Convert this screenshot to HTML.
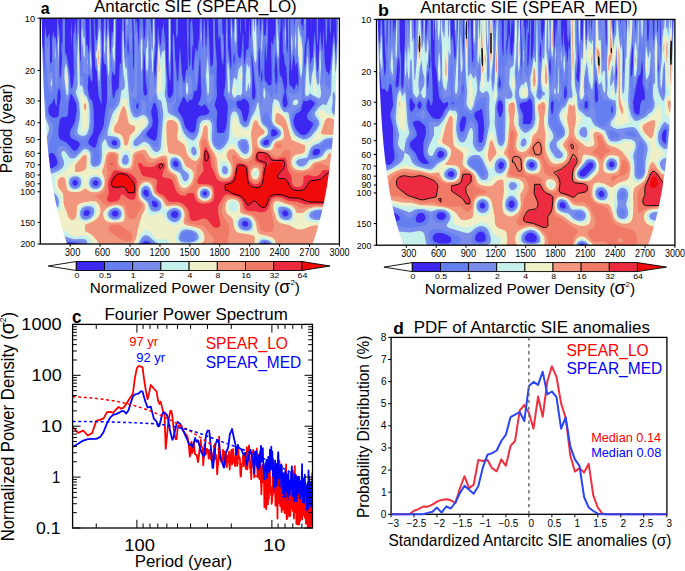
<!DOCTYPE html><html><head><meta charset="utf-8"><style>html,body{margin:0;padding:0;background:#fff;}svg{display:block;}</style></head><body><svg width="685" height="571" viewBox="0 0 685 571" font-family='"Liberation Sans", sans-serif'>
<rect width="685" height="571" fill="#fff"/>
<clipPath id="wa"><rect x="40.3" y="18.2" width="299.10" height="225.80"/></clipPath>
<g clip-path="url(#wa)">
<rect x="40.3" y="18.2" width="299.10" height="225.80" fill="#3c28f0"/>
<path d="M339.3 243.7 268.1 243.7 267.8 243.1 265.3 242.5 262.8 243.0 262.5 243.7 150.8 243.7 150.8 243.2 149.3 242.2 146.3 241.1 143.8 241.9 142.3 243.2 142.3 243.7 78.5 243.7 78.5 243.2 77.3 242.9 72.3 242.5 40.3 242.1 40.3 167.1 45.3 167.2 48.8 168.2 52.3 167.9 54.3 167.1 56.1 165.7 57.1 164.2 57.5 162.2 57.0 159.7 55.8 156.7 53.8 153.7 52.8 153.0 49.8 153.1 45.3 159.6 40.3 159.5 40.3 18.2 41.4 18.2 41.6 48.2 41.8 50.7 42.8 45.0 43.5 51.2 44.3 72.8 44.5 38.2 45.3 25.5 46.4 35.2 47.3 38.2 47.8 37.7 48.8 34.0 49.3 33.6 49.8 35.2 50.1 60.7 50.3 63.3 50.8 63.6 51.8 62.1 52.0 60.2 52.2 39.2 53.3 30.2 54.3 37.5 54.8 37.7 55.3 36.8 55.8 38.1 56.8 47.7 57.1 18.2 58.1 18.2 58.3 23.6 59.2 28.2 59.6 33.2 59.4 69.2 59.8 78.3 60.3 78.3 60.8 75.3 61.7 63.7 61.9 53.7 61.3 51.1 61.0 43.7 61.3 41.3 62.3 48.9 62.6 18.2 64.9 18.2 65.1 51.2 65.3 53.2 66.3 54.3 66.9 56.2 70.1 75.7 70.5 84.2 71.3 88.2 71.8 88.2 72.3 87.1 73.0 84.2 73.9 71.7 73.1 39.7 73.3 34.2 73.8 32.9 74.3 32.8 75.2 18.2 76.8 43.0 77.4 18.2 79.3 18.2 79.5 49.7 80.3 63.3 80.8 59.2 81.0 18.2 84.2 18.2 84.3 20.6 84.5 18.2 85.3 18.2 86.3 44.3 86.8 45.7 87.3 44.7 87.8 45.3 88.8 54.7 89.5 44.7 89.5 18.2 90.7 18.2 92.5 78.7 91.8 82.2 90.8 80.2 89.3 74.3 88.8 74.9 88.2 79.2 87.7 87.7 89.0 96.2 90.3 98.9 92.1 100.7 93.0 103.7 93.7 111.2 94.0 126.2 93.1 132.7 88.9 139.7 88.2 142.2 88.7 143.7 90.3 145.5 92.8 147.3 94.3 147.8 95.3 147.3 96.2 145.7 98.5 136.7 102.2 129.2 103.7 125.2 104.9 113.2 106.9 101.7 107.0 79.2 106.4 68.2 105.8 64.0 104.8 64.6 103.9 63.2 103.1 54.7 103.8 18.2 105.8 18.2 106.3 40.2 106.8 36.8 107.3 18.2 108.7 18.2 110.3 55.1 110.8 53.3 111.8 31.0 112.3 31.4 112.8 33.9 113.3 31.1 113.6 18.2 116.4 18.2 115.4 72.2 114.8 75.3 114.3 75.6 112.8 72.1 112.3 71.9 111.7 76.7 111.8 84.2 112.8 96.8 113.3 98.5 113.8 98.6 115.6 91.2 116.3 90.1 117.8 89.3 118.7 86.7 119.7 64.2 119.8 63.0 120.3 63.0 120.8 64.2 121.3 62.5 121.5 34.2 122.1 18.2 123.8 18.2 124.3 41.4 124.8 47.8 125.3 48.0 125.0 18.2 131.8 18.2 132.5 28.2 133.1 65.7 133.3 68.8 133.8 69.1 134.3 49.7 133.4 18.2 135.3 18.2 135.8 25.1 136.8 19.6 138.8 47.6 139.8 18.2 142.9 18.2 143.8 42.3 145.3 34.0 145.9 18.2 150.8 18.2 151.8 35.1 152.3 33.4 152.5 18.2 155.2 18.2 155.5 51.2 154.3 61.4 154.1 68.2 154.8 77.6 155.3 76.9 155.8 72.9 156.8 57.2 157.8 28.2 158.3 27.3 159.2 38.2 160.8 46.8 161.8 31.7 162.3 27.6 162.8 28.7 163.3 26.2 163.8 18.2 164.1 30.7 165.3 41.1 166.3 66.1 167.5 80.7 167.5 93.2 168.3 97.1 169.3 98.3 170.3 97.8 172.3 95.2 173.3 90.7 173.3 72.2 172.5 43.7 172.7 36.7 173.3 33.5 173.8 33.2 174.3 37.8 175.3 58.7 177.3 81.1 177.8 81.5 178.3 78.7 179.4 53.2 179.8 48.8 180.3 48.5 181.8 72.4 183.3 81.1 183.8 83.0 184.3 82.9 185.8 71.5 186.3 70.1 187.3 70.0 187.8 67.7 186.8 18.2 188.6 18.2 188.5 57.2 189.3 66.8 189.8 66.7 189.9 66.2 190.5 58.2 190.2 23.7 190.3 22.2 190.8 22.3 191.3 21.3 191.6 18.2 192.0 18.2 193.4 37.2 193.3 48.8 192.3 44.6 192.0 56.2 192.1 68.2 192.8 71.3 193.3 70.0 195.3 49.0 195.8 48.1 196.8 51.8 197.3 52.1 198.8 40.8 199.3 40.2 199.8 18.2 202.0 18.2 202.3 42.7 202.8 48.7 203.7 18.2 204.5 18.2 205.8 48.3 206.3 46.2 207.4 18.2 208.3 18.2 210.3 63.3 210.8 66.2 211.3 66.8 212.3 66.0 213.1 61.7 213.4 51.7 212.9 18.2 214.6 18.2 215.2 39.7 216.9 63.7 216.5 82.7 217.0 93.2 216.8 96.7 215.1 102.7 214.7 105.7 216.8 110.3 217.3 112.7 216.5 123.2 217.3 132.7 220.8 133.1 224.0 132.7 225.8 128.2 226.7 123.2 227.8 106.7 227.4 103.2 223.8 94.9 223.6 93.2 225.1 85.7 225.6 78.7 225.9 18.2 227.6 18.2 228.0 47.2 230.3 65.3 230.8 68.2 231.3 68.4 231.4 58.7 230.5 38.7 230.5 18.2 232.2 18.2 232.8 33.3 233.3 31.8 234.0 18.2 237.4 18.2 237.6 51.7 238.3 56.2 239.8 58.6 240.8 57.2 241.6 53.2 242.8 33.8 243.3 34.4 243.8 57.2 244.3 63.5 244.8 64.0 246.3 49.2 246.8 49.0 247.8 50.1 248.6 47.2 249.3 18.2 250.3 37.7 250.8 36.7 251.3 18.2 256.6 18.2 257.3 26.9 257.8 24.8 258.0 18.2 259.8 18.2 260.2 29.2 260.8 33.7 261.6 18.2 263.3 18.2 263.6 32.7 263.8 35.4 264.3 36.0 264.8 35.0 265.3 35.2 265.8 34.5 266.7 18.2 267.8 18.2 267.7 37.7 266.8 61.6 266.3 59.4 265.3 42.0 264.5 58.2 264.4 74.2 264.8 78.9 265.8 82.0 266.8 82.5 268.3 85.2 270.8 85.6 271.4 83.7 271.8 75.7 271.1 50.7 271.3 40.2 272.3 44.9 273.3 42.9 274.3 33.8 275.3 40.7 275.7 18.2 277.7 18.2 277.8 23.4 278.3 23.4 278.5 18.2 280.7 18.2 280.5 29.7 280.3 32.6 279.8 32.4 279.6 37.7 279.4 71.2 279.9 74.7 281.9 77.7 284.5 88.7 284.8 92.2 283.0 98.2 282.6 102.7 283.4 106.2 284.3 107.3 285.3 107.5 286.8 106.1 287.7 103.2 285.8 92.2 286.9 84.2 287.1 79.2 286.3 68.2 285.8 65.7 284.8 64.2 283.8 54.0 283.3 54.5 282.8 48.9 282.6 18.2 283.3 18.2 283.8 30.9 284.3 28.1 284.6 18.2 286.2 18.2 286.5 46.2 287.3 54.0 287.9 47.2 287.7 18.2 289.3 18.2 289.6 57.2 288.9 80.7 289.8 85.3 290.3 86.1 291.8 86.4 293.8 90.0 294.8 88.6 296.3 82.7 297.8 86.5 298.3 85.7 298.5 77.2 297.3 63.5 296.8 62.0 295.8 66.7 295.3 65.7 293.8 54.3 293.3 55.4 291.8 71.5 291.3 70.6 290.5 57.2 290.2 18.2 292.1 18.2 292.3 20.7 292.6 18.2 294.2 18.2 294.8 27.1 295.1 18.2 301.0 18.2 301.3 24.6 301.8 25.4 302.3 23.4 302.8 29.2 303.3 30.5 303.8 18.2 306.2 18.2 306.3 40.0 306.1 41.7 305.3 42.7 304.8 46.9 304.3 62.7 304.8 67.7 305.8 60.0 306.4 44.2 307.3 42.0 308.3 35.9 309.1 42.7 310.3 64.8 311.8 58.5 312.8 57.0 314.3 32.6 314.8 33.4 315.9 46.2 316.7 68.2 317.3 71.6 317.8 71.7 318.3 68.2 319.0 46.2 320.3 30.2 321.8 50.0 322.3 51.5 323.8 27.1 324.4 54.7 325.0 63.2 326.3 71.6 327.8 72.0 328.8 75.0 329.3 74.6 330.4 68.2 333.8 31.4 334.5 36.2 335.8 55.7 336.6 41.2 336.3 18.2 337.9 18.2 338.0 37.2 338.3 42.1 338.8 42.9 339.3 41.2 339.3 243.7ZM67.8 31.1 67.8 18.2 67.8 31.1ZM71.3 45.1 70.9 33.2 71.3 18.2 71.9 34.7 71.3 45.1ZM101.3 104.2 99.3 98.4 98.3 93.5 96.8 71.3 95.5 68.7 95.0 65.2 93.6 18.2 94.7 18.2 95.5 35.7 96.1 39.7 96.8 41.3 97.6 33.2 97.9 18.2 101.0 18.2 102.2 48.2 101.1 75.7 101.7 102.2 101.3 104.2ZM170.3 82.2 169.2 78.7 168.5 71.2 168.2 18.2 170.7 18.2 170.9 73.7 170.3 82.2ZM171.8 25.3 171.6 18.2 171.8 25.3ZM176.8 37.7 176.3 37.2 176.0 33.2 175.8 18.2 178.0 18.2 177.8 36.1 177.3 35.3 176.8 37.7ZM222.8 66.3 221.3 57.4 220.3 37.5 219.8 35.0 218.8 39.2 218.3 38.8 217.8 18.2 222.1 18.2 222.4 30.7 222.8 35.3 223.3 33.5 223.6 35.7 224.0 46.2 223.8 58.7 222.8 66.3ZM240.8 32.9 240.3 33.2 239.9 27.7 240.4 18.2 241.0 18.2 240.8 32.9ZM245.8 32.6 245.3 31.5 244.9 18.2 245.9 18.2 245.8 32.6ZM311.3 32.8 311.1 18.2 311.4 18.2 311.3 32.8ZM317.3 44.6 316.7 35.2 316.7 18.2 318.1 18.2 318.1 39.2 317.8 43.6 317.3 44.6ZM326.3 45.4 325.7 38.7 325.3 18.2 327.3 18.2 327.1 36.7 326.3 45.4ZM330.3 34.6 329.7 29.2 329.6 18.2 331.0 18.2 330.8 32.7 330.3 34.6ZM128.4 54.2 128.7 47.7 128.3 37.5 127.8 38.2 127.4 46.7 127.8 53.3 128.3 54.5 128.4 54.2ZM328.8 47.0 328.8 41.1 328.8 47.0ZM260.0 76.2 260.3 73.2 260.0 55.2 259.3 46.5 258.5 53.2 258.3 67.7 258.8 74.3 259.3 76.3 259.8 76.6 260.0 76.2ZM146.2 95.2 147.0 93.7 147.2 91.2 145.8 80.9 144.8 58.7 143.8 50.1 143.2 70.7 143.3 89.7 144.0 94.7 144.8 95.6 146.2 95.2ZM276.4 85.2 277.3 80.7 277.5 73.7 275.8 50.9 274.7 70.7 275.3 80.2 275.8 83.9 276.4 85.2ZM253.9 99.7 255.3 96.7 255.6 92.2 251.8 52.6 251.4 56.7 252.4 75.2 252.1 95.2 252.7 99.2 253.3 99.9 253.9 99.7ZM234.4 63.7 234.9 57.7 234.3 53.4 233.8 54.2 233.5 59.7 233.8 64.0 234.4 63.7ZM193.1 132.7 194.3 132.0 195.3 130.2 196.8 120.2 198.3 116.9 200.6 115.7 206.3 115.1 208.7 113.2 209.7 111.2 204.8 103.9 201.8 106.5 198.8 105.0 198.2 104.2 198.3 102.9 200.3 99.7 201.5 92.7 200.8 82.7 200.4 61.7 199.8 57.8 198.1 82.7 196.8 90.7 196.3 91.2 194.8 90.6 194.3 91.1 192.3 99.8 191.8 100.1 189.8 99.6 187.8 102.2 187.3 102.3 186.3 101.2 184.3 97.1 183.8 96.7 183.3 97.0 178.7 106.7 177.9 109.2 178.3 111.2 182.6 117.7 184.7 125.2 186.3 128.4 189.8 131.9 191.6 132.7 193.1 132.7ZM261.8 82.2 262.5 76.2 262.3 68.2 260.9 76.2 261.2 81.2 261.8 82.2ZM45.8 86.7 45.8 85.5 45.8 86.7ZM55.2 117.7 57.9 116.7 58.8 114.5 59.2 106.7 60.7 97.2 60.3 91.7 59.3 87.8 58.3 89.9 57.6 93.2 56.8 105.5 56.3 105.9 55.4 104.2 54.3 98.2 53.8 98.5 52.3 102.7 49.3 105.3 48.5 108.2 48.4 111.7 49.5 114.7 52.3 117.2 53.8 117.8 55.2 117.7ZM75.4 150.7 76.8 149.7 78.4 147.7 79.6 145.2 79.7 143.7 78.8 142.2 77.5 141.2 71.8 138.6 70.6 137.2 70.0 135.2 69.9 132.7 70.5 130.2 73.8 124.2 75.3 120.2 76.8 109.2 76.2 103.2 71.3 93.6 70.3 95.5 68.6 102.7 68.1 113.2 67.5 115.7 65.8 117.3 62.3 117.1 60.5 118.7 59.7 120.2 58.5 129.7 58.4 134.7 59.1 137.7 60.3 139.4 66.8 142.8 72.8 149.9 74.3 150.8 75.4 150.7ZM245.7 121.7 246.8 120.2 248.3 115.2 249.1 110.2 249.2 106.2 248.7 103.2 247.8 101.2 243.8 98.3 240.8 100.7 237.8 100.7 236.8 102.2 236.4 104.2 237.6 107.2 240.3 109.8 241.6 111.7 243.8 120.7 244.8 121.8 245.7 121.7ZM305.7 134.7 308.8 132.1 313.3 124.7 312.8 122.9 307.8 119.3 307.0 117.2 307.0 115.2 307.8 113.2 314.8 104.2 314.7 102.7 314.0 101.7 310.3 99.4 306.3 101.6 303.8 100.6 303.3 100.9 300.8 110.5 299.8 111.8 296.8 113.3 295.3 114.7 293.7 119.2 293.6 122.2 294.2 125.2 295.3 128.0 297.3 131.1 299.3 133.2 301.8 134.8 303.8 135.2 305.7 134.7ZM137.9 108.7 138.5 106.2 138.3 102.6 137.8 102.6 136.8 104.2 136.1 106.7 136.8 108.9 137.9 108.7ZM155.1 140.7 156.2 139.2 156.9 136.7 158.4 120.7 157.3 109.7 155.8 104.2 154.8 102.5 153.8 103.2 152.8 105.2 151.2 111.2 151.3 113.7 152.7 120.2 152.5 124.2 151.2 127.2 147.1 132.2 146.4 134.2 146.9 135.7 148.4 137.2 153.3 140.4 155.1 140.7ZM274.3 136.2 276.9 134.7 277.5 133.7 277.5 132.2 275.8 130.0 272.8 129.1 271.8 129.7 271.3 130.9 271.1 135.2 271.8 136.4 274.3 136.2ZM267.3 144.7 268.3 143.7 269.0 141.7 268.8 139.9 267.8 139.5 264.3 140.5 263.0 142.7 263.3 143.8 264.3 144.8 265.8 145.2 267.3 144.7ZM115.2 145.7 116.9 144.7 117.2 142.2 115.8 140.5 113.3 140.3 111.7 141.7 111.8 143.7 113.1 145.2 115.2 145.7ZM316.7 155.2 318.8 153.9 319.9 152.2 320.1 150.2 318.8 148.9 315.3 149.0 313.8 150.1 312.8 151.7 312.6 153.7 313.3 154.8 314.8 155.5 316.7 155.2ZM177.5 166.7 178.5 164.7 177.8 162.2 176.3 160.8 174.3 160.8 172.9 162.7 173.3 165.2 175.3 167.0 177.5 166.7ZM75.7 185.7 77.5 184.2 77.9 182.2 76.8 180.4 74.8 179.8 72.8 181.1 72.3 183.2 73.4 185.2 75.7 185.7ZM96.8 185.7 98.4 184.2 98.3 181.8 96.3 180.3 94.3 180.5 92.9 182.2 93.0 184.2 94.8 185.8 96.8 185.7ZM148.1 196.7 148.9 195.2 148.3 191.6 146.8 189.7 144.8 189.6 143.3 191.7 143.5 194.2 145.3 196.2 148.1 196.7ZM205.7 195.7 206.9 194.7 207.1 192.7 205.8 191.3 204.3 191.3 202.8 192.7 202.8 194.2 203.8 195.5 205.7 195.7ZM52.7 200.7 53.7 200.2 52.8 198.7 51.8 198.1 48.8 198.2 50.8 200.5 52.7 200.7ZM156.2 207.2 157.3 206.4 157.9 205.2 157.4 202.7 154.8 200.8 152.3 200.8 151.7 202.7 152.6 205.7 154.3 207.2 156.2 207.2ZM87.9 215.7 89.7 213.7 89.7 211.7 89.1 210.7 87.8 210.0 85.3 210.2 83.5 212.2 83.7 214.7 85.3 216.0 87.9 215.7ZM286.9 216.2 288.5 214.2 287.8 211.7 285.3 210.2 283.0 210.7 282.0 212.7 282.8 215.1 284.8 216.4 286.9 216.2ZM115.6 216.7 117.8 215.5 118.5 213.2 117.3 211.1 114.8 210.4 112.3 211.7 111.5 213.7 112.8 216.0 115.6 216.7ZM176.3 217.7 177.4 216.7 178.2 215.2 177.9 212.7 175.8 211.0 172.8 211.5 171.0 213.7 171.4 216.2 173.8 218.0 176.3 217.7ZM246.9 226.7 248.5 224.7 247.9 222.2 245.8 220.9 243.3 221.3 242.0 223.2 242.4 225.2 244.3 226.8 246.9 226.7Z" fill="#657ef0" fill-rule="evenodd"/>
<path d="M40.3 88.0 40.3 18.2 40.9 29.7 41.1 68.2 40.3 88.0ZM66.8 101.2 65.8 98.9 64.3 90.9 62.1 87.2 61.5 82.7 63.5 55.2 63.1 18.2 64.5 18.2 64.2 55.7 64.8 59.4 66.3 59.6 66.8 61.2 69.1 79.2 69.2 93.7 68.3 98.5 67.3 101.0 66.8 101.2ZM86.8 75.5 84.8 72.4 83.8 73.2 83.3 73.1 82.6 62.2 81.8 58.5 81.2 45.7 81.2 18.2 83.5 18.2 83.8 27.3 85.0 33.2 86.3 51.9 87.3 50.2 87.8 51.4 88.4 66.2 87.8 72.9 86.8 75.5ZM91.3 75.1 90.8 74.7 90.2 72.2 89.5 64.7 90.1 38.2 89.8 18.2 90.4 18.2 90.5 37.7 91.8 60.2 91.9 71.2 91.3 75.1ZM99.3 89.6 98.3 86.0 96.8 65.5 95.8 64.5 95.3 61.4 95.0 45.7 95.3 42.9 96.8 45.4 97.3 42.5 98.4 18.2 100.4 18.2 101.2 56.7 100.2 85.2 99.8 88.9 99.3 89.6ZM104.8 60.0 104.3 59.2 103.9 55.2 103.8 42.7 104.4 18.2 105.4 18.2 105.9 51.2 105.5 57.2 104.8 60.0ZM109.3 100.0 108.6 98.2 108.1 93.2 106.5 56.7 107.7 18.2 108.1 18.2 109.0 34.7 111.0 89.2 110.7 95.7 109.8 99.6 109.3 100.0ZM114.3 70.0 111.7 60.2 111.6 44.2 111.8 38.3 112.3 37.0 112.8 39.1 113.3 37.6 113.8 18.2 115.6 18.2 115.3 62.2 114.9 68.7 114.3 70.0ZM339.3 243.7 270.2 243.7 270.2 243.2 268.3 241.9 264.8 241.1 261.8 242.0 260.4 243.2 260.4 243.7 153.7 243.7 153.7 243.2 149.3 239.7 145.8 238.4 144.3 238.8 142.8 239.9 140.2 243.7 83.0 243.7 82.3 242.5 80.3 241.8 71.3 240.8 63.8 239.4 50.8 240.2 45.3 239.5 40.3 239.5 40.3 206.1 45.3 206.3 46.5 207.2 48.3 207.7 52.3 207.6 54.3 206.9 55.8 205.7 56.6 204.2 56.9 202.2 56.5 199.7 55.3 197.6 53.3 195.9 51.3 195.2 47.8 195.6 45.3 197.9 40.3 198.3 40.3 169.7 45.3 169.9 48.8 170.5 51.8 170.4 55.8 169.2 58.8 166.9 60.1 164.7 60.3 162.2 57.4 153.2 57.2 150.2 58.3 147.3 60.8 146.0 63.3 146.1 65.3 146.9 67.3 148.7 71.3 153.6 73.8 154.8 75.3 154.6 76.8 153.5 82.8 146.8 84.8 145.9 86.3 146.1 90.0 148.7 92.5 152.2 92.9 154.2 92.3 161.0 93.2 163.7 94.8 164.6 96.3 164.5 97.8 163.7 99.1 161.7 99.7 157.7 98.8 149.7 99.4 143.2 100.6 139.2 104.3 132.6 106.1 127.2 107.2 122.2 107.9 112.7 108.8 108.3 109.8 107.1 111.3 108.0 112.8 107.8 115.2 105.2 116.7 101.7 119.4 91.2 120.7 77.7 122.0 71.2 122.1 37.2 122.8 18.2 123.4 18.2 124.1 45.7 124.8 56.0 125.3 58.3 125.8 57.7 126.3 54.8 126.8 55.3 128.2 66.2 129.4 83.7 130.3 89.0 131.8 94.0 132.3 93.6 134.0 86.2 134.7 76.7 134.7 44.7 133.7 18.2 134.9 18.2 135.3 35.4 135.8 34.7 136.3 31.7 136.8 31.5 137.3 35.6 137.9 52.7 137.2 70.2 137.3 92.7 136.8 95.9 135.8 98.1 134.3 98.5 132.3 96.3 132.0 97.2 131.6 102.7 132.3 108.2 133.3 111.2 134.8 113.6 136.3 114.5 137.8 114.4 140.0 112.7 141.2 110.2 141.1 102.2 141.8 98.6 146.1 102.7 146.4 104.2 145.9 110.7 146.6 112.7 149.8 117.7 150.5 122.7 148.9 126.7 143.8 132.7 143.0 134.7 142.9 136.7 144.1 138.2 149.4 141.2 154.3 146.6 155.8 147.3 156.8 147.0 157.8 145.8 158.7 142.2 160.5 124.7 160.8 115.7 159.8 108.2 157.1 101.7 154.8 94.6 154.3 94.8 150.3 103.1 149.5 103.2 149.2 102.2 149.5 78.2 150.6 65.7 149.8 22.6 150.3 21.2 151.7 41.2 152.3 42.7 152.8 18.2 154.7 18.2 155.1 44.7 153.8 58.7 153.6 71.7 153.9 83.2 154.8 88.9 155.8 83.9 156.7 73.7 158.3 38.7 160.8 52.9 162.3 39.5 163.3 43.2 163.8 40.9 164.8 43.9 166.6 81.7 166.4 93.7 167.0 97.7 168.3 101.5 169.8 103.2 170.8 103.0 173.3 101.5 174.5 98.2 175.1 93.2 173.0 50.7 173.2 41.2 173.3 39.8 173.8 39.6 175.6 75.2 176.2 98.2 175.3 103.0 173.2 105.7 172.3 107.7 172.5 110.7 173.8 112.7 178.4 116.2 180.5 118.7 183.8 128.1 185.8 131.7 188.8 134.8 191.8 136.3 194.3 136.0 196.3 133.8 197.3 130.7 198.4 122.7 200.3 119.4 202.8 118.1 208.3 117.1 210.3 117.3 211.8 118.1 213.3 120.6 214.0 125.2 214.2 131.2 213.6 138.7 213.9 141.7 215.3 144.8 216.8 146.1 218.3 146.7 220.3 146.4 222.3 144.9 223.9 142.7 225.4 139.2 227.9 128.2 229.1 113.2 230.4 109.7 231.8 108.4 233.8 107.5 235.8 108.5 239.9 113.7 241.4 120.7 242.3 123.0 243.8 124.6 245.8 124.9 247.3 123.8 248.2 122.2 251.8 110.3 254.3 105.2 256.3 99.7 257.0 95.2 257.0 91.2 255.0 70.2 253.5 61.7 252.6 47.2 251.5 40.2 251.7 18.2 254.0 18.2 254.3 24.6 254.8 23.1 254.9 18.2 256.2 18.2 257.3 35.8 257.8 35.2 258.8 21.6 259.3 33.7 258.0 46.2 257.4 71.7 257.9 77.7 259.5 86.7 261.3 105.1 261.8 106.2 262.3 106.0 262.0 93.2 263.3 80.9 263.8 79.7 265.8 87.2 267.8 91.9 269.3 93.7 271.3 98.6 272.3 97.5 273.5 92.2 273.3 79.8 273.8 79.9 274.5 91.2 275.3 93.6 276.3 94.8 277.2 94.2 277.6 92.7 278.8 82.4 279.3 81.9 279.8 82.2 280.9 83.7 282.3 91.7 281.3 100.7 281.5 104.2 282.9 108.2 283.8 109.3 285.3 109.9 289.3 107.5 290.2 105.2 289.9 98.7 288.3 95.7 287.9 93.7 288.3 90.4 290.3 93.4 291.8 92.8 293.3 94.4 294.3 94.7 296.3 92.6 297.8 93.4 298.3 93.1 299.1 90.7 299.6 86.2 299.2 73.2 296.8 45.6 296.0 55.2 295.8 56.9 295.3 57.2 293.8 40.3 291.8 63.8 291.3 61.9 290.7 34.7 290.8 18.2 291.7 27.2 294.3 37.1 295.2 29.2 295.5 18.2 296.8 18.2 297.3 22.7 297.4 18.2 299.0 18.2 299.3 23.6 303.3 40.0 304.0 35.7 304.3 18.2 305.9 18.2 305.8 31.7 304.1 40.7 303.0 70.7 301.6 83.7 302.1 94.7 301.5 101.2 300.8 104.8 299.8 107.1 294.8 110.5 293.0 112.7 292.0 115.2 291.5 118.7 292.2 124.7 294.8 131.1 297.8 134.8 302.3 137.3 305.8 137.2 309.3 135.1 315.8 127.5 317.3 123.7 316.6 121.2 312.3 117.4 311.3 114.7 312.3 111.2 315.8 107.6 317.3 105.2 317.7 103.2 317.3 101.4 315.8 99.6 310.8 96.9 309.8 96.9 306.8 98.8 305.8 98.6 304.5 96.7 303.8 94.2 304.7 78.2 306.9 51.7 307.8 46.5 308.3 47.6 308.6 50.7 309.3 68.9 310.3 74.4 313.3 62.3 314.8 40.4 315.4 46.7 316.2 69.2 316.8 75.1 317.8 78.6 318.6 73.7 319.3 51.7 320.3 41.4 320.8 43.7 321.2 52.2 321.8 83.7 322.3 84.1 323.1 81.7 323.8 71.3 324.3 69.4 325.8 85.7 326.3 86.5 327.3 86.6 328.8 89.3 329.3 88.8 329.9 85.7 333.8 36.9 334.5 41.7 335.3 61.1 335.8 63.4 337.3 38.5 338.3 53.5 339.3 45.7 339.3 141.5 335.3 141.2 333.8 140.1 331.8 139.7 326.8 140.5 324.7 141.7 320.5 145.2 315.3 146.8 313.3 147.9 311.2 150.7 310.5 154.2 310.8 155.7 311.8 156.8 313.3 157.3 315.8 157.2 318.3 156.4 320.3 155.1 324.2 149.2 326.3 147.6 331.3 146.9 333.8 147.3 335.3 148.5 339.3 148.2 339.3 211.6 335.3 211.5 330.3 212.5 321.8 211.2 317.5 211.2 313.8 212.5 312.7 213.7 312.5 214.7 313.8 216.8 317.3 217.9 321.8 217.9 330.3 216.7 335.3 217.5 339.3 217.4 339.3 243.7ZM126.8 39.7 126.3 39.9 125.8 36.4 125.3 18.2 127.8 18.2 127.7 30.2 126.8 39.7ZM130.8 50.3 129.8 46.5 129.3 38.7 129.5 18.2 130.7 18.2 132.0 36.2 131.8 47.9 130.8 50.3ZM147.3 79.1 146.8 78.7 146.3 76.5 145.8 71.0 145.1 47.2 147.6 18.2 148.6 18.2 149.1 70.2 148.6 75.7 147.3 79.1ZM169.8 73.3 169.2 70.2 168.8 62.7 168.5 18.2 170.5 18.2 170.5 57.7 170.3 70.7 169.8 73.3ZM202.8 79.7 202.3 79.2 201.8 74.2 201.6 57.2 200.1 40.7 200.3 21.6 200.8 21.7 201.2 18.2 201.8 27.3 202.0 54.2 203.7 68.2 203.5 75.2 202.8 79.7ZM214.8 68.0 214.3 65.7 213.2 18.2 214.3 18.2 215.2 57.7 214.8 68.0ZM219.3 27.0 219.1 18.2 219.9 18.2 219.3 27.0ZM234.8 100.8 233.3 100.7 231.3 98.6 229.3 99.1 228.3 98.6 227.3 96.6 226.6 93.2 226.2 18.2 227.0 18.2 227.7 52.7 228.8 58.0 230.8 80.7 231.3 82.4 233.0 73.7 236.0 68.2 236.8 62.6 239.8 63.1 240.3 62.7 242.3 57.1 242.8 57.8 243.2 63.2 243.7 75.2 243.3 83.7 243.8 86.3 244.4 84.2 244.7 76.2 246.3 58.3 246.8 56.5 248.3 57.3 249.3 52.4 249.8 52.6 251.6 78.2 251.2 89.7 250.3 98.0 249.8 98.4 248.3 97.0 245.8 96.5 243.8 94.5 241.3 97.7 240.3 98.2 237.8 97.7 234.8 100.8ZM231.8 49.4 230.8 40.2 230.7 18.2 231.9 18.2 232.5 44.2 232.3 49.2 231.8 49.4ZM236.3 50.6 235.8 50.2 234.2 45.2 233.7 42.2 234.6 18.2 236.4 18.2 236.9 37.7 236.3 50.6ZM261.3 62.4 260.7 59.2 260.6 44.2 261.8 18.2 262.8 18.2 262.7 49.7 261.3 62.4ZM278.3 66.1 277.3 60.8 276.5 49.2 276.1 18.2 277.5 18.2 277.8 29.6 278.3 30.8 278.8 28.0 278.9 30.2 279.1 54.7 278.3 66.1ZM285.3 54.5 284.6 49.2 284.4 36.2 285.1 18.2 285.8 18.2 286.0 42.7 285.3 54.5ZM288.3 40.2 288.0 18.2 288.9 18.2 288.9 37.2 288.8 39.4 288.3 40.2ZM317.3 36.3 317.0 18.2 317.8 18.2 317.8 30.7 317.3 36.3ZM326.3 38.8 325.9 18.2 326.8 18.2 326.3 38.8ZM337.3 32.1 337.1 18.2 337.5 18.2 337.3 32.1ZM266.8 53.5 266.3 51.0 266.1 40.2 267.3 21.4 267.5 37.7 266.8 53.5ZM84.3 139.3 80.8 138.9 77.3 137.3 74.9 135.2 73.9 132.7 74.3 130.2 77.4 120.7 78.4 111.7 77.8 103.2 76.7 100.2 74.1 95.7 73.4 91.7 75.3 74.7 75.8 74.6 76.3 73.0 77.8 22.4 78.3 23.3 78.9 28.7 79.3 55.7 80.3 74.3 80.8 76.9 81.3 77.1 82.8 75.5 83.1 76.2 84.3 87.4 84.8 89.0 86.3 90.5 86.8 92.0 88.8 99.3 90.7 104.2 91.5 109.2 91.7 122.7 90.9 129.7 89.7 133.2 88.0 136.2 85.8 138.6 84.3 139.3ZM141.3 91.2 139.6 48.2 140.3 24.0 141.3 28.7 142.3 27.7 143.0 38.7 142.7 70.7 141.8 90.1 141.3 91.2ZM187.8 43.9 187.5 33.2 187.8 26.1 188.3 36.2 187.8 43.9ZM208.3 103.7 207.3 102.7 206.5 99.7 204.4 75.2 204.4 63.2 203.7 56.7 203.6 49.2 203.8 29.6 204.3 25.8 205.3 59.7 205.8 60.5 206.4 57.2 207.8 35.0 208.3 36.9 210.3 74.6 210.8 75.9 211.8 73.9 212.8 73.4 213.7 76.7 213.8 91.2 213.3 96.6 212.3 99.6 209.3 103.3 208.3 103.7ZM56.3 88.5 55.8 87.8 55.4 84.7 54.3 61.0 53.8 59.2 53.3 59.1 52.8 54.7 52.6 42.2 52.8 37.5 53.3 36.0 54.3 42.7 55.3 40.9 55.8 43.2 56.8 60.6 57.3 56.6 57.8 26.7 58.9 32.2 59.2 38.2 58.9 68.2 58.3 77.8 56.3 88.5ZM222.8 57.4 221.8 54.4 221.3 49.7 220.9 35.2 221.3 28.8 221.8 30.2 222.3 39.7 223.3 47.7 222.8 57.4ZM75.3 60.5 74.4 47.7 75.3 32.2 76.1 51.7 75.9 57.7 75.3 60.5ZM191.3 47.1 190.8 45.4 190.8 34.2 191.3 34.6 191.4 36.2 191.3 47.1ZM283.3 37.0 283.3 35.3 283.3 37.0ZM51.3 94.3 48.8 89.9 47.8 85.7 46.8 65.7 46.4 62.7 45.8 61.4 45.4 55.2 45.3 37.4 45.8 38.5 46.8 47.5 47.3 48.3 48.8 40.7 49.3 40.5 49.4 72.2 49.8 74.3 50.8 70.7 51.3 69.7 51.8 69.9 52.9 73.7 53.3 86.7 52.3 92.7 51.3 94.3ZM273.3 69.2 273.0 54.7 274.3 45.0 274.3 54.3 273.3 69.2ZM180.3 97.8 179.1 97.2 178.5 94.2 179.5 82.2 179.8 61.2 180.3 56.5 181.2 76.7 182.5 90.2 181.8 95.1 180.3 97.8ZM196.3 84.2 195.8 84.0 195.2 82.2 194.7 75.2 195.0 63.7 195.8 56.3 196.3 56.5 197.5 59.2 197.8 62.7 197.3 78.1 196.3 84.2ZM187.3 98.3 186.4 97.7 185.8 96.5 184.9 92.2 185.8 78.6 186.3 76.1 188.3 76.3 189.3 77.6 189.8 77.4 190.8 74.6 192.5 83.2 192.3 91.0 191.8 92.9 191.3 93.5 189.8 93.8 188.3 97.2 187.3 98.3ZM45.3 157.0 40.3 156.9 40.3 93.9 40.8 96.0 41.6 97.2 45.3 98.2 46.3 103.2 46.3 112.2 46.8 115.6 48.3 118.6 52.4 123.2 53.6 127.2 52.7 134.2 49.3 142.7 47.7 151.7 45.3 157.0ZM335.9 113.2 336.7 111.7 335.3 104.5 334.2 107.2 334.0 110.2 335.0 113.2 335.3 113.6 335.9 113.2ZM267.7 146.2 269.4 144.7 272.3 139.3 278.7 135.2 279.4 132.7 279.0 131.2 277.8 129.6 272.4 126.2 270.9 124.7 268.9 114.7 267.3 111.1 266.8 111.0 263.3 114.7 262.6 116.7 262.6 119.2 263.9 122.7 267.9 125.7 269.1 127.2 269.5 130.2 269.3 133.7 267.9 136.7 262.8 139.7 261.7 141.2 261.4 142.7 261.8 144.3 263.3 145.9 265.3 146.6 267.7 146.2ZM116.9 147.2 118.3 146.0 119.0 144.2 119.0 142.2 118.1 140.2 116.8 138.9 114.8 138.2 112.5 138.2 110.8 138.8 109.8 139.9 109.3 141.7 109.5 143.7 110.2 145.2 113.3 147.3 115.3 147.5 116.9 147.2ZM246.0 150.7 246.8 149.7 247.3 147.7 246.8 143.7 245.8 142.3 244.8 141.7 242.3 141.9 240.6 143.7 240.4 145.2 241.0 147.2 243.3 150.4 244.8 151.1 246.0 150.7ZM179.2 168.7 180.0 167.7 180.3 165.7 179.9 163.2 179.0 161.2 176.3 159.0 174.8 158.8 173.3 159.3 172.0 160.7 171.5 162.2 171.4 164.2 172.3 166.5 173.8 168.1 175.3 168.8 177.3 169.2 179.2 168.7ZM76.7 187.2 78.2 186.2 79.2 184.7 79.7 182.7 79.3 180.7 77.3 178.4 75.8 177.9 73.8 178.1 72.3 178.9 71.2 180.2 70.6 182.2 70.8 184.2 71.8 186.1 73.3 187.1 74.8 187.5 76.7 187.2ZM97.5 187.2 99.0 186.2 100.0 184.7 100.3 182.7 99.8 180.8 98.8 179.6 96.8 178.6 94.8 178.5 93.3 178.9 91.9 180.2 91.2 181.7 91.1 183.7 91.6 185.2 92.8 186.7 94.3 187.5 97.5 187.2ZM157.2 209.2 158.8 208.0 159.7 206.2 159.8 204.2 159.1 202.2 157.3 200.3 151.8 196.8 149.3 190.2 147.9 188.2 146.3 187.4 144.3 187.7 142.8 189.2 142.0 191.2 141.9 193.7 142.7 195.7 144.3 197.5 148.6 200.7 151.0 206.7 152.3 208.6 154.8 209.7 157.2 209.2ZM206.0 197.2 207.3 196.5 208.3 195.2 208.7 193.7 208.5 192.2 206.8 190.2 205.3 189.7 203.8 189.9 201.6 191.7 201.1 193.2 201.3 194.7 203.3 197.0 206.0 197.2ZM88.1 217.7 89.8 216.7 91.3 215.1 92.1 213.2 92.1 211.2 91.5 209.7 90.3 208.5 88.3 207.9 85.8 208.0 83.8 208.8 82.3 210.4 81.6 212.7 81.7 214.7 82.6 216.7 83.9 217.7 85.8 218.2 88.1 217.7ZM287.6 218.2 289.3 217.1 290.4 215.2 290.5 213.2 289.7 211.2 288.3 209.7 285.8 208.5 283.3 208.3 281.3 208.8 280.3 210.0 279.9 211.7 280.1 213.7 281.0 215.7 282.3 217.2 283.8 218.1 285.8 218.5 287.6 218.2ZM116.3 218.2 118.3 217.4 119.4 216.2 120.2 214.2 120.0 212.2 119.2 210.7 117.8 209.6 115.8 208.9 113.8 209.1 111.8 210.1 110.6 211.2 109.8 212.7 109.8 214.7 110.8 216.5 112.3 217.7 114.3 218.3 116.3 218.2ZM176.7 219.7 178.6 218.2 179.7 216.2 180.1 214.2 179.6 212.2 178.3 210.6 176.3 209.5 174.3 209.4 171.8 210.1 169.8 211.7 169.0 213.2 168.8 214.7 169.3 216.7 170.8 218.7 172.4 219.7 174.8 220.2 176.7 219.7ZM247.7 228.7 249.4 227.7 250.5 225.7 250.6 223.7 249.8 221.7 248.3 220.1 246.3 219.1 243.8 219.0 241.9 219.7 240.8 220.8 240.0 222.7 240.0 224.7 240.8 226.5 241.9 227.7 243.8 228.7 245.8 229.0 247.7 228.7ZM188.3 241.7 192.3 240.9 194.8 239.4 195.0 234.7 193.8 233.2 190.8 231.7 187.8 231.3 185.3 231.6 183.3 232.6 181.9 234.2 181.1 236.7 181.2 238.7 182.1 240.2 183.6 241.2 188.3 241.7Z" fill="#7a8deb" fill-rule="evenodd"/>
<path d="M114.3 63.2 112.8 55.2 112.4 48.7 113.3 46.1 113.5 43.2 114.1 18.2 115.0 18.2 115.3 33.5 114.8 60.1 114.3 63.2ZM127.3 25.0 126.8 24.7 126.9 18.2 127.4 18.2 127.3 25.0ZM134.3 30.7 134.3 18.2 134.3 30.7ZM152.3 72.5 151.1 46.7 151.3 45.9 151.8 51.5 152.3 51.2 153.0 47.2 153.1 18.2 153.9 18.2 154.6 41.2 153.4 51.2 152.8 72.0 152.3 72.5ZM169.8 63.5 169.3 61.0 169.1 54.2 169.0 18.2 170.2 18.2 170.3 48.5 169.8 63.5ZM213.8 31.1 213.8 18.2 213.8 31.1ZM231.3 39.8 231.0 31.2 231.3 18.2 231.8 35.2 231.3 39.8ZM235.8 43.2 235.0 40.7 234.6 36.7 235.1 18.2 236.0 18.2 236.4 30.2 236.3 40.2 235.8 43.2ZM255.8 63.4 254.3 59.4 253.8 55.7 252.4 34.2 252.8 18.2 253.4 18.2 254.3 32.6 254.9 29.2 255.4 18.2 255.9 18.2 256.8 48.2 256.5 58.7 255.8 63.4ZM278.3 58.1 277.8 57.6 277.3 53.7 276.7 45.7 276.4 18.2 277.2 18.2 277.7 33.2 278.7 41.2 278.8 50.7 278.3 58.1ZM305.3 24.4 304.8 24.3 304.8 18.2 305.3 18.2 305.3 24.4ZM261.8 50.6 261.3 49.4 261.3 45.2 262.3 22.5 262.5 38.7 261.8 50.6ZM285.3 44.3 284.9 36.7 285.3 25.4 285.7 32.7 285.3 44.3ZM300.8 77.4 300.3 75.6 298.0 52.7 297.8 35.2 298.3 25.3 299.8 33.5 301.3 38.2 302.7 49.2 302.4 67.2 301.8 73.6 300.8 77.4ZM81.8 47.7 81.4 35.2 81.8 26.7 82.7 31.7 82.8 35.2 82.5 43.7 81.8 47.7ZM104.8 54.4 104.3 52.0 104.1 44.7 104.8 27.9 105.4 43.7 104.8 54.4ZM99.3 80.7 98.8 81.1 96.8 57.9 96.3 58.3 95.8 57.6 95.7 53.2 95.8 50.6 96.3 50.7 96.8 52.5 98.3 35.5 99.3 28.9 99.8 28.4 100.4 35.2 100.7 54.7 99.3 80.7ZM108.8 76.7 107.8 70.3 107.1 56.7 107.8 28.5 108.8 37.8 109.4 55.7 109.4 69.7 108.8 76.7ZM226.8 48.8 226.5 36.7 226.8 29.1 226.8 48.8ZM295.3 48.9 295.1 40.7 295.8 28.9 296.1 42.2 295.8 48.0 295.3 48.9ZM40.3 49.1 40.3 30.0 40.3 49.1ZM339.3 243.7 272.0 243.7 271.3 242.4 268.8 240.6 264.3 239.5 262.3 239.8 260.6 240.7 259.2 242.2 258.6 243.7 158.0 243.7 158.0 243.2 154.8 241.4 148.8 236.0 145.8 235.0 143.8 235.7 141.8 237.5 138.4 243.7 87.2 243.7 87.3 242.2 86.7 240.7 84.3 239.1 73.8 239.3 62.8 235.7 50.3 237.1 47.8 236.8 45.3 235.8 40.3 235.8 40.3 208.9 50.3 209.6 55.3 208.9 56.8 208.1 58.0 206.7 58.8 204.7 59.0 202.2 58.5 198.7 56.9 195.7 54.8 193.6 50.3 190.5 48.8 190.9 45.3 194.3 40.3 194.8 40.3 172.2 45.3 172.5 47.8 173.4 50.8 173.7 57.3 171.5 61.7 168.7 63.4 166.2 64.1 163.7 63.7 160.7 61.3 154.2 61.5 152.2 62.8 151.0 64.3 151.1 65.3 151.7 69.3 157.5 70.8 158.2 72.8 158.4 74.8 158.0 76.3 157.1 83.3 149.6 85.3 148.9 86.8 149.2 88.8 150.7 90.3 153.2 90.7 155.7 90.5 162.2 91.2 164.7 92.8 166.4 95.3 167.0 98.8 165.7 100.9 162.7 101.9 156.7 101.8 144.7 102.8 141.7 104.3 139.8 105.8 139.4 107.7 145.2 108.8 146.7 110.8 148.0 113.8 148.9 116.3 149.1 118.3 148.5 119.7 147.2 120.4 145.2 120.5 142.7 119.9 140.2 118.8 138.5 115.8 136.7 108.1 135.7 107.5 134.7 107.4 133.2 108.2 128.7 112.0 114.7 113.9 111.2 118.8 104.7 119.9 101.2 121.3 91.2 121.8 90.2 123.8 89.5 124.8 86.7 124.9 83.2 123.3 72.5 122.6 57.2 122.6 37.2 122.8 31.4 123.3 29.9 124.2 58.7 125.3 67.0 126.8 68.9 129.5 104.2 130.7 110.7 132.3 114.9 134.3 117.2 135.8 117.7 137.3 117.5 141.8 115.2 143.8 115.0 145.3 115.7 147.2 117.7 148.5 121.2 148.3 123.7 147.0 126.2 142.2 131.2 138.8 135.7 134.3 140.0 133.4 142.2 133.4 144.2 134.3 145.7 136.3 146.3 138.3 145.5 142.8 142.3 144.8 141.9 146.3 142.2 149.3 144.5 153.3 150.5 155.8 151.9 157.4 151.7 159.1 150.7 160.2 149.2 160.8 147.4 163.4 113.2 161.6 101.7 160.8 100.5 158.8 99.8 157.8 98.5 156.5 92.7 158.0 50.7 158.3 45.4 158.8 44.5 160.8 59.3 162.3 50.2 162.8 52.0 163.3 52.2 164.3 49.2 164.8 51.5 165.7 82.7 164.6 94.7 166.8 103.2 167.5 110.2 168.1 112.2 169.8 114.0 175.8 117.0 178.4 119.2 180.2 122.2 182.6 130.2 184.3 133.7 187.8 137.7 192.3 140.4 193.3 140.4 194.8 139.6 197.5 135.7 198.7 132.2 199.9 124.2 201.3 121.6 202.8 120.4 205.3 119.7 208.2 119.7 209.8 120.4 211.3 122.7 212.0 125.7 211.6 138.7 212.3 143.2 213.5 145.7 215.3 148.0 217.3 149.4 219.3 149.9 221.3 149.3 223.7 147.2 226.8 143.2 228.5 139.7 229.2 135.7 230.6 116.7 232.0 112.7 234.3 111.2 236.3 112.2 238.3 115.7 239.6 121.7 240.6 124.2 243.3 126.8 244.8 127.4 246.3 127.3 247.8 126.3 248.9 124.7 251.5 117.2 255.3 110.7 257.3 103.4 257.8 102.3 258.3 102.2 261.2 121.7 262.6 124.2 267.1 128.2 268.1 131.7 267.8 133.7 266.8 135.5 260.9 139.7 260.1 141.7 260.1 143.7 261.3 145.8 263.8 147.4 266.8 147.8 269.5 146.7 273.1 140.7 279.5 136.7 280.6 135.2 281.0 133.7 280.8 131.7 279.8 129.7 273.5 124.7 272.0 121.2 271.6 117.7 272.5 104.2 273.8 99.8 274.8 98.8 278.8 101.0 280.7 107.2 282.8 110.7 284.3 111.9 287.3 112.2 288.6 113.2 290.9 125.7 293.2 131.7 295.4 135.2 299.3 138.1 303.3 139.5 307.3 139.0 310.8 136.7 317.3 129.0 319.4 124.2 319.0 120.7 315.0 115.2 314.8 112.7 318.8 107.3 322.8 104.2 323.8 104.0 325.3 105.3 326.3 104.9 330.6 95.2 331.3 91.2 331.6 74.7 333.8 42.0 334.3 45.2 335.3 71.3 335.8 71.8 337.3 56.5 337.6 68.7 338.3 75.9 338.8 75.1 338.9 73.2 339.3 51.3 339.3 102.6 338.3 103.1 337.3 102.5 334.8 93.5 334.3 92.2 333.8 91.8 333.3 92.0 332.6 94.2 332.6 102.7 331.6 109.7 332.5 113.2 335.3 116.7 339.3 115.8 339.3 139.1 330.8 137.8 327.3 138.2 324.3 139.3 319.0 143.2 313.8 145.3 311.8 146.8 309.9 149.7 307.8 156.5 307.0 157.7 298.6 159.2 296.7 160.7 296.2 162.7 296.8 164.3 298.4 165.7 300.8 166.4 303.3 166.2 306.0 164.7 309.3 159.9 316.8 158.5 321.1 156.7 322.7 155.2 325.8 150.8 327.8 149.4 331.8 148.9 333.8 149.7 335.3 151.7 339.3 151.5 339.3 209.8 330.3 210.3 320.3 209.5 315.8 209.8 311.2 211.7 309.8 213.2 309.2 215.2 309.5 216.7 310.6 218.2 312.4 219.2 315.3 219.9 339.3 219.7 339.3 243.7ZM84.3 135.7 81.8 135.8 79.3 134.9 77.7 133.2 77.2 131.2 79.6 119.7 80.0 114.2 79.2 102.7 75.8 92.2 77.3 87.1 77.7 83.7 77.3 59.2 78.3 31.1 78.8 36.3 79.8 83.7 80.3 85.5 81.8 85.6 82.3 86.2 84.3 94.0 86.8 96.8 88.9 103.2 89.5 108.2 89.7 121.2 89.0 128.2 87.3 133.2 85.8 134.9 84.3 135.7ZM201.3 43.7 200.7 36.7 200.8 32.9 201.3 31.2 201.3 43.7ZM266.8 46.4 266.8 33.6 266.8 46.4ZM130.3 36.4 130.3 34.0 130.3 36.4ZM58.3 63.1 57.8 45.2 58.3 34.9 58.8 37.1 59.0 45.2 58.3 63.1ZM291.8 56.8 291.2 43.2 291.3 36.7 291.8 34.7 292.5 43.7 291.8 56.8ZM84.3 57.9 83.6 55.2 83.1 42.2 83.1 37.7 83.8 36.0 84.5 38.7 84.9 45.7 84.9 54.2 84.3 57.9ZM147.3 70.9 146.8 71.1 146.3 68.8 145.8 53.7 146.3 48.0 146.8 48.3 146.9 47.7 147.8 36.2 148.3 42.6 148.4 58.2 148.0 67.2 147.3 70.9ZM204.3 47.1 204.3 35.8 204.3 47.1ZM141.8 72.1 141.2 68.2 140.6 46.7 140.8 41.2 141.8 38.0 142.3 39.8 142.4 52.7 142.3 67.4 141.8 72.1ZM150.8 45.5 150.8 40.9 150.8 45.5ZM55.3 59.3 55.0 52.2 55.3 47.4 55.7 55.2 55.3 59.3ZM135.8 63.0 135.8 49.1 135.8 63.0ZM319.3 98.4 312.8 95.3 310.3 93.3 307.8 95.7 306.3 96.0 305.5 94.7 305.1 92.7 305.6 77.7 307.3 57.5 307.8 55.8 309.3 81.4 310.3 86.2 311.0 83.7 311.8 75.6 313.6 68.2 314.8 50.1 316.0 75.7 316.8 82.5 317.8 85.2 318.3 85.1 318.9 83.7 319.5 80.7 319.4 60.2 319.8 52.2 320.3 49.9 320.4 51.2 320.9 66.7 319.9 82.7 321.2 93.7 320.5 96.7 319.3 98.4ZM90.8 69.2 90.1 60.2 90.3 51.9 90.8 51.2 91.4 63.2 91.3 67.5 90.8 69.2ZM208.3 95.2 207.8 94.9 207.3 92.5 205.9 75.7 207.8 56.0 209.3 79.2 209.1 90.7 208.3 95.2ZM87.3 66.0 86.9 62.7 87.3 58.0 87.3 66.0ZM229.3 93.2 228.8 93.3 228.5 92.7 228.0 90.2 227.3 70.2 227.5 64.2 228.3 62.3 229.4 73.7 229.9 90.2 229.3 93.2ZM246.3 91.9 245.7 89.7 245.7 75.7 246.8 63.2 247.3 63.5 248.3 68.0 249.3 65.4 249.8 67.0 250.7 80.2 249.8 88.9 249.3 88.7 248.3 82.7 247.2 90.2 246.3 91.9ZM67.3 95.5 66.8 95.1 66.1 92.2 64.4 78.2 64.6 68.7 65.8 64.1 66.3 64.1 67.2 68.2 68.4 78.7 68.4 91.2 68.0 94.2 67.3 95.5ZM235.3 97.3 234.3 97.7 233.3 97.0 231.9 93.2 232.0 89.7 233.3 80.5 233.8 78.5 234.8 77.4 236.8 80.7 238.5 69.7 241.8 64.5 242.3 66.6 242.6 73.2 242.0 92.7 240.8 95.3 239.8 95.3 237.8 94.4 235.3 97.3ZM196.3 72.1 196.3 66.4 196.3 72.1ZM51.3 86.9 50.7 84.2 51.3 78.6 51.8 79.6 52.1 83.2 51.8 86.2 51.3 86.9ZM186.8 94.2 186.2 92.7 185.9 89.2 186.3 83.5 186.8 82.3 187.8 84.2 188.3 88.7 187.8 93.2 187.3 94.2 186.8 94.2ZM264.3 98.4 263.7 97.2 263.3 94.2 263.8 87.9 264.3 88.2 264.8 89.7 265.5 93.7 265.3 96.7 264.8 98.2 264.3 98.4ZM295.8 105.3 293.3 105.0 292.7 102.7 293.3 101.1 296.3 99.1 297.9 100.7 298.3 102.2 297.4 104.2 295.8 105.3ZM45.3 154.3 40.3 154.1 40.3 151.7 40.3 119.8 45.3 118.1 48.5 125.2 49.1 128.2 48.7 131.2 46.2 138.7 46.3 149.2 45.3 154.3ZM246.9 153.7 248.3 152.1 249.1 149.2 248.9 145.2 248.0 141.7 246.8 140.0 245.3 139.2 242.8 139.1 240.3 139.8 238.4 141.2 237.7 142.7 237.7 144.7 238.8 147.7 240.8 151.0 242.8 153.1 244.8 154.1 246.9 153.7ZM195.4 155.2 196.6 153.2 196.6 150.7 195.3 147.8 194.3 146.8 193.3 146.6 192.3 147.2 191.4 148.7 191.2 152.2 192.8 154.8 194.3 155.4 195.4 155.2ZM126.4 164.7 128.4 162.7 128.9 159.2 127.8 155.6 125.8 154.5 124.3 155.0 123.3 156.2 122.2 158.7 122.0 161.2 122.3 162.7 123.3 164.1 124.8 164.8 126.4 164.7ZM185.7 181.2 187.3 180.2 188.5 178.2 188.9 175.7 188.3 173.7 183.0 169.2 180.9 162.2 179.0 159.2 175.8 157.4 173.8 157.4 172.3 158.0 170.8 159.6 170.2 161.7 170.3 164.7 171.1 167.2 173.6 169.7 180.2 172.7 183.3 180.0 184.3 180.9 185.7 181.2ZM226.0 174.2 227.6 172.7 228.0 169.7 226.8 167.0 225.8 166.2 224.3 165.8 223.3 166.2 222.3 167.7 222.0 171.2 223.4 173.7 224.8 174.3 226.0 174.2ZM77.1 188.7 79.3 187.3 80.7 185.2 81.3 182.2 80.8 179.5 79.6 177.7 77.8 176.6 75.3 176.2 72.3 176.8 70.8 177.7 69.5 179.7 69.1 182.7 69.5 185.2 70.7 187.2 72.3 188.4 74.8 189.0 77.1 188.7ZM97.6 188.7 99.8 187.4 101.3 185.2 101.8 182.7 101.3 180.2 99.8 178.2 97.8 177.1 94.8 176.8 92.3 177.4 90.7 178.7 89.7 180.7 89.4 183.2 90.0 185.7 91.3 187.5 93.2 188.7 95.3 189.1 97.6 188.7ZM49.9 185.7 50.5 183.7 49.8 182.4 49.3 182.7 49.0 184.2 49.3 185.4 49.9 185.7ZM156.1 211.7 159.3 210.4 160.9 208.7 161.5 205.7 160.9 202.7 158.8 199.9 153.0 195.7 150.1 188.7 148.8 186.9 146.8 185.8 144.3 186.0 142.3 187.6 141.2 189.7 140.7 192.7 141.3 195.7 142.8 198.0 147.5 202.2 149.8 208.6 150.8 210.3 152.8 211.6 156.1 211.7ZM206.9 198.2 208.3 197.2 209.6 195.2 209.9 193.2 209.4 191.2 208.3 189.8 206.8 188.9 204.8 188.6 202.8 189.0 201.1 190.2 200.2 191.7 199.9 193.7 200.4 195.7 201.4 197.2 203.3 198.3 205.3 198.6 206.9 198.2ZM87.2 219.7 89.8 218.7 91.8 217.3 93.3 215.3 94.1 213.2 94.3 210.7 93.8 208.5 92.8 207.2 90.8 206.2 87.3 206.0 83.8 206.8 81.4 208.7 80.2 211.2 80.1 215.2 81.3 218.2 83.8 219.7 87.2 219.7ZM287.0 220.2 290.1 219.2 291.8 217.2 292.3 213.7 291.4 210.7 289.6 208.7 286.6 207.2 282.3 206.4 279.3 206.9 278.2 208.2 278.0 210.7 278.6 214.2 279.7 216.7 280.8 218.2 282.8 219.5 287.0 220.2ZM118.1 219.2 120.3 217.7 121.5 215.2 121.5 212.2 120.3 209.8 118.3 208.2 115.8 207.6 113.3 207.9 110.6 209.2 108.8 211.2 108.1 213.2 108.2 215.2 109.1 217.2 110.8 218.6 112.8 219.4 115.3 219.7 118.1 219.2ZM175.1 222.2 177.3 221.6 179.6 219.7 181.0 217.2 181.5 214.2 180.9 211.7 179.4 209.7 177.3 208.4 174.8 208.0 171.8 208.6 168.8 210.2 167.1 212.2 166.7 214.7 167.5 217.7 169.3 220.1 172.3 221.8 175.1 222.2ZM249.2 230.2 251.3 228.8 252.3 226.6 252.3 223.7 251.1 220.7 248.8 218.6 245.8 217.5 242.8 217.4 240.3 218.4 238.8 220.2 238.1 222.7 238.2 225.2 239.3 227.7 240.8 229.2 243.3 230.3 246.3 230.7 249.2 230.2ZM189.4 242.7 194.4 241.7 197.3 240.1 198.6 237.7 197.9 234.2 195.5 231.7 191.3 229.9 186.3 229.3 182.8 230.1 180.8 231.7 179.2 234.7 178.6 237.7 179.2 240.2 180.7 241.7 182.8 242.5 189.4 242.7Z" fill="#c6f0ec" fill-rule="evenodd"/>
<path d="M169.8 44.2 169.4 33.7 169.8 26.1 169.8 44.2ZM277.3 44.1 276.8 26.9 277.3 44.1ZM114.3 41.6 114.3 29.6 114.8 33.2 114.3 41.6ZM255.3 54.0 254.4 45.7 255.3 30.1 255.8 30.7 256.1 44.2 255.8 52.7 255.3 54.0ZM301.3 68.2 300.8 67.8 298.7 55.2 298.3 43.7 298.8 35.9 301.3 44.6 301.9 49.7 302.1 59.7 301.3 68.2ZM108.3 66.1 107.5 53.2 107.8 36.2 108.3 37.3 108.9 50.7 108.8 63.7 108.3 66.1ZM98.8 73.5 97.8 64.9 97.5 52.7 98.3 42.3 99.8 36.9 99.9 59.2 99.4 70.2 98.8 73.5ZM78.3 73.4 77.7 58.7 78.3 38.9 78.8 67.2 78.3 73.4ZM333.3 77.9 332.8 69.7 333.8 48.8 334.2 68.2 333.9 76.2 333.3 77.9ZM159.3 94.0 158.8 94.2 158.0 92.7 157.6 87.7 158.2 55.7 158.8 49.3 160.3 65.7 161.3 70.4 161.6 81.2 161.1 88.7 160.3 92.0 159.3 94.0ZM164.3 71.8 163.6 68.2 163.8 61.6 164.3 59.7 164.6 68.2 164.3 71.8ZM67.3 87.9 66.8 87.7 66.3 85.5 65.5 78.2 65.6 71.7 66.3 69.0 67.6 78.2 67.3 87.9ZM307.3 92.1 306.8 92.1 306.4 91.2 306.2 88.7 307.3 71.3 307.8 73.7 308.1 88.7 307.3 92.1ZM240.3 82.4 239.8 81.6 239.4 77.2 239.8 74.8 240.8 72.9 241.3 73.3 241.4 76.7 240.3 82.4ZM315.8 92.9 314.3 92.2 313.8 90.2 313.6 85.7 314.3 75.0 314.8 75.3 315.4 83.2 316.6 90.7 316.5 92.2 315.8 92.9ZM337.3 92.8 336.5 89.7 336.1 85.7 336.8 77.8 338.3 88.2 338.0 91.7 337.3 92.8ZM234.8 93.9 233.8 93.4 233.4 91.2 233.7 87.2 234.3 85.6 235.2 87.2 235.6 91.2 235.5 92.7 234.8 93.9ZM84.3 131.8 82.8 131.8 81.8 131.3 80.8 129.2 82.2 117.2 80.2 96.2 80.3 94.2 81.3 92.5 81.8 92.6 82.3 93.6 83.8 97.7 85.8 99.1 86.8 100.5 88.0 105.7 87.3 125.7 86.2 129.7 84.3 131.8ZM339.3 243.7 273.8 243.7 272.8 241.7 270.3 239.5 266.8 238.0 263.3 237.6 260.8 237.9 258.8 239.0 257.7 240.7 256.8 243.7 192.8 243.7 192.8 243.2 198.8 241.7 200.6 240.2 201.3 237.2 200.3 233.2 198.1 230.7 194.8 229.0 189.8 227.8 183.8 227.2 180.8 227.6 179.3 228.6 177.7 231.2 176.2 235.7 175.6 238.7 175.9 240.7 177.1 242.2 179.3 243.2 179.3 243.7 169.3 243.7 168.3 241.2 165.8 239.0 163.8 238.7 159.3 239.3 156.8 238.7 154.3 236.7 149.8 230.9 148.3 229.9 146.8 229.5 143.8 230.6 141.3 233.2 136.4 243.7 92.0 243.7 91.7 241.2 90.3 238.7 88.3 236.8 85.8 235.5 82.8 235.3 77.3 236.5 74.8 236.6 72.3 235.7 67.8 232.5 64.8 231.3 53.3 230.1 46.8 228.7 40.3 228.5 40.3 211.7 57.3 211.4 59.3 211.0 60.2 210.2 61.1 206.2 60.8 198.7 59.8 195.1 56.3 190.2 55.3 187.7 54.7 181.2 55.2 177.7 56.2 176.2 57.8 174.9 65.3 171.3 69.8 164.3 76.8 159.7 83.3 152.3 85.8 151.6 88.0 153.2 88.8 155.7 88.8 163.2 89.5 166.7 91.3 168.8 94.8 169.4 99.1 168.2 101.6 165.7 102.9 162.2 104.8 151.5 105.8 149.5 107.3 149.2 118.3 150.8 120.8 150.8 121.8 150.2 122.0 143.2 120.7 138.2 118.3 135.9 113.3 134.3 111.8 133.4 111.0 132.2 110.7 130.2 115.3 114.5 119.8 107.8 122.3 99.6 123.3 98.5 125.8 98.8 126.8 100.2 129.1 113.2 130.3 116.7 131.9 119.2 133.8 120.6 135.8 120.8 141.3 118.4 143.3 118.1 145.3 119.2 146.4 121.7 146.2 123.7 145.0 125.7 133.6 136.7 132.1 138.7 130.8 143.7 130.8 147.2 131.4 148.7 133.3 149.3 136.3 149.0 143.3 145.6 145.3 145.3 147.8 147.0 151.3 153.1 153.3 154.9 154.8 155.3 156.8 155.0 162.3 152.4 163.5 150.7 163.9 148.7 163.6 140.7 164.7 121.2 166.3 117.4 167.3 116.9 168.8 116.9 174.8 118.7 176.8 120.1 178.1 121.7 179.4 124.7 181.8 135.0 188.1 143.7 188.6 150.7 189.3 153.7 191.8 156.9 194.8 158.3 197.0 157.2 198.5 154.2 198.5 150.7 196.8 142.7 200.2 133.7 201.5 125.7 202.8 123.1 204.2 122.2 205.8 121.9 208.4 122.7 209.8 125.2 210.2 128.7 209.9 138.7 211.0 144.2 213.3 148.5 216.8 152.3 219.3 153.7 221.3 153.6 228.3 146.1 230.3 144.6 232.3 144.0 233.8 144.5 234.8 145.4 239.8 152.9 242.7 155.7 245.8 156.6 247.3 156.2 248.8 155.1 250.3 152.2 250.7 148.2 250.0 142.2 248.3 138.1 246.8 136.8 244.8 136.4 235.3 137.9 233.8 137.0 232.9 135.2 232.1 130.2 232.3 122.1 233.3 117.2 234.8 115.7 236.3 117.5 237.7 123.2 239.3 126.3 242.8 129.1 246.3 130.1 247.8 129.6 249.5 127.7 253.5 117.7 255.8 115.5 257.3 115.2 260.6 124.2 262.3 126.2 265.4 128.7 266.6 131.7 266.5 133.2 265.6 134.7 261.3 137.3 259.5 139.2 258.7 141.7 259.1 144.7 260.8 147.0 263.8 148.5 267.8 148.9 270.3 148.0 271.4 146.7 273.9 141.7 275.8 140.2 280.8 137.8 281.9 136.2 282.4 134.2 282.3 131.7 281.3 129.2 279.8 127.5 275.1 124.2 273.5 121.2 273.2 118.2 274.3 106.6 274.8 104.3 275.3 103.8 276.3 104.4 281.3 111.7 286.9 116.2 289.9 127.7 293.5 136.2 296.8 139.0 302.8 141.5 307.8 141.7 311.3 140.7 313.3 138.4 319.8 128.7 321.3 125.2 321.7 122.2 321.1 119.2 318.2 114.2 318.4 112.2 319.8 110.6 322.9 109.7 326.3 113.2 330.3 114.5 335.3 119.0 339.3 118.6 339.3 137.1 332.3 136.3 325.8 136.6 322.6 137.7 317.3 140.9 312.3 142.6 309.8 145.4 305.8 154.5 303.8 155.7 298.3 156.6 296.3 157.4 294.5 159.2 293.6 162.2 294.3 164.9 296.5 167.2 299.8 168.3 303.3 168.3 307.0 166.7 310.5 162.7 312.3 161.4 322.3 158.1 324.0 156.7 326.8 152.9 333.8 152.9 334.5 153.2 335.3 155.3 339.3 155.1 339.3 208.3 329.8 208.7 318.3 208.2 313.3 208.9 310.0 210.2 307.5 212.2 306.1 214.7 305.7 217.2 305.9 218.7 306.8 220.2 308.6 221.2 311.3 221.8 319.3 222.2 339.3 221.9 339.3 243.7ZM126.9 166.7 129.2 165.2 130.4 162.7 130.7 158.2 129.9 152.2 129.3 151.0 128.3 150.6 122.8 150.9 121.9 151.7 120.5 157.7 120.3 163.0 121.1 164.7 122.8 166.1 124.8 166.8 126.9 166.7ZM186.2 184.7 188.8 182.6 190.7 179.2 191.4 175.7 190.8 172.7 189.3 171.0 184.4 167.2 181.4 160.2 179.3 157.6 175.3 155.8 171.3 156.4 169.8 157.7 169.0 160.7 169.1 164.7 170.1 168.2 172.3 170.6 178.1 174.2 179.2 176.2 181.1 181.7 182.4 183.7 184.3 184.9 186.2 184.7ZM226.7 176.2 228.7 174.7 229.7 172.7 230.0 170.2 229.6 167.2 228.3 164.6 226.3 162.5 223.8 161.1 222.3 161.1 220.8 162.7 220.0 165.2 219.7 168.7 220.2 172.2 221.3 174.5 222.8 175.9 224.8 176.5 226.7 176.2ZM256.2 176.2 257.2 174.7 257.4 172.7 256.7 171.2 255.3 170.5 253.6 171.7 253.2 174.2 254.3 176.2 255.3 176.6 256.2 176.2ZM77.5 190.2 80.4 188.7 82.4 185.7 83.3 181.2 82.6 177.2 81.2 175.7 78.3 174.7 73.3 174.6 69.8 175.3 68.4 176.7 67.7 179.7 67.7 183.7 68.6 187.2 69.8 188.7 71.8 189.9 74.8 190.5 77.5 190.2ZM97.5 190.2 100.6 188.7 102.4 186.2 103.1 182.2 102.3 178.3 100.8 176.5 97.8 175.2 93.3 174.8 90.3 175.6 88.5 177.2 87.6 179.7 87.5 183.2 88.5 186.7 89.9 188.7 91.8 189.9 94.8 190.5 97.5 190.2ZM41.8 189.7 40.3 190.1 40.3 175.8 45.3 176.7 45.8 178.7 45.3 188.8 41.8 189.7ZM177.5 224.7 178.8 223.9 180.6 221.7 182.7 216.7 182.8 212.7 180.9 209.2 178.3 207.4 174.8 206.7 164.8 209.2 164.0 208.2 161.6 201.2 159.8 199.1 153.9 194.7 151.1 187.7 149.8 185.6 148.3 184.5 146.3 184.0 144.3 184.2 142.3 185.5 141.0 187.2 140.0 189.7 139.6 192.7 139.9 195.2 141.3 198.3 145.3 201.9 146.5 203.7 147.4 206.7 148.0 213.2 148.8 214.7 149.8 215.2 151.8 215.4 160.8 213.3 162.3 213.4 163.3 214.5 165.6 219.7 168.3 222.6 172.8 224.7 175.3 225.0 177.5 224.7ZM205.8 199.7 208.3 198.7 209.8 197.2 210.8 194.7 210.8 192.2 209.8 189.7 208.3 188.3 206.3 187.6 203.8 187.6 201.3 188.5 199.8 189.9 198.8 192.2 198.8 194.7 199.8 197.1 201.3 198.7 203.3 199.6 205.8 199.7ZM234.5 211.7 236.2 210.7 237.3 208.9 237.9 206.7 237.7 204.2 237.0 202.7 235.8 201.7 233.8 201.0 231.8 201.1 230.3 201.8 229.0 203.2 228.4 205.2 228.4 207.7 229.3 209.8 230.8 211.2 232.8 211.8 234.5 211.7ZM85.9 221.7 89.3 220.9 91.8 219.6 94.0 217.7 95.6 215.2 96.6 212.2 96.7 208.7 96.0 206.2 94.3 204.5 90.8 203.8 84.8 204.6 81.3 206.0 79.4 208.2 78.6 210.7 78.4 214.2 78.6 217.7 79.2 219.7 81.3 221.4 85.9 221.7ZM290.8 221.7 293.3 220.3 294.3 217.7 294.0 212.7 292.3 208.9 290.2 207.2 286.8 205.8 279.3 203.9 276.6 204.2 275.5 206.2 275.7 209.2 277.4 215.7 279.3 219.2 281.3 220.8 283.8 221.7 287.3 222.1 290.8 221.7ZM118.4 220.7 121.3 219.3 122.8 216.7 123.0 212.2 121.4 208.7 119.3 207.1 115.8 206.4 112.3 206.9 108.9 208.7 107.1 210.7 106.2 213.2 106.3 215.7 107.4 218.2 109.3 219.8 111.8 220.7 115.3 221.1 118.4 220.7ZM249.5 232.2 252.6 231.2 254.1 228.7 254.1 223.7 252.3 219.7 249.8 217.5 245.8 216.0 241.3 215.7 238.4 216.7 236.8 218.9 236.1 222.7 236.5 226.2 237.8 229.0 239.6 230.7 241.8 231.6 245.3 232.2 249.5 232.2Z" fill="#f0f0c8" fill-rule="evenodd"/>
<path d="M299.3 50.7 299.3 45.7 299.3 50.7ZM108.3 54.6 108.3 46.3 108.3 54.6ZM98.8 65.8 98.3 64.3 98.1 59.7 98.3 49.7 98.8 50.7 99.0 54.7 98.8 65.8ZM158.8 72.4 158.8 56.7 159.5 68.2 159.3 71.8 158.8 72.4ZM85.3 111.1 84.3 109.1 83.8 105.2 84.1 103.7 85.3 103.1 86.1 104.2 86.4 106.7 86.2 109.2 85.3 111.1ZM126.3 145.9 125.3 145.8 124.4 144.7 123.0 138.2 121.8 135.6 119.8 133.9 114.8 132.2 113.9 130.7 114.2 126.7 117.6 121.7 119.3 115.2 121.3 109.7 122.8 106.6 123.8 106.1 124.8 106.9 125.8 109.3 128.7 123.2 130.3 124.7 134.8 125.9 135.0 127.2 134.8 130.8 130.1 135.2 127.8 144.1 126.3 145.9ZM339.3 243.7 276.2 243.7 275.0 240.2 272.3 237.7 268.8 236.2 260.8 234.4 258.5 233.2 257.3 230.9 255.7 222.2 253.8 218.7 251.8 216.8 249.8 215.7 242.6 213.7 240.6 212.7 239.9 211.2 239.9 205.2 238.9 202.2 236.3 199.9 232.3 199.0 228.8 199.8 227.3 201.0 226.3 202.7 225.3 207.7 226.3 212.5 227.8 214.6 231.4 217.2 232.6 218.7 234.1 227.2 235.9 231.2 237.3 232.4 239.3 233.1 249.8 234.4 253.3 235.5 254.5 236.7 254.9 238.2 254.4 243.7 201.2 243.7 201.2 243.2 203.8 241.7 204.6 238.7 204.0 234.2 201.8 230.2 197.8 227.7 186.8 225.2 184.3 224.1 183.4 222.2 184.4 216.2 184.5 213.2 183.7 210.7 182.3 208.6 179.8 206.6 176.8 205.5 173.8 205.5 167.8 206.3 165.8 205.7 161.8 199.1 154.7 193.7 153.7 191.7 152.1 186.2 151.0 184.2 148.8 182.6 145.8 182.1 143.3 182.7 141.3 184.2 140.0 186.2 139.0 189.2 138.6 193.2 139.1 197.2 140.5 199.7 144.8 204.2 145.0 208.7 144.6 210.2 141.5 215.7 138.2 227.7 136.1 238.2 133.4 243.7 98.7 243.7 97.2 240.7 92.8 235.7 89.4 233.2 85.3 231.3 84.9 227.7 85.3 224.4 91.3 222.3 94.3 220.8 96.8 218.7 99.0 215.7 100.1 213.2 100.5 210.7 99.8 206.7 98.5 203.7 95.8 201.6 91.8 200.9 82.8 202.6 78.8 204.0 77.6 205.2 77.0 206.7 76.5 214.7 75.5 218.2 74.8 219.2 73.3 219.9 70.3 219.5 68.4 217.2 66.7 211.7 64.3 206.2 63.6 202.7 63.2 194.2 62.6 192.7 59.3 188.7 58.3 186.8 57.7 184.2 57.8 181.2 58.8 179.0 60.3 177.6 62.3 177.0 64.3 177.5 65.4 179.7 67.0 189.2 68.4 190.7 70.8 191.7 75.3 192.2 79.3 191.7 81.8 190.8 85.3 188.2 88.3 190.8 90.8 191.9 95.3 192.2 99.3 191.4 102.5 189.2 104.1 185.7 104.6 181.7 104.3 177.7 101.8 171.7 103.8 166.8 106.1 155.7 107.8 152.7 109.8 151.8 112.3 151.7 115.4 152.2 117.6 153.2 118.6 155.2 118.3 162.2 119.2 165.2 120.4 166.7 122.3 167.8 126.8 168.6 129.6 167.7 131.3 165.7 132.1 162.7 132.7 155.2 133.8 152.9 137.0 151.2 143.8 149.4 145.8 150.4 149.3 156.6 151.8 158.5 154.8 158.5 163.3 155.5 166.3 155.7 167.2 157.7 168.1 166.7 169.3 169.9 170.8 171.6 175.1 174.2 176.6 175.7 179.3 183.7 181.3 186.9 183.8 188.3 186.3 187.8 189.5 185.2 191.9 181.7 193.5 176.7 193.6 172.7 191.8 169.7 186.8 166.7 185.3 165.3 182.4 158.7 180.3 156.3 176.3 154.4 169.8 153.4 168.3 152.0 166.8 142.7 166.3 125.2 166.8 122.6 167.8 120.8 168.8 120.2 170.8 119.8 174.8 121.0 176.3 122.3 177.4 124.2 178.1 128.7 177.1 137.2 177.6 139.7 183.8 144.2 185.3 146.7 186.7 152.7 188.1 155.7 191.3 159.2 194.3 160.9 195.8 160.9 197.3 160.0 199.5 156.7 200.2 152.2 199.1 144.2 199.3 141.7 202.1 134.2 203.8 126.6 205.3 125.3 206.8 125.8 207.8 128.4 207.9 136.7 208.8 142.7 210.6 147.2 214.9 154.2 216.5 157.7 217.9 169.7 218.9 173.7 220.3 176.2 221.8 177.5 224.3 178.2 226.8 178.0 228.8 177.0 230.3 175.4 231.3 173.2 231.6 170.7 231.5 167.2 230.8 164.2 227.1 157.7 226.5 155.7 227.0 152.7 228.8 150.2 231.3 148.9 233.8 149.3 235.8 150.9 240.4 156.7 242.3 158.1 244.3 158.9 246.3 159.0 248.3 158.3 249.8 157.1 251.1 155.2 252.1 152.2 252.3 148.7 250.9 133.2 253.0 123.7 254.8 120.4 255.8 119.9 256.8 120.4 259.8 126.2 264.1 130.2 264.8 131.7 264.1 133.7 259.3 136.4 257.4 139.2 257.1 142.2 257.6 144.7 258.6 146.7 260.2 148.2 265.3 149.9 268.8 150.2 271.3 149.9 272.7 148.7 274.0 144.2 275.3 142.2 277.3 141.1 281.8 139.9 283.2 138.7 283.9 136.7 284.1 134.2 283.0 128.7 281.3 126.5 276.3 123.2 275.2 121.2 275.4 115.7 276.3 113.8 277.8 113.1 281.8 115.3 284.3 117.7 285.7 119.7 291.6 139.7 292.8 140.6 304.9 145.2 305.0 150.2 304.3 152.3 302.3 153.5 295.3 154.8 293.5 156.2 292.3 158.2 291.5 161.2 291.6 163.7 292.5 166.2 294.3 168.3 296.8 169.7 299.8 170.3 303.3 170.2 306.8 169.3 309.3 167.7 312.3 164.0 314.3 162.5 325.3 159.6 326.5 158.2 328.3 154.3 329.7 153.2 331.6 153.2 332.7 154.2 334.0 159.2 334.7 160.2 339.3 160.3 339.3 207.0 314.3 207.2 307.8 209.2 303.4 212.7 297.8 212.9 296.7 212.7 294.4 208.2 291.8 206.0 279.3 201.5 276.3 201.2 274.8 201.9 273.8 203.1 273.1 206.7 273.7 210.2 276.6 219.2 278.3 221.6 280.3 223.0 289.6 225.2 295.8 228.7 298.8 229.4 303.8 229.0 310.6 226.2 314.8 225.3 330.3 225.4 339.3 224.6 339.3 243.7ZM339.3 135.0 322.8 134.4 321.1 133.7 321.2 131.7 324.8 121.2 326.4 118.7 327.8 117.9 329.8 117.7 332.8 119.0 335.3 121.3 339.3 120.8 339.3 135.0ZM80.8 171.7 75.3 172.1 74.9 170.2 75.0 165.2 82.8 156.0 84.3 154.9 85.3 154.8 86.3 155.7 87.0 158.2 86.3 167.2 85.7 168.7 84.4 170.2 80.8 171.7ZM256.3 179.2 257.6 178.2 258.6 176.7 259.4 172.2 258.3 169.0 256.8 167.9 255.3 167.7 253.6 168.2 252.2 169.7 251.4 171.7 251.2 174.2 251.8 176.5 252.9 178.2 254.3 179.2 256.3 179.2ZM206.7 200.7 209.3 199.5 211.2 197.2 212.0 193.7 211.4 190.2 210.1 188.2 207.8 186.9 204.8 186.4 201.3 187.1 199.3 188.4 197.9 190.7 197.5 193.7 198.2 196.7 199.4 198.7 201.3 200.1 203.8 200.9 206.7 200.7ZM120.6 222.2 122.5 221.7 123.8 220.8 124.8 217.2 124.1 210.2 122.9 207.7 121.3 206.3 116.8 205.1 111.3 205.9 106.6 208.2 103.5 211.7 102.9 213.7 103.4 216.7 104.5 219.2 106.5 221.2 111.3 222.4 120.6 222.2Z" fill="#f2977e" fill-rule="evenodd"/>
<path d="M339.3 132.5 337.6 132.2 336.2 124.2 338.8 123.5 339.3 123.5 339.3 132.5ZM228.3 243.7 211.4 243.7 214.0 239.7 214.2 238.7 209.8 234.2 205.0 227.2 201.8 225.4 191.8 224.1 188.8 223.3 187.3 222.4 186.2 220.2 186.2 212.2 183.8 207.7 181.3 205.6 178.3 204.3 175.3 203.9 169.3 204.3 166.8 203.4 162.7 197.7 155.8 193.0 154.6 190.2 153.3 183.2 151.8 181.5 149.8 180.5 146.3 179.9 142.8 180.3 140.8 181.5 139.1 184.2 137.6 190.7 137.6 197.7 138.7 201.2 141.8 204.7 142.1 206.7 138.5 211.7 136.0 216.7 133.8 218.7 130.8 219.1 128.3 217.5 127.1 214.7 125.8 206.7 124.8 205.2 123.3 204.2 117.8 203.5 113.3 203.9 105.8 205.4 103.8 204.7 100.3 200.0 95.5 196.2 96.2 195.2 102.8 192.4 104.3 190.8 105.1 189.2 107.8 173.2 106.8 166.2 106.8 162.2 107.6 158.2 108.8 155.5 110.3 154.2 111.8 153.7 113.8 153.8 115.5 154.7 116.5 156.7 116.5 163.7 117.5 166.7 119.0 168.2 120.9 169.2 126.8 170.5 130.8 170.1 132.9 168.7 133.8 166.2 134.8 156.7 136.1 154.7 138.3 153.6 140.8 153.3 142.8 154.1 146.5 160.7 147.8 161.9 149.7 162.7 153.3 162.5 160.8 158.5 162.8 158.3 164.3 158.6 165.3 159.6 166.0 161.2 167.0 169.7 167.8 172.0 169.3 173.5 174.3 176.7 175.5 178.7 177.1 184.7 178.7 188.2 180.9 190.7 183.8 191.7 186.3 191.0 189.9 188.2 192.3 185.6 193.9 182.7 196.8 172.7 196.4 166.2 199.9 160.7 201.4 156.2 201.8 152.2 201.5 142.7 202.8 139.6 204.3 138.3 205.3 138.8 205.8 139.7 208.2 146.2 212.7 155.2 214.7 164.7 217.7 175.7 219.8 178.5 222.8 179.8 225.8 180.0 228.8 179.1 230.8 177.6 232.2 175.2 233.0 171.7 233.3 167.2 233.1 162.7 232.1 157.2 232.6 155.2 233.3 154.7 234.8 155.1 238.8 158.8 242.3 160.7 245.8 161.4 248.8 161.1 250.8 159.7 252.4 157.2 253.7 153.7 254.8 147.5 255.3 146.9 260.3 149.8 269.8 152.3 273.8 155.6 275.8 156.4 278.3 156.2 280.3 155.2 284.3 149.9 286.8 149.9 289.5 150.7 290.4 151.7 290.6 152.7 289.3 160.7 289.9 166.2 292.3 169.9 294.3 171.4 296.8 172.5 301.8 172.5 310.3 170.8 312.3 169.2 315.1 164.7 318.3 163.3 322.3 163.5 327.3 166.2 330.3 167.1 333.3 166.9 335.3 165.7 339.3 165.7 339.3 205.6 315.3 205.7 300.8 208.6 299.3 208.0 295.8 205.3 293.8 204.3 285.8 202.3 278.9 199.2 276.8 199.0 274.8 199.3 272.3 201.5 271.1 205.2 271.1 210.7 273.1 219.7 273.9 226.7 272.9 230.2 271.8 231.4 270.3 232.1 265.8 232.2 262.3 230.7 260.4 228.2 258.0 220.7 255.8 217.2 252.3 214.7 245.3 212.4 243.3 211.2 242.2 209.2 241.1 202.7 238.8 199.6 236.3 198.2 232.3 197.2 228.8 197.1 226.8 197.8 225.0 199.7 223.3 203.2 222.2 206.7 221.9 210.2 222.3 213.2 223.3 216.2 227.9 223.2 229.1 226.7 229.4 231.2 228.1 238.7 228.6 243.2 228.3 243.7ZM280.3 148.3 277.8 148.4 276.3 147.6 275.8 145.2 276.8 143.5 280.2 143.2 281.5 144.2 282.0 145.7 281.9 147.2 280.3 148.3ZM256.2 181.7 258.3 180.5 259.8 178.2 260.9 174.2 261.0 170.2 260.4 167.7 259.3 166.3 257.3 165.4 254.8 165.1 252.3 165.9 250.8 167.6 249.9 170.7 249.7 174.2 250.5 177.7 251.8 180.0 253.8 181.5 256.2 181.7ZM208.0 201.7 210.8 200.1 212.6 197.2 213.0 192.2 211.8 188.2 209.8 186.3 206.3 185.4 201.8 185.6 198.7 186.7 196.9 188.7 196.2 191.7 196.5 195.7 197.8 199.1 199.3 200.7 201.8 201.8 204.8 202.2 208.0 201.7ZM129.3 241.3 126.3 241.4 123.3 240.6 111.8 233.7 110.2 232.2 109.0 230.2 108.7 228.2 109.1 226.7 110.3 225.6 112.8 224.8 115.8 224.5 119.3 224.9 122.3 226.2 125.8 229.0 129.8 231.4 131.9 233.7 132.6 236.7 131.7 239.7 129.3 241.3Z" fill="#f07a66" fill-rule="evenodd"/>
<path d="M217.8 227.7 215.3 227.8 213.0 226.7 207.8 220.1 205.3 218.5 202.8 218.6 195.8 221.1 193.3 221.0 191.1 220.2 189.8 218.2 188.9 211.2 187.6 208.7 185.6 206.2 182.8 203.8 179.8 202.3 169.3 201.7 167.8 200.6 164.3 196.0 157.8 192.5 156.8 191.2 156.1 188.7 157.3 181.7 156.8 179.7 154.3 178.2 145.3 176.6 142.3 175.2 141.3 173.7 137.7 163.2 141.4 163.2 142.5 165.2 143.9 166.2 150.3 167.3 154.3 166.4 158.3 163.0 164.3 162.9 164.8 164.7 164.7 167.7 162.4 174.2 162.4 176.2 163.8 177.6 169.3 178.4 171.8 179.8 172.8 181.6 175.1 188.7 177.8 192.9 180.3 194.9 183.3 195.8 185.3 195.4 188.8 193.1 193.8 193.0 195.5 198.7 196.8 201.3 199.3 203.0 203.3 203.8 208.3 203.3 212.1 201.7 213.7 199.2 214.3 194.7 213.8 188.7 213.0 186.7 211.8 185.4 207.8 184.2 198.8 183.9 197.8 183.5 197.3 182.7 197.4 180.2 198.6 177.2 203.1 171.7 203.8 170.2 202.6 162.7 204.0 149.7 204.8 147.3 205.8 147.7 206.8 149.0 209.6 154.2 210.4 157.7 211.0 165.7 213.8 171.4 216.3 178.2 218.3 180.6 221.3 181.7 227.3 181.7 229.8 180.9 231.8 179.5 233.6 176.2 236.1 164.7 237.3 163.3 239.3 162.9 245.3 164.2 247.6 165.7 248.1 167.7 248.8 177.6 249.8 180.5 251.3 182.6 252.8 183.7 254.8 184.4 256.8 184.2 258.8 183.2 260.5 181.2 261.7 178.2 263.3 166.7 263.0 165.2 262.3 164.2 256.3 161.7 255.2 160.7 255.1 157.7 255.9 154.2 256.8 152.3 258.3 151.5 263.3 151.9 267.3 153.1 268.9 154.2 271.8 157.7 274.3 159.0 277.8 159.1 283.8 157.6 285.3 157.9 286.3 160.2 287.6 169.7 291.3 175.7 292.0 183.2 293.7 185.7 296.3 187.0 299.8 186.9 302.3 185.2 303.4 182.7 303.4 177.2 304.0 176.2 305.3 175.4 307.8 175.1 313.8 176.2 316.8 176.0 319.7 174.2 322.1 170.7 323.8 170.0 339.3 170.5 339.3 204.0 304.8 204.6 297.3 201.8 288.3 200.8 280.3 197.3 275.8 196.9 272.8 197.9 271.0 199.7 269.9 202.2 268.2 208.2 266.8 210.6 264.3 211.9 259.8 212.2 255.3 211.3 249.3 211.0 246.5 210.2 244.8 208.7 242.7 201.7 240.3 198.5 238.2 197.2 234.8 196.0 228.8 194.5 226.3 194.5 224.8 195.3 223.3 197.1 219.3 203.7 218.2 206.7 218.0 212.7 220.5 223.7 219.8 226.2 217.8 227.7ZM112.3 164.8 111.3 164.8 110.3 163.2 113.1 163.2 112.3 164.8ZM113.3 201.7 110.3 201.9 108.3 201.4 107.1 200.2 106.8 198.7 109.0 193.2 108.1 186.2 108.4 181.7 109.6 178.2 113.3 171.2 114.3 170.3 115.8 170.3 127.6 172.7 131.4 174.2 135.6 178.2 136.9 181.2 136.0 194.2 134.8 198.7 132.8 199.9 129.8 199.5 127.3 198.1 123.3 194.6 121.8 194.2 120.8 195.0 120.0 198.2 119.0 199.7 116.8 200.9 113.3 201.7Z" fill="#ec2a40" fill-rule="evenodd"/>
<path d="M266.3 159.8 265.3 160.0 265.2 159.7 265.3 154.3 266.8 155.7 267.3 157.2 267.3 158.7 266.3 159.8ZM264.3 207.3 262.8 207.4 260.8 206.7 256.6 201.7 254.8 200.6 252.8 201.1 249.3 204.3 247.8 204.5 246.8 203.6 243.9 198.7 241.8 196.7 232.8 193.3 227.3 190.2 225.3 189.9 225.3 185.1 231.3 183.2 234.3 180.7 235.3 178.2 236.8 169.8 238.8 166.8 240.3 166.2 242.3 166.3 243.8 166.8 245.3 168.0 246.3 170.4 247.4 179.7 248.7 183.7 251.3 186.6 255.3 187.9 259.3 187.6 261.8 185.8 263.0 182.7 264.2 173.2 265.3 169.7 269.3 163.7 270.5 162.7 272.3 162.2 279.8 162.1 282.2 163.2 282.7 164.7 282.4 166.7 281.3 168.9 277.4 173.7 276.7 176.2 277.0 178.2 278.8 179.2 283.3 178.9 285.3 179.3 286.8 180.8 289.0 185.7 290.8 188.1 293.3 189.8 296.3 190.8 300.3 191.0 303.8 190.0 306.4 187.7 309.8 181.7 311.8 180.9 317.3 180.3 320.3 179.5 322.8 177.9 326.3 174.7 328.3 173.7 332.3 173.7 333.8 174.4 335.3 176.1 339.3 176.5 339.3 201.8 326.8 202.3 309.8 201.8 306.8 201.2 299.3 197.9 289.8 197.6 282.3 194.7 276.3 194.4 272.3 195.1 269.8 196.7 268.6 198.7 266.6 205.2 265.4 206.7 264.3 207.3ZM134.3 192.7 128.2 192.7 125.8 188.0 123.8 186.5 121.3 186.3 115.3 187.2 113.3 186.7 112.2 185.7 111.6 184.2 111.6 182.7 112.3 180.6 115.3 176.6 118.3 174.6 122.3 174.2 126.3 175.3 128.7 177.2 133.8 183.8 134.7 187.7 134.3 192.7Z" fill="#f00a0a" fill-rule="evenodd"/>
<path d="M206.8 160.9 205.8 160.9 205.3 160.2 204.8 157.7 204.9 152.7 205.3 151.0 205.8 150.6 207.3 152.3 208.3 155.7 208.1 158.7 206.8 160.9M339.3 202.0 327.3 202.4 309.8 202.0 306.3 201.2 299.3 198.2 289.8 197.8 282.3 194.9 276.3 194.5 272.8 195.1 270.3 196.4 268.8 198.7 266.3 205.9 264.8 207.3 262.8 207.6 259.8 206.2 256.7 202.2 254.8 201.0 252.6 201.7 249.3 204.9 247.8 205.1 246.8 204.2 244.1 199.2 242.2 197.2 239.8 195.8 232.8 193.4 227.3 190.5 225.3 190.3 225.1 187.2 225.3 184.9 231.3 183.0 234.1 180.7 235.1 178.2 236.8 168.0 238.3 165.8 240.3 165.1 243.8 165.7 246.1 167.7 246.7 170.2 247.7 180.7 248.8 183.6 250.3 185.6 252.8 187.1 255.8 187.7 258.8 187.4 261.0 186.2 262.8 182.7 264.2 171.7 266.4 164.2 266.2 163.2 265.3 162.4 259.3 160.6 257.3 159.2 256.7 157.2 257.1 154.2 258.3 152.7 259.8 152.3 264.3 152.7 266.9 153.7 268.4 155.2 270.3 158.8 271.8 160.0 275.3 160.6 281.8 160.4 283.8 161.2 284.5 163.7 284.0 167.2 282.6 169.7 278.4 174.2 277.7 176.2 277.8 178.0 279.3 178.7 283.8 178.5 285.8 179.2 287.3 181.1 290.3 187.3 292.3 189.0 295.3 190.3 299.8 190.8 303.7 189.7 306.0 187.7 308.6 182.7 309.8 181.3 311.3 180.7 317.3 180.1 320.3 179.2 322.3 178.0 325.8 174.2 327.8 173.1 331.8 172.9 333.8 173.6 335.3 175.2 339.3 175.6M160.3 168.3 159.0 167.7 159.2 165.7 160.3 164.1 161.8 163.7 162.6 164.7 162.5 166.2 161.8 167.4 160.3 168.3M134.3 192.8 128.0 192.7 125.8 188.5 123.8 186.9 121.3 186.6 115.3 187.6 112.7 186.7 111.4 184.7 111.4 182.2 112.6 179.7 115.5 175.7 117.8 174.1 121.3 173.6 125.3 174.4 128.2 176.2 133.3 182.6 134.3 184.5 134.9 188.7 134.3 192.8" fill="none" stroke="#000" stroke-width="0.9"/>
<polygon points="39.3,18.2 41.7,19.7 41.7,21.7 41.7,23.7 41.8,25.7 41.8,27.7 41.9,29.7 41.9,31.7 42.0,33.7 42.0,35.7 42.0,37.7 42.1,39.7 42.1,41.7 42.2,43.7 42.2,45.7 42.3,47.7 42.3,49.7 42.4,51.7 42.5,53.7 42.5,55.7 42.6,57.7 42.6,59.7 42.7,61.7 42.8,63.7 42.8,65.7 42.9,67.7 43.0,69.7 43.0,71.7 43.1,73.7 43.2,75.7 43.3,77.7 43.3,79.7 43.4,81.7 43.5,83.7 43.6,85.7 43.7,87.7 43.8,89.7 43.9,91.7 44.0,93.7 44.1,95.7 44.2,97.7 44.3,99.7 44.4,101.7 44.5,103.7 44.6,105.7 44.7,107.7 44.8,109.7 45.0,111.7 45.1,113.7 45.2,115.7 45.3,117.7 45.5,119.7 45.6,121.7 45.8,123.7 45.9,125.7 46.0,127.7 46.2,129.7 46.4,131.7 46.5,133.7 46.7,135.7 46.9,137.7 47.0,139.7 47.2,141.7 47.4,143.7 47.6,145.7 47.8,147.7 48.0,149.7 48.2,151.7 48.4,153.7 48.6,155.7 48.9,157.7 49.1,159.7 49.3,161.7 49.6,163.7 49.8,165.7 50.1,167.7 50.3,169.7 50.6,171.7 50.9,173.7 51.2,175.7 51.5,177.7 51.8,179.7 52.1,181.7 52.4,183.7 52.7,185.7 53.0,187.7 53.4,189.7 53.7,191.7 54.1,193.7 54.5,195.7 54.9,197.7 55.2,199.7 55.6,201.7 56.1,203.7 56.5,205.7 56.9,207.7 57.4,209.7 57.8,211.7 58.3,213.7 58.8,215.7 59.3,217.7 59.8,219.7 60.3,221.7 60.8,223.7 61.4,225.7 62.0,227.7 62.6,229.7 63.1,231.7 63.8,233.7 64.4,235.7 65.0,237.7 65.7,239.7 66.4,241.7 67.1,243.7 39.3,245.0" fill="#fff"/>
<polygon points="340.4,18.2 338.0,19.7 338.0,21.7 338.0,23.7 337.9,25.7 337.9,27.7 337.8,29.7 337.8,31.7 337.7,33.7 337.7,35.7 337.7,37.7 337.6,39.7 337.6,41.7 337.5,43.7 337.5,45.7 337.4,47.7 337.4,49.7 337.3,51.7 337.2,53.7 337.2,55.7 337.1,57.7 337.1,59.7 337.0,61.7 336.9,63.7 336.9,65.7 336.8,67.7 336.7,69.7 336.7,71.7 336.6,73.7 336.5,75.7 336.4,77.7 336.4,79.7 336.3,81.7 336.2,83.7 336.1,85.7 336.0,87.7 335.9,89.7 335.8,91.7 335.7,93.7 335.6,95.7 335.5,97.7 335.4,99.7 335.3,101.7 335.2,103.7 335.1,105.7 335.0,107.7 334.9,109.7 334.7,111.7 334.6,113.7 334.5,115.7 334.4,117.7 334.2,119.7 334.1,121.7 333.9,123.7 333.8,125.7 333.7,127.7 333.5,129.7 333.3,131.7 333.2,133.7 333.0,135.7 332.8,137.7 332.7,139.7 332.5,141.7 332.3,143.7 332.1,145.7 331.9,147.7 331.7,149.7 331.5,151.7 331.3,153.7 331.1,155.7 330.8,157.7 330.6,159.7 330.4,161.7 330.1,163.7 329.9,165.7 329.6,167.7 329.4,169.7 329.1,171.7 328.8,173.7 328.5,175.7 328.2,177.7 327.9,179.7 327.6,181.7 327.3,183.7 327.0,185.7 326.7,187.7 326.3,189.7 326.0,191.7 325.6,193.7 325.2,195.7 324.8,197.7 324.5,199.7 324.1,201.7 323.6,203.7 323.2,205.7 322.8,207.7 322.3,209.7 321.9,211.7 321.4,213.7 320.9,215.7 320.4,217.7 319.9,219.7 319.4,221.7 318.9,223.7 318.3,225.7 317.7,227.7 317.1,229.7 316.6,231.7 315.9,233.7 315.3,235.7 314.7,237.7 314.0,239.7 313.3,241.7 312.6,243.7 340.4,245.0" fill="#fff"/>
</g>
<clipPath id="wb"><rect x="376.5" y="19.4" width="298.40" height="225.80"/></clipPath>
<g clip-path="url(#wb)">
<rect x="376.5" y="19.4" width="298.40" height="225.80" fill="#3c28f0"/>
<path d="M674.5 244.9 585.4 244.9 585.4 244.4 584.5 243.9 582.0 243.4 580.0 243.9 579.2 244.4 579.3 244.9 376.5 244.9 376.5 222.8 388.0 222.4 395.5 221.6 398.9 220.4 399.9 218.4 399.3 216.4 397.5 214.4 391.0 211.3 386.0 210.4 381.5 211.2 376.5 211.1 376.5 160.4 381.5 160.5 383.4 163.9 387.9 164.4 388.0 164.9 388.7 164.9 390.8 163.9 392.7 161.9 394.1 159.4 394.6 156.4 393.1 144.9 393.0 127.4 390.3 115.4 390.5 112.9 392.5 107.4 393.1 104.4 391.8 86.9 391.0 84.2 390.0 84.0 389.2 85.4 388.3 90.4 387.5 92.1 386.5 91.6 385.0 89.1 382.5 89.0 381.5 88.4 380.4 76.4 379.0 70.5 378.5 71.3 376.5 87.2 376.5 19.4 377.8 19.4 378.5 40.7 379.0 43.4 379.5 43.5 380.3 35.9 380.6 19.4 382.1 19.4 383.0 54.3 384.0 70.4 384.5 74.9 385.0 75.2 385.7 69.9 386.0 62.9 385.0 49.1 384.0 19.4 386.7 19.4 386.6 41.4 387.0 49.7 387.8 19.4 390.2 19.4 390.5 40.2 391.0 19.4 392.7 19.4 393.0 34.6 393.5 32.6 394.0 20.9 395.0 30.9 395.5 30.5 395.8 19.4 399.6 19.4 400.0 46.9 401.2 59.4 401.2 82.4 401.5 86.4 402.0 88.2 402.5 88.6 403.2 86.4 403.6 81.4 404.1 56.4 404.9 40.4 404.9 19.4 408.6 19.4 409.0 27.6 409.2 19.4 413.9 19.4 414.5 39.7 415.0 41.8 415.5 19.4 421.8 19.4 422.0 31.4 422.5 34.5 423.1 19.4 425.2 19.4 425.4 34.9 426.0 39.3 427.8 19.4 430.8 19.4 431.2 55.9 432.7 88.4 432.8 100.4 432.0 104.7 431.0 105.5 428.5 98.8 428.0 98.9 426.6 103.9 426.4 106.4 427.5 110.8 431.3 116.4 433.5 118.2 437.5 119.3 439.7 118.4 442.0 115.9 445.0 109.6 447.5 106.4 448.3 103.9 447.5 101.6 444.5 103.3 443.0 103.0 439.5 97.9 439.0 95.9 436.2 69.4 435.0 64.3 434.7 60.4 434.8 19.4 450.4 19.4 451.0 36.4 451.5 39.6 452.0 40.1 453.0 33.8 454.0 54.1 454.5 58.4 455.0 59.0 455.5 56.4 455.8 48.9 454.7 34.4 454.3 19.4 456.9 19.4 457.0 34.2 457.5 33.1 457.8 19.4 463.3 19.4 463.0 42.4 464.0 53.7 463.9 19.4 467.8 19.4 468.0 29.9 468.5 31.5 468.9 19.4 470.9 19.4 471.9 57.4 472.4 61.9 473.0 62.7 473.7 56.4 472.8 37.9 473.0 19.4 479.5 19.4 479.5 21.6 480.0 19.4 494.2 19.4 494.5 29.3 495.2 19.4 499.9 19.4 500.0 25.9 500.3 19.4 501.6 19.4 502.0 47.0 503.0 55.1 503.5 55.5 503.8 19.4 507.5 19.4 507.2 36.9 506.3 43.9 506.4 54.4 506.5 55.4 509.0 33.2 509.8 38.4 510.3 51.9 511.5 55.6 512.0 55.5 512.5 53.5 513.4 42.9 514.0 40.9 514.3 19.4 520.2 19.4 521.0 68.2 521.6 64.9 521.8 53.4 521.2 36.4 521.2 19.4 523.4 19.4 524.0 28.6 524.5 25.0 525.5 47.8 526.9 19.4 527.5 30.2 527.9 28.9 528.0 19.4 529.2 19.4 529.1 31.4 528.5 34.5 528.0 30.7 527.5 41.9 527.3 62.9 528.0 68.4 529.6 47.9 530.1 19.4 531.2 19.4 530.9 55.4 531.5 60.6 532.5 55.3 533.7 43.4 534.0 19.4 538.0 19.4 538.0 20.1 538.0 19.4 541.1 19.4 541.2 31.4 542.0 41.6 542.5 40.2 543.5 30.2 544.0 35.6 544.6 19.4 553.4 19.4 554.0 47.4 554.5 47.2 555.0 41.1 556.0 22.0 557.0 36.2 557.2 19.4 561.2 19.4 561.3 33.9 562.0 44.9 562.5 47.4 563.5 26.3 564.1 42.4 565.5 50.5 566.5 53.2 567.0 60.6 567.5 62.4 568.5 43.9 567.0 33.5 566.8 19.4 577.5 19.4 577.9 60.4 576.3 75.9 576.6 78.9 578.0 81.9 578.5 81.9 579.0 80.3 579.8 69.4 579.5 61.9 578.1 47.9 578.1 19.4 580.7 19.4 580.9 36.9 582.5 42.4 583.1 19.4 585.4 19.4 586.0 40.4 586.5 39.2 586.8 35.4 587.1 19.4 588.8 19.4 589.0 28.0 589.5 27.1 589.7 19.4 591.2 19.4 591.5 31.3 592.0 28.0 592.2 19.4 605.1 19.4 606.0 45.4 606.5 44.5 606.8 39.4 606.8 19.4 612.6 19.4 613.0 32.4 613.5 35.0 614.4 19.4 620.0 19.4 620.5 24.8 620.9 19.4 622.8 19.4 623.0 21.2 623.0 19.4 625.9 19.4 626.5 31.0 626.8 19.4 634.8 19.4 635.0 28.4 635.5 30.3 635.9 19.4 646.8 19.4 647.0 33.1 647.5 40.7 648.0 41.8 648.6 37.9 649.3 19.4 652.8 19.4 653.5 40.8 654.0 40.4 654.3 35.9 654.4 19.4 657.0 19.4 657.3 29.9 657.5 32.0 658.0 32.5 658.3 19.4 660.5 19.4 660.2 37.4 660.5 46.2 661.0 47.5 661.1 19.4 672.3 19.4 673.2 53.4 673.1 72.9 673.5 77.0 674.0 77.5 674.5 76.4 674.5 244.9ZM433.0 40.4 432.8 19.4 434.2 19.4 433.9 34.4 433.5 39.5 433.0 40.4ZM508.5 25.2 508.4 19.4 508.7 19.4 508.5 25.2ZM510.5 36.8 509.9 19.4 511.6 19.4 511.0 35.2 510.5 36.8ZM513.0 30.5 512.7 19.4 513.6 19.4 513.0 30.5ZM563.5 20.2 563.5 19.4 563.5 20.2ZM648.0 28.1 647.9 19.4 648.2 19.4 648.0 28.1ZM569.6 49.4 570.0 48.5 570.1 43.9 569.5 33.0 568.5 44.4 569.6 49.4ZM540.0 62.9 540.5 61.3 541.1 51.9 541.0 45.4 540.5 41.3 539.5 52.7 540.0 62.9ZM623.5 71.9 624.1 69.9 624.2 61.9 623.5 43.3 623.5 71.9ZM631.6 77.4 632.5 72.3 633.1 62.4 633.0 47.9 632.5 44.1 630.6 66.9 630.8 74.9 631.6 77.4ZM429.5 68.4 430.1 65.9 430.4 60.4 429.5 48.7 429.0 65.9 429.1 67.9 429.5 68.4ZM397.4 87.4 398.4 85.4 398.9 82.4 399.8 69.4 399.5 62.9 398.5 57.3 398.0 57.6 395.6 83.9 396.2 86.9 397.0 87.6 397.4 87.4ZM550.2 75.9 550.9 69.4 550.5 60.0 550.0 57.3 549.4 60.9 549.1 68.4 550.0 76.3 550.2 75.9ZM638.6 114.4 639.2 113.9 639.6 111.9 640.3 104.9 641.0 102.2 642.5 99.7 644.5 100.1 645.1 97.9 644.5 90.3 642.5 83.8 642.9 70.9 642.0 59.2 640.7 72.9 640.0 74.9 638.5 75.6 638.0 77.0 632.9 102.9 632.8 103.9 633.5 104.4 633.4 108.9 634.5 112.5 636.5 114.7 638.6 114.4ZM658.6 72.4 659.0 69.4 658.5 59.4 658.2 68.9 658.5 72.8 658.6 72.4ZM616.2 80.4 617.0 71.9 616.5 63.2 615.7 73.4 616.0 80.9 616.2 80.4ZM556.5 70.9 556.5 67.0 556.5 71.3 556.5 70.9ZM428.1 88.4 428.8 78.4 428.5 70.3 427.5 73.6 427.2 78.4 427.5 86.6 428.0 88.7 428.1 88.4ZM499.6 87.9 500.5 86.0 500.8 83.4 500.0 77.0 499.5 76.4 498.6 83.9 499.0 87.3 499.6 87.9ZM596.9 102.4 598.2 98.9 597.4 87.4 596.0 79.3 595.4 80.4 594.8 85.4 594.8 98.4 595.5 101.8 596.0 102.6 596.9 102.4ZM463.0 92.9 463.4 86.4 463.0 83.4 462.5 89.9 463.0 92.9ZM565.4 98.9 566.5 96.3 566.9 92.9 566.3 87.4 565.5 85.0 564.5 88.4 563.9 94.4 564.4 98.4 565.0 99.1 565.4 98.9ZM540.1 93.4 540.0 90.6 539.5 90.8 539.4 91.9 540.0 93.8 540.1 93.4ZM411.7 111.9 414.6 107.4 415.3 105.4 415.1 104.4 413.0 101.8 411.0 97.8 410.5 97.9 409.8 99.9 409.3 104.9 410.1 109.9 411.0 111.8 411.7 111.9ZM530.5 123.9 532.1 118.9 532.5 108.4 531.9 101.9 531.0 99.7 530.0 98.7 529.0 99.1 526.5 101.9 523.5 102.0 520.5 103.4 519.7 104.4 519.6 105.4 520.1 107.9 523.3 114.9 522.9 121.4 523.2 123.9 527.0 124.3 530.5 123.9ZM501.0 116.9 502.7 111.4 503.0 105.4 502.0 101.9 500.5 100.4 499.5 100.2 498.5 101.2 497.6 103.9 497.3 108.9 499.0 115.8 500.0 117.2 501.0 116.9ZM552.8 113.4 553.6 107.9 553.8 102.4 553.5 101.7 552.0 100.8 550.9 102.9 550.8 108.4 551.5 112.9 552.0 113.9 552.8 113.4ZM587.1 108.4 587.9 106.9 587.8 102.4 587.0 101.0 586.0 100.7 584.4 102.9 584.8 107.9 586.0 108.7 587.1 108.4ZM420.2 108.9 421.5 106.9 421.7 104.4 420.7 101.9 419.5 101.4 418.0 102.9 417.1 105.4 418.5 108.5 419.5 109.1 420.2 108.9ZM453.2 103.9 453.3 102.4 452.5 101.4 452.1 103.4 452.5 104.3 453.2 103.9ZM611.8 112.9 612.6 111.4 612.8 108.9 612.5 107.2 611.5 105.8 611.2 112.9 611.5 113.3 611.8 112.9ZM481.1 142.9 482.2 141.4 483.2 138.4 484.2 128.4 483.5 118.7 482.4 110.9 481.5 108.4 479.0 110.4 477.0 110.9 475.5 111.9 474.5 113.7 474.2 115.4 474.5 117.0 477.2 121.4 478.1 124.4 478.5 140.9 479.5 142.8 481.1 142.9ZM462.2 131.9 463.5 130.6 464.5 128.5 466.3 120.9 466.0 117.6 464.0 115.9 463.0 116.2 461.5 118.3 459.6 124.4 460.1 129.9 461.0 131.6 462.2 131.9ZM429.0 163.9 428.7 162.4 424.5 156.9 423.2 151.9 423.4 142.4 426.1 133.4 425.5 127.0 424.3 124.9 420.0 121.2 418.0 120.6 414.5 120.9 413.2 121.9 413.0 123.9 416.6 131.9 416.9 134.9 415.5 137.4 410.5 142.1 409.8 144.4 410.1 146.4 411.3 148.4 415.9 153.4 418.3 159.4 420.0 161.7 423.7 163.9 429.0 163.9ZM665.7 143.4 666.7 129.9 666.0 129.3 664.5 129.7 663.5 130.7 661.9 134.9 661.9 138.4 662.5 140.6 664.0 142.9 665.0 143.5 665.7 143.4ZM441.1 157.9 443.5 156.2 444.3 153.9 443.4 151.9 441.0 150.8 439.5 151.1 438.5 152.0 437.7 153.4 437.3 155.4 437.7 156.9 438.5 157.8 441.1 157.9ZM612.0 167.4 614.0 165.9 614.4 163.9 613.5 162.2 611.5 161.3 609.5 162.5 608.9 164.9 610.0 166.9 612.0 167.4ZM501.7 168.9 503.5 167.0 504.0 164.4 503.0 162.5 501.0 161.7 499.0 162.9 498.1 165.9 499.2 168.4 500.5 169.1 501.7 168.9ZM533.3 167.4 534.6 165.4 534.0 163.2 532.0 161.9 529.7 162.4 528.6 164.4 529.1 166.4 531.0 167.8 533.3 167.4ZM583.8 176.4 586.2 174.9 592.8 167.4 593.4 164.9 593.0 163.7 592.0 162.6 590.0 162.2 588.3 162.9 584.9 166.9 580.0 171.5 579.3 173.4 579.8 175.4 581.5 176.5 583.8 176.4ZM452.2 176.9 454.0 175.4 454.2 172.9 452.5 171.2 450.0 171.2 448.0 172.9 447.7 174.9 449.5 176.8 452.2 176.9ZM602.6 196.9 604.1 195.4 604.1 192.9 602.5 191.1 601.5 190.8 600.0 191.0 598.5 192.9 598.6 194.9 600.5 196.9 602.6 196.9ZM512.5 207.9 514.5 205.9 514.7 203.4 513.5 201.2 512.5 200.6 511.0 200.4 509.0 201.9 508.3 204.9 508.9 206.4 510.0 207.6 511.0 208.0 512.5 207.9ZM483.6 208.4 485.0 206.9 485.2 204.4 483.5 202.6 481.5 202.4 479.9 203.9 479.7 206.4 481.2 208.4 483.6 208.4ZM564.5 208.4 565.5 207.5 565.9 206.4 565.3 203.9 563.5 202.3 561.0 202.2 559.5 204.4 560.0 206.9 562.0 208.6 564.5 208.4ZM442.2 219.9 444.0 219.2 445.5 217.6 446.0 215.9 445.6 214.4 444.5 213.2 442.5 212.3 440.5 212.2 438.5 212.8 436.7 214.9 436.9 217.4 439.0 219.5 442.2 219.9ZM421.9 222.4 423.5 221.5 424.8 219.9 425.4 218.4 425.5 216.4 424.0 213.9 422.5 213.1 420.5 212.9 418.5 213.6 416.8 215.4 415.8 217.9 415.7 220.4 416.5 221.9 417.5 222.5 419.5 222.8 421.9 222.4ZM483.1 241.9 484.7 240.9 485.7 239.4 485.9 237.4 485.6 235.4 484.5 233.4 483.0 232.0 481.5 231.5 479.5 231.7 477.5 233.0 475.8 235.4 475.0 237.9 475.3 239.9 476.5 241.3 478.0 242.0 480.5 242.3 483.1 241.9ZM447.7 243.4 451.0 242.1 451.2 239.9 451.0 237.5 447.6 234.9 443.0 233.2 438.5 232.7 435.4 233.4 433.2 235.4 432.6 237.4 432.9 239.4 433.7 240.9 435.0 242.0 440.0 243.4 447.7 243.4ZM531.6 242.4 534.4 241.9 536.0 240.9 536.8 239.4 536.8 237.9 536.0 235.8 534.3 233.9 532.0 232.8 530.0 232.7 528.0 233.5 526.3 234.9 525.2 236.9 525.0 238.9 525.6 240.4 527.0 241.5 531.6 242.4Z" fill="#657ef0" fill-rule="evenodd"/>
<path d="M382.5 78.8 379.0 63.7 378.5 64.6 377.5 72.3 376.5 76.5 376.5 19.4 377.5 19.4 378.0 39.9 379.0 49.7 379.5 48.9 380.2 42.9 381.0 19.4 382.0 31.8 383.2 69.4 383.0 76.4 382.5 78.8ZM385.5 39.7 385.0 31.9 385.1 19.4 386.4 19.4 386.0 36.7 385.5 39.7ZM393.0 81.3 392.5 81.3 391.0 77.8 389.5 76.4 388.7 73.4 387.9 47.4 388.2 19.4 389.7 19.4 389.4 43.9 390.0 51.5 390.5 50.5 391.1 43.4 391.3 19.4 392.4 19.4 392.7 42.9 393.0 47.9 393.5 48.1 394.0 39.0 394.5 37.8 395.0 42.2 395.5 40.8 396.2 19.4 397.9 19.4 398.0 22.7 398.2 19.4 399.2 19.4 399.2 48.4 399.0 49.8 398.0 37.4 397.0 60.9 394.3 76.9 393.0 81.3ZM674.5 244.9 587.2 244.9 587.2 244.4 585.0 242.9 582.0 242.1 579.5 242.8 578.0 244.1 577.7 244.9 455.6 244.9 455.6 244.4 458.7 242.9 461.0 241.0 461.0 238.4 459.6 236.9 455.1 234.4 447.0 231.2 441.0 229.5 435.5 228.9 432.5 229.2 430.4 230.4 429.2 232.9 428.8 236.4 429.2 239.4 430.3 241.9 432.1 243.4 435.7 244.4 435.7 244.9 376.5 244.9 376.5 227.5 398.5 226.7 411.0 227.9 421.0 226.6 424.5 225.7 426.5 224.6 428.1 222.4 429.3 218.9 429.2 216.4 427.9 213.9 425.4 211.9 422.5 210.9 419.5 210.8 416.5 211.8 414.7 213.4 411.5 217.5 409.0 218.3 406.5 217.2 403.0 213.8 400.5 212.0 391.0 208.0 386.0 207.1 381.5 208.0 376.5 208.0 376.5 167.6 385.0 168.2 390.0 167.1 392.9 165.4 395.8 162.9 398.0 159.9 398.9 157.4 398.7 154.4 396.4 149.4 395.4 145.9 395.2 142.4 396.0 132.9 392.8 114.9 395.0 105.9 395.6 95.4 398.0 90.4 400.0 84.3 401.5 90.6 402.5 92.3 403.9 87.9 405.6 30.4 406.0 25.2 407.0 34.0 407.3 19.4 408.2 19.4 409.0 42.6 409.7 19.4 412.4 19.4 412.6 26.4 413.0 28.8 413.5 28.8 415.0 56.8 415.9 44.9 415.9 19.4 420.8 19.4 422.0 41.6 422.5 40.9 423.1 35.9 423.4 19.4 424.9 19.4 425.0 39.4 425.5 44.8 426.0 46.1 427.4 33.9 428.4 29.9 428.6 19.4 430.3 19.4 430.5 43.2 429.5 39.4 429.0 40.8 428.5 61.4 426.7 75.9 426.8 95.4 426.2 99.4 425.0 101.9 424.5 102.3 423.5 102.1 420.0 98.2 419.0 98.4 416.5 100.7 415.5 100.2 413.0 97.7 411.7 92.4 411.0 79.0 410.5 79.7 409.0 91.6 408.5 91.4 407.0 80.7 406.2 85.9 407.3 96.4 407.8 106.9 409.6 123.4 410.4 126.4 412.8 130.9 413.5 133.4 412.9 135.4 409.5 139.0 408.0 141.4 407.3 144.4 407.7 147.4 409.0 149.9 413.2 154.4 415.4 160.9 417.0 163.2 422.0 165.9 428.5 167.5 430.5 167.3 432.1 166.4 435.5 161.4 441.0 159.8 443.5 158.4 445.3 156.4 446.0 153.9 445.6 151.9 444.4 150.4 442.0 149.1 440.0 148.9 438.4 149.4 436.9 150.9 435.8 153.4 434.5 158.3 433.5 159.5 432.0 159.6 430.0 158.9 428.0 157.5 426.8 155.9 425.7 152.9 425.6 149.4 426.3 145.9 429.5 135.4 428.7 125.9 429.0 122.7 429.5 121.8 430.5 121.3 437.5 122.1 440.0 121.0 442.9 117.9 448.5 108.7 450.0 107.0 453.0 108.2 456.0 106.9 458.8 111.4 459.3 114.9 457.8 123.9 457.7 128.4 458.6 133.4 460.5 137.1 462.0 137.6 464.0 135.9 469.0 123.1 470.5 120.9 471.5 120.8 474.0 123.9 475.3 127.4 475.8 131.9 475.7 141.4 476.9 145.4 479.0 147.2 480.5 147.4 481.5 146.9 483.2 144.9 484.5 141.3 486.6 125.4 486.0 110.9 486.5 100.4 486.0 97.8 485.5 97.4 483.5 98.2 481.5 97.6 478.1 100.4 472.5 112.3 471.0 114.2 470.0 113.9 467.5 111.1 465.5 109.9 464.2 106.9 464.0 103.4 464.8 91.4 465.0 61.9 464.4 19.4 467.5 19.4 468.3 43.4 468.1 63.9 468.5 69.5 469.0 69.9 469.8 66.4 470.3 59.9 468.8 42.4 469.5 26.0 470.5 28.4 470.9 45.4 470.7 60.9 471.7 67.4 473.0 69.8 474.1 69.4 475.0 68.3 476.4 62.4 477.8 19.4 479.2 19.4 479.5 30.8 480.0 29.8 480.2 19.4 488.8 19.4 489.0 29.1 489.6 19.4 492.8 19.4 493.0 23.0 493.5 19.4 493.9 34.9 493.7 56.4 492.1 76.4 492.5 82.4 493.0 83.8 494.0 79.3 494.5 73.2 495.4 37.9 496.5 19.4 498.2 19.4 498.5 30.2 499.0 28.7 499.5 33.2 499.8 53.4 497.8 85.4 498.5 90.9 499.5 92.9 501.5 89.8 503.5 89.0 504.1 87.4 504.7 82.9 504.4 69.4 505.0 61.7 505.3 65.4 506.0 67.8 508.5 53.2 509.0 53.5 509.7 59.4 510.5 61.3 512.0 61.1 513.0 58.4 514.4 40.9 514.7 19.4 517.7 19.4 518.0 26.9 518.5 24.8 518.6 19.4 519.9 19.4 520.5 53.4 519.5 76.9 520.0 81.4 521.0 79.0 522.5 71.4 522.7 52.9 523.3 38.4 524.0 36.9 524.5 40.9 525.0 70.9 525.5 73.5 528.0 78.4 528.5 77.9 529.5 63.4 530.0 63.3 531.0 67.8 532.0 64.9 534.0 51.8 535.5 56.6 536.0 48.1 536.3 19.4 537.6 19.4 539.2 79.4 537.9 94.4 538.8 96.9 540.0 97.6 541.0 96.4 541.5 93.9 540.2 82.9 540.1 76.9 542.0 53.4 543.0 47.6 544.0 47.2 544.5 41.5 544.9 19.4 547.0 19.4 546.9 45.9 547.0 49.7 547.5 51.0 547.5 19.4 553.2 19.4 553.3 55.9 552.0 62.8 551.5 61.7 550.5 50.0 550.0 49.5 548.7 62.9 549.5 81.0 550.5 86.3 551.0 86.8 553.0 79.5 553.5 75.2 554.3 55.9 556.0 35.5 556.6 50.4 555.7 70.9 556.0 81.4 556.5 83.5 557.0 81.9 557.3 75.9 557.5 49.1 558.0 45.5 559.5 55.2 560.0 53.8 561.0 42.6 562.5 59.9 562.4 66.4 561.5 70.5 561.0 70.3 560.7 68.9 560.0 60.0 559.7 65.4 560.5 83.4 561.8 89.4 561.9 92.4 561.5 95.9 559.0 103.0 558.0 101.7 557.4 99.4 554.5 98.8 551.5 95.0 551.0 95.6 549.7 103.9 549.5 121.4 550.0 124.3 551.0 126.4 554.3 130.4 557.0 135.8 559.0 136.9 560.5 136.5 562.0 135.4 562.8 133.9 563.1 131.9 562.3 128.9 557.7 119.9 556.8 116.4 557.0 113.9 558.5 110.0 562.0 103.7 562.5 103.2 564.5 103.5 566.0 101.9 568.4 93.9 568.0 85.4 568.4 76.9 568.2 63.9 568.5 56.8 569.0 54.8 570.0 60.2 570.5 56.2 570.1 19.4 575.7 19.4 576.0 39.2 577.0 47.3 577.2 57.4 576.7 64.4 575.2 69.4 575.1 76.4 576.0 85.4 578.0 90.3 578.5 90.3 579.0 89.0 579.6 84.4 580.6 54.9 581.5 46.7 582.5 52.5 582.8 49.9 583.5 19.4 585.2 19.4 585.4 36.9 586.0 44.9 586.5 44.2 587.0 37.9 587.5 19.4 588.3 19.4 589.0 36.3 589.5 35.8 589.7 33.4 590.2 19.4 590.8 19.4 591.0 33.9 591.5 39.0 592.2 33.9 592.9 19.4 594.2 19.4 593.8 64.4 594.5 75.9 593.3 104.4 595.6 113.9 595.8 119.9 596.5 122.4 599.1 125.4 603.0 126.7 605.6 125.9 608.5 119.9 613.5 114.9 614.6 111.9 614.9 107.4 614.0 104.4 611.5 102.1 606.5 99.9 604.5 100.2 603.0 99.3 598.0 85.8 596.5 73.9 595.1 70.4 594.7 65.9 594.6 55.4 595.4 39.4 595.4 19.4 598.2 19.4 598.5 30.1 599.0 32.2 599.4 19.4 600.3 19.4 600.7 29.9 601.5 36.4 601.8 19.4 604.4 19.4 604.7 33.4 606.0 56.3 606.5 54.1 607.2 42.4 607.1 19.4 611.5 19.4 613.5 41.4 614.5 32.5 615.5 28.9 615.9 19.4 618.4 19.4 620.5 38.5 621.0 38.3 622.0 31.4 622.8 51.9 622.7 74.9 623.0 79.7 623.5 80.8 624.5 72.0 624.7 59.9 624.6 45.4 623.5 30.4 623.5 19.4 624.6 19.4 626.0 44.0 626.5 41.9 627.1 19.4 628.8 19.4 629.0 24.9 629.3 19.4 633.0 19.4 633.0 23.0 633.2 19.4 634.2 19.4 634.4 30.9 635.0 36.7 635.5 36.5 636.0 35.2 636.5 36.0 636.6 35.4 637.1 19.4 643.3 19.4 643.1 45.9 643.0 46.5 641.0 42.3 640.3 33.4 640.0 31.8 639.5 31.6 639.1 52.4 637.6 69.4 636.0 80.0 634.5 86.3 634.0 87.8 633.5 88.1 632.8 83.4 633.7 54.4 633.6 37.9 633.0 28.2 630.1 62.4 629.9 74.4 630.7 90.9 630.7 106.4 631.6 111.4 633.0 114.9 635.0 117.2 637.0 117.9 639.5 117.3 645.0 113.9 648.0 109.0 650.5 108.9 651.5 108.2 652.6 104.4 651.7 94.9 652.2 81.4 651.5 67.2 651.0 67.8 649.6 79.9 647.5 90.3 647.0 90.6 646.0 88.1 645.3 83.9 644.4 19.4 644.8 19.4 645.0 26.3 645.5 28.9 645.7 19.4 646.4 19.4 646.8 40.9 648.0 50.6 648.5 50.5 649.0 48.3 651.0 32.4 651.5 38.4 652.0 39.5 652.5 39.6 653.5 48.7 654.0 48.6 654.7 35.9 654.9 19.4 656.6 19.4 656.8 30.9 658.0 43.9 657.7 72.9 658.3 81.9 659.0 84.8 659.7 69.4 658.8 46.4 659.0 36.4 659.5 37.0 660.5 59.9 661.0 59.4 661.5 50.9 661.6 19.4 662.3 19.4 662.5 27.5 662.8 19.4 667.8 19.4 668.0 27.5 668.5 25.1 668.6 19.4 670.4 19.4 670.5 21.6 670.6 19.4 672.1 19.4 672.9 54.4 672.6 75.4 673.5 83.5 674.5 81.2 674.5 131.4 671.5 131.9 670.4 129.4 668.5 127.3 666.5 126.2 664.5 126.3 663.0 127.5 661.3 130.4 660.2 133.9 659.9 136.9 661.0 142.4 662.0 144.1 664.0 145.9 665.3 145.9 665.5 144.4 670.5 143.9 671.5 141.7 674.5 142.2 674.5 244.9ZM433.5 31.2 433.2 19.4 433.8 19.4 433.5 31.2ZM444.0 98.4 443.0 97.7 442.4 95.4 441.5 80.2 441.0 78.5 439.5 87.2 439.0 86.8 438.5 84.7 437.8 79.9 437.3 69.4 437.8 44.9 437.0 36.3 435.8 42.9 435.5 47.5 435.1 19.4 437.0 19.4 437.0 21.0 437.1 19.4 443.1 19.4 444.0 29.6 444.5 19.4 448.3 19.4 448.5 27.5 448.9 19.4 450.2 19.4 450.3 33.4 451.4 53.4 451.1 61.4 449.9 70.9 449.5 83.4 451.4 93.9 450.0 97.5 448.0 95.8 445.5 98.0 444.0 98.4ZM456.0 39.0 455.1 32.4 454.8 19.4 456.6 19.4 456.5 33.4 456.0 39.0ZM456.5 100.0 456.0 100.3 455.0 99.3 453.3 94.9 452.8 92.4 453.4 78.4 453.2 69.4 452.3 58.9 452.4 46.4 453.0 42.9 453.8 61.4 454.4 65.4 455.0 66.2 456.0 59.6 456.8 44.9 457.5 38.4 458.0 19.4 459.3 19.4 459.2 44.4 458.4 72.4 458.6 79.4 459.0 82.0 459.5 82.0 460.1 76.4 460.3 19.4 461.4 19.4 461.9 40.4 463.2 60.4 463.2 69.4 461.2 82.4 460.3 93.4 459.9 94.9 456.5 100.0ZM462.5 31.0 462.2 19.4 462.7 19.4 462.5 31.0ZM474.5 49.9 474.0 48.2 473.3 38.9 473.3 19.4 475.5 19.4 476.0 40.9 474.5 49.9ZM505.0 58.9 504.1 41.9 504.4 19.4 504.8 19.4 505.6 37.9 505.0 58.9ZM511.0 25.9 510.5 24.1 510.4 19.4 511.2 19.4 511.0 25.9ZM522.5 38.2 522.0 37.8 521.6 32.9 521.5 19.4 523.0 19.4 523.0 34.4 522.5 38.2ZM530.5 40.5 530.5 19.4 530.8 19.4 531.0 32.9 530.5 40.5ZM534.5 33.4 534.3 19.4 535.3 19.4 535.0 31.9 534.5 33.4ZM539.0 30.4 538.8 19.4 539.1 19.4 539.0 30.4ZM559.5 36.5 559.0 36.2 558.5 31.8 558.0 36.1 557.7 19.4 558.4 19.4 558.5 22.8 558.6 19.4 560.0 19.4 559.5 36.5ZM568.5 32.3 567.9 27.4 567.8 19.4 569.1 19.4 568.5 32.3ZM576.5 32.6 576.3 19.4 577.0 19.4 576.5 32.6ZM579.5 50.9 578.6 41.9 578.4 19.4 580.3 19.4 580.2 42.4 579.5 50.9ZM659.0 19.7 659.0 19.4 659.0 19.7ZM603.6 61.9 604.1 58.9 604.2 48.4 604.0 37.9 603.5 34.9 602.7 39.9 602.4 46.4 602.8 57.9 603.6 61.9ZM441.4 70.4 441.5 54.9 440.5 40.8 440.2 46.4 441.0 70.8 441.4 70.4ZM563.5 82.5 563.0 82.2 562.8 80.4 562.5 61.9 563.5 46.9 565.2 53.9 565.9 63.9 565.2 74.9 563.5 82.5ZM640.0 64.0 639.7 56.9 640.5 47.4 640.9 56.9 640.5 63.2 640.0 64.0ZM488.2 77.4 488.9 74.9 489.1 70.9 489.0 59.0 488.5 54.3 487.6 60.9 487.3 67.9 487.5 75.8 488.2 77.4ZM616.1 86.9 617.0 82.6 617.4 72.9 617.0 60.1 616.5 56.8 615.3 69.4 614.9 78.9 615.3 85.4 615.5 86.6 616.0 87.2 616.1 86.9ZM517.0 79.4 517.3 74.9 517.0 60.0 515.8 73.9 516.0 77.6 516.5 79.6 517.0 79.4ZM478.5 80.9 480.0 77.7 480.3 74.9 480.5 68.5 480.0 63.1 479.0 67.5 478.5 68.6 477.5 69.0 477.2 70.4 477.5 78.4 478.0 80.7 478.5 80.9ZM502.0 75.5 501.5 74.7 501.2 69.4 501.5 65.3 502.0 65.1 502.6 70.9 502.0 75.5ZM663.6 95.9 664.3 93.9 664.6 89.9 664.6 70.9 664.5 69.3 664.0 69.2 662.5 91.4 662.8 94.9 663.0 95.8 663.6 95.9ZM587.1 112.4 588.5 111.6 589.7 109.9 590.8 104.9 590.1 101.9 587.0 94.4 588.0 85.4 586.5 69.8 584.7 84.4 585.0 88.2 586.3 94.4 583.0 101.2 581.5 102.7 579.5 102.9 579.2 103.9 579.6 105.9 581.6 108.4 585.5 112.0 587.1 112.4ZM421.1 81.9 421.7 77.4 421.0 70.3 420.3 77.9 420.5 80.7 421.1 81.9ZM387.0 83.6 386.7 77.4 387.0 73.5 387.5 72.7 388.1 74.4 388.1 77.4 387.5 83.3 387.0 83.6ZM430.0 87.3 430.0 83.6 430.0 87.3ZM510.1 94.9 510.2 93.4 509.0 92.8 509.0 94.4 510.1 94.9ZM526.7 129.4 529.5 128.1 531.5 126.0 532.8 123.4 533.7 119.4 533.9 113.9 533.1 101.4 532.0 97.7 530.0 95.2 529.5 95.3 527.5 99.3 526.5 100.3 523.5 100.2 521.5 100.9 518.5 100.0 517.9 101.4 518.5 108.4 520.9 115.4 520.4 121.9 520.9 124.9 522.0 127.1 523.5 128.6 525.0 129.3 526.7 129.4ZM501.3 142.4 502.6 140.9 503.2 137.4 503.4 119.4 504.2 105.9 503.0 100.0 499.5 96.3 498.5 97.8 496.8 102.9 496.2 108.9 497.2 119.4 497.4 126.9 498.7 137.4 499.8 141.4 500.5 142.3 501.3 142.4ZM424.0 118.9 423.0 119.0 421.8 118.4 419.0 114.9 417.0 115.3 416.2 114.4 416.4 113.4 417.0 113.0 419.0 114.8 422.5 110.1 423.5 109.4 424.7 110.9 425.5 114.9 425.2 117.4 424.0 118.9ZM613.5 138.9 617.7 137.4 619.4 135.9 619.9 134.4 618.9 133.4 613.5 130.9 611.5 130.3 609.8 130.4 609.0 131.2 608.7 132.4 609.4 136.4 611.0 138.3 613.5 138.9ZM636.5 136.9 636.7 135.4 635.9 133.4 634.7 131.9 633.0 131.0 631.0 130.7 628.0 131.1 626.2 131.9 625.4 132.9 625.5 134.4 627.5 135.6 635.0 137.2 636.5 136.9ZM641.1 176.4 642.8 174.4 643.6 171.9 643.6 168.4 642.6 159.4 644.4 147.9 644.0 145.4 643.0 143.5 641.5 141.9 640.0 141.2 639.4 141.4 638.9 142.4 636.7 154.9 636.9 163.4 636.2 171.9 636.6 174.4 637.5 175.9 639.0 176.8 641.1 176.4ZM484.2 176.4 485.5 174.4 485.3 171.4 483.1 164.9 481.1 161.4 479.0 159.5 476.5 158.5 473.5 158.3 471.0 159.3 469.4 161.9 469.4 163.4 470.1 164.9 476.5 170.0 481.5 176.2 483.0 176.7 484.2 176.4ZM502.1 170.9 504.5 168.4 505.5 164.4 505.0 162.4 504.0 161.0 502.5 160.0 501.0 159.8 499.0 160.5 497.5 162.0 496.5 164.4 496.4 166.9 497.1 169.4 498.5 170.8 500.5 171.4 502.1 170.9ZM612.6 168.9 615.1 166.9 615.8 165.4 615.8 163.4 615.3 161.9 614.0 160.5 611.0 159.7 609.4 160.4 608.1 161.9 607.4 165.4 608.0 167.1 609.2 168.4 611.0 169.1 612.6 168.9ZM532.3 169.4 534.0 168.9 535.2 167.9 536.0 166.4 536.1 164.4 535.5 162.8 534.0 161.2 532.5 160.6 530.5 160.4 528.0 161.9 527.3 163.4 527.2 165.4 528.0 167.4 529.0 168.5 530.5 169.2 532.3 169.4ZM584.9 177.4 587.5 175.6 594.3 167.9 594.9 165.4 594.6 163.4 593.5 161.7 592.0 160.7 589.5 160.5 587.5 161.4 583.5 166.3 579.7 169.9 578.4 171.9 578.1 174.9 579.4 176.9 582.0 177.9 584.9 177.4ZM452.2 178.4 454.0 177.5 455.1 176.4 455.8 174.9 455.8 172.9 455.2 171.4 454.0 170.2 452.5 169.5 450.5 169.5 448.5 170.2 447.0 171.5 446.0 173.3 445.9 174.9 446.5 176.4 448.3 177.9 450.0 178.5 452.2 178.4ZM603.7 198.4 605.0 197.4 606.0 195.4 606.0 193.4 605.5 191.8 604.0 189.9 602.5 189.1 600.5 188.9 599.0 189.3 597.7 190.4 596.9 191.9 596.7 193.9 597.3 195.9 598.4 197.4 600.0 198.5 602.0 198.8 603.7 198.4ZM623.0 199.9 625.0 197.8 625.7 194.4 624.5 191.6 623.5 190.9 622.0 190.7 621.0 191.1 619.8 192.4 619.2 195.9 620.5 199.3 621.5 200.0 623.0 199.9ZM512.2 209.9 514.0 209.1 515.5 207.6 516.4 205.4 516.4 203.4 515.8 201.4 514.5 199.5 513.0 198.5 511.0 198.2 509.3 198.9 507.9 200.4 506.9 202.4 506.7 204.9 507.2 206.9 508.5 208.8 510.5 209.9 512.2 209.9ZM483.0 210.9 485.0 210.2 486.3 208.9 487.1 206.9 487.2 204.9 486.5 202.9 485.5 201.8 484.0 200.9 482.0 200.6 480.5 200.9 479.0 202.1 478.1 203.9 477.9 205.9 478.3 207.9 479.5 209.7 481.0 210.7 483.0 210.9ZM565.8 210.4 567.4 209.4 567.9 207.9 567.6 205.4 566.7 203.4 565.5 201.9 563.5 200.7 562.0 200.4 560.3 200.9 559.0 202.1 558.2 203.9 558.2 205.9 558.9 207.9 561.5 210.2 563.5 210.6 565.8 210.4ZM623.7 216.4 625.4 214.4 625.5 211.9 624.0 209.2 623.0 208.5 621.5 208.3 620.3 208.9 619.3 210.4 619.0 213.9 619.8 215.4 621.0 216.4 622.5 216.7 623.7 216.4ZM442.7 222.4 445.5 221.1 447.5 218.9 448.2 216.4 447.6 213.9 445.5 211.9 442.5 210.8 439.0 210.8 436.1 211.9 434.4 213.4 433.3 215.4 433.2 217.4 434.0 219.4 435.5 221.0 437.5 222.2 440.0 222.7 442.7 222.4ZM581.1 218.4 582.7 217.4 583.5 215.9 583.3 213.9 582.0 212.4 580.0 211.7 578.0 211.7 575.7 212.4 574.4 213.4 574.4 215.4 576.0 217.3 578.5 218.4 581.1 218.4ZM480.4 243.9 484.3 243.4 486.5 242.5 487.8 240.9 488.3 238.9 488.0 235.4 486.4 231.9 484.0 229.5 481.5 228.7 478.5 229.3 475.5 231.4 472.8 234.9 471.4 238.4 471.5 241.6 472.9 242.9 476.0 243.7 480.4 243.9ZM535.4 242.9 537.9 241.4 538.7 238.9 537.8 235.9 535.4 232.9 532.6 231.4 530.0 231.2 527.0 232.2 524.4 234.4 523.4 236.4 523.0 238.4 523.4 240.4 524.5 241.7 526.5 242.7 529.0 243.2 535.4 242.9Z" fill="#7a8deb" fill-rule="evenodd"/>
<path d="M392.0 36.3 391.8 19.4 392.0 36.3ZM396.0 58.4 395.4 54.4 396.4 19.4 397.3 19.4 397.0 50.9 396.5 57.5 396.0 58.4ZM424.5 98.2 423.5 98.0 422.5 97.1 420.7 92.9 421.2 90.9 423.9 85.9 424.6 80.9 424.3 76.4 423.0 73.0 422.5 69.9 421.5 60.1 420.0 66.9 418.5 79.9 418.4 85.4 419.5 92.4 418.6 94.9 417.0 97.3 416.5 97.4 415.5 96.6 413.5 93.7 413.0 91.9 411.5 59.9 411.0 58.7 410.0 61.4 409.7 73.4 409.0 79.3 408.5 79.2 408.2 77.4 407.3 68.9 407.3 57.4 408.0 39.6 408.3 46.4 409.5 54.8 409.6 53.9 410.1 19.4 411.5 19.4 412.0 43.3 413.0 37.9 413.5 39.1 414.0 73.0 414.5 80.0 415.0 80.2 417.5 50.4 418.6 19.4 420.4 19.4 421.5 47.3 422.0 49.3 423.7 39.9 423.8 19.4 424.6 19.4 424.3 41.9 425.0 50.7 426.0 53.5 426.5 52.0 427.5 39.9 428.0 39.1 428.4 48.9 428.0 59.4 426.8 65.4 425.8 78.4 426.0 93.9 425.5 96.8 424.5 98.2ZM436.0 29.9 435.5 29.4 435.4 19.4 436.1 19.4 436.0 29.9ZM438.5 39.9 437.8 32.4 437.7 19.4 440.1 19.4 440.0 29.9 439.0 39.7 438.5 39.9ZM445.5 91.1 443.0 85.6 442.2 78.9 442.0 46.9 440.8 29.4 441.1 19.4 441.7 19.4 442.5 33.3 443.0 31.6 444.0 37.9 444.5 37.0 445.2 19.4 447.8 19.4 448.0 34.7 448.5 39.2 449.2 31.4 449.3 19.4 449.8 19.4 450.5 52.4 450.0 56.8 448.5 49.8 447.9 78.9 446.5 89.0 445.5 91.1ZM456.0 31.2 455.5 30.0 455.2 19.4 456.3 19.4 456.0 31.2ZM456.0 94.1 455.0 91.9 454.9 87.4 457.8 41.4 458.3 19.4 458.9 19.4 457.8 87.4 457.1 92.4 456.0 94.1ZM471.5 110.0 470.5 110.2 469.0 108.8 466.8 104.9 466.4 102.9 467.2 91.9 465.6 69.4 465.0 36.4 465.2 19.4 467.3 19.4 467.9 75.9 468.5 76.7 470.5 72.8 473.5 78.5 474.0 78.7 475.5 75.5 476.0 75.7 477.2 85.4 477.2 89.9 476.5 94.1 474.9 98.9 473.3 106.4 471.5 110.0ZM474.5 43.2 474.0 42.1 473.6 35.9 473.5 19.4 475.1 19.4 475.2 34.9 474.5 43.2ZM674.5 244.9 588.8 244.9 588.8 244.4 585.5 241.8 582.0 240.6 580.0 240.9 578.5 241.8 577.0 243.5 576.5 244.9 487.9 244.9 487.8 244.4 489.5 243.7 490.6 242.4 491.0 238.4 489.2 231.9 487.8 229.4 486.0 227.6 482.5 226.1 479.0 226.3 475.5 227.9 470.0 232.4 467.0 233.3 449.2 227.9 447.0 226.5 446.5 225.4 449.9 219.9 450.5 217.4 450.3 215.4 448.7 212.4 445.0 210.1 442.0 209.4 438.5 209.3 431.0 211.4 424.0 209.3 418.5 208.9 415.0 209.5 410.5 211.9 409.0 212.2 389.0 204.8 385.5 204.5 381.5 205.3 376.5 205.3 376.5 172.6 381.5 172.7 383.9 171.4 391.0 168.9 397.7 164.9 400.7 162.4 402.9 159.4 403.8 156.9 404.5 152.6 408.0 154.5 409.7 155.9 412.3 162.4 414.5 164.8 418.5 166.7 427.5 169.3 430.5 169.4 433.0 168.6 438.0 163.4 444.5 159.4 446.9 156.4 447.6 153.4 446.6 150.4 444.4 148.4 440.5 147.0 437.5 147.4 435.5 149.4 433.0 154.9 431.5 156.1 430.0 155.8 428.7 154.4 428.0 152.4 427.9 149.9 429.0 146.0 434.0 134.9 434.0 127.1 435.0 126.4 437.5 126.7 439.0 125.6 443.5 120.3 448.5 111.6 450.0 109.9 453.0 110.7 455.5 110.8 457.0 113.2 457.3 116.4 456.2 125.4 456.3 130.9 457.5 137.4 459.5 141.3 462.0 142.6 463.5 142.2 465.0 140.9 466.6 137.9 469.5 129.7 470.5 128.2 471.5 128.0 472.5 129.5 473.1 131.9 472.8 142.9 474.3 147.4 477.0 150.9 479.0 151.9 481.5 150.9 483.5 148.7 485.7 143.4 489.7 123.9 489.1 106.9 489.6 97.9 489.0 94.4 487.5 91.5 486.5 91.1 485.5 91.3 483.5 93.1 482.5 93.1 480.4 91.4 479.5 89.4 479.6 86.4 480.9 77.9 481.0 69.4 480.0 53.2 478.5 63.0 478.0 62.8 477.5 58.9 478.3 19.4 478.7 19.4 479.5 39.4 480.0 37.7 480.5 19.4 485.7 19.4 486.0 43.5 487.0 55.4 486.8 76.4 487.1 80.4 488.0 82.6 489.2 80.4 489.9 75.4 489.4 55.4 489.9 19.4 492.2 19.4 493.2 39.9 493.3 53.4 493.0 60.1 491.1 76.9 492.5 92.2 493.5 89.4 494.7 80.9 495.9 38.4 496.9 19.4 497.8 19.4 497.6 44.9 498.1 69.4 497.0 85.4 497.7 95.4 495.1 105.9 494.7 123.4 497.5 141.9 499.0 145.1 501.0 146.2 502.5 145.6 503.6 144.4 504.5 142.0 505.0 138.9 505.4 119.4 505.3 97.4 505.5 96.9 505.8 97.9 507.0 99.0 510.5 98.6 511.9 97.4 512.6 95.4 512.0 91.9 509.3 85.9 509.0 82.4 510.0 69.4 511.0 67.3 513.3 65.9 513.9 62.9 515.1 19.4 516.8 19.4 517.0 33.9 516.1 56.9 514.7 72.4 515.7 86.4 514.9 95.4 518.5 114.9 518.7 124.9 520.0 128.0 522.0 130.8 524.0 132.6 525.5 132.9 529.0 131.2 532.5 127.9 534.4 124.4 535.4 119.4 534.5 97.9 530.7 90.4 530.2 79.9 530.4 75.9 532.0 70.0 533.4 58.9 534.0 57.2 535.5 62.7 536.0 61.5 536.7 19.4 537.2 19.4 538.0 78.9 537.7 84.9 536.3 93.9 536.3 96.4 538.0 98.9 540.0 99.7 541.4 98.4 543.0 95.3 544.5 95.2 544.9 94.4 544.5 92.2 543.0 91.9 542.0 89.0 541.2 83.4 541.0 76.9 542.5 57.9 543.0 57.4 544.0 59.7 544.5 55.5 545.2 19.4 546.7 19.4 546.4 50.4 548.0 64.2 549.4 91.9 547.9 121.9 548.8 126.4 552.6 132.9 553.5 136.4 552.9 138.9 549.8 142.9 549.4 146.4 551.0 150.9 555.2 156.9 556.6 157.9 558.5 158.4 561.5 157.7 562.8 155.9 562.8 153.4 557.5 147.4 556.6 145.4 556.5 143.4 557.3 141.4 563.5 136.8 564.7 134.9 565.1 132.9 564.4 128.4 561.0 122.0 559.7 118.4 559.2 115.4 559.7 112.9 562.0 108.8 565.5 106.3 569.0 98.3 570.0 97.7 571.5 98.3 572.4 96.4 572.4 93.4 571.3 84.9 571.6 75.4 570.6 19.4 573.4 19.4 573.5 22.1 573.6 19.4 575.0 19.4 575.2 44.4 575.9 56.9 574.7 67.4 574.6 77.9 575.1 86.4 577.1 95.4 577.5 104.9 578.5 109.1 579.5 110.5 583.2 113.4 586.5 116.7 590.5 117.5 593.3 123.4 594.9 125.4 605.0 130.8 608.3 138.4 610.5 140.9 613.0 141.6 617.2 141.4 619.5 140.7 623.0 138.9 625.0 138.7 631.5 139.4 634.5 141.3 635.6 143.4 635.9 146.4 633.1 155.9 634.4 163.9 634.5 174.9 635.3 177.4 636.8 178.9 639.0 179.4 641.0 178.9 642.5 177.8 643.9 175.9 645.2 171.9 645.5 160.9 647.7 149.4 647.3 145.9 646.1 142.9 640.7 135.9 637.0 129.7 634.5 127.5 632.5 127.1 627.0 127.4 622.5 128.5 617.0 129.1 612.5 127.2 610.4 124.9 610.8 121.9 614.2 117.4 615.4 114.9 616.1 111.9 616.3 107.4 615.4 100.4 615.0 99.9 613.0 100.2 609.0 97.9 607.6 95.9 607.0 93.4 607.6 84.9 607.0 63.9 607.9 41.9 607.6 19.4 611.1 19.4 611.5 29.6 612.2 33.9 613.0 46.2 613.5 48.0 614.5 39.0 616.1 34.4 616.7 19.4 617.6 19.4 619.0 37.2 620.5 48.8 621.0 49.2 621.5 45.0 622.0 44.2 622.5 57.9 621.9 84.9 622.5 92.2 623.0 93.5 623.5 93.6 624.4 89.9 625.5 58.3 626.0 58.6 626.5 57.2 627.3 19.4 628.3 19.4 629.0 35.5 629.8 19.4 632.4 19.4 631.5 42.0 629.5 59.4 628.8 85.9 628.0 99.4 628.9 107.9 630.9 115.4 633.5 119.6 635.0 120.7 636.5 121.0 639.5 120.0 646.0 116.8 648.5 114.0 652.0 111.6 653.6 108.9 654.6 105.9 654.7 102.9 653.2 96.9 652.9 92.4 653.5 84.4 654.0 83.3 654.5 83.8 654.8 83.4 655.1 81.9 654.6 52.9 655.1 39.9 656.0 31.8 657.4 45.9 657.1 69.4 657.7 86.9 659.0 93.4 662.5 100.9 663.5 100.6 664.5 98.5 665.5 92.4 665.0 61.8 664.5 62.2 663.1 67.4 662.0 84.8 661.0 89.1 660.3 82.9 660.3 73.4 661.7 61.4 662.4 39.4 663.5 29.0 664.0 28.7 664.3 26.9 664.6 19.4 665.8 19.4 666.0 27.9 666.5 29.1 667.0 26.1 668.5 36.8 668.9 19.4 669.8 19.4 670.0 27.2 670.5 29.5 671.2 19.4 671.7 19.4 672.6 54.4 672.2 93.9 673.0 97.5 673.5 97.8 674.5 97.1 674.5 126.9 671.5 127.3 669.3 124.4 666.8 123.9 666.6 122.4 665.0 122.0 664.0 122.4 662.0 124.8 659.2 130.4 658.1 133.9 657.8 137.9 658.2 141.4 659.1 143.9 661.0 146.5 663.5 148.4 665.0 148.9 667.0 148.8 669.5 147.9 671.5 145.9 674.5 146.2 674.5 160.5 671.5 160.7 670.5 159.4 669.0 158.5 665.0 158.1 663.0 158.9 661.2 160.4 660.3 161.9 659.9 163.9 660.4 166.4 661.8 168.9 664.0 171.1 666.0 172.1 667.5 172.3 669.0 171.7 670.5 170.1 671.5 168.0 674.5 168.2 674.5 212.3 671.5 212.4 667.0 213.4 658.0 212.0 654.0 212.1 650.7 213.4 649.8 214.4 649.4 215.9 649.6 217.4 650.6 218.9 654.0 220.6 658.0 220.7 667.0 219.3 671.5 220.6 674.5 220.7 674.5 244.9ZM487.5 47.2 486.6 30.9 486.5 19.4 488.2 19.4 488.4 36.9 488.0 45.3 487.5 47.2ZM518.5 71.8 517.9 64.4 517.8 48.4 519.0 19.4 519.7 19.4 520.2 56.4 519.5 67.8 519.0 71.1 518.5 71.8ZM522.0 28.0 521.9 19.4 522.5 19.4 522.0 28.0ZM548.5 50.1 548.0 19.4 548.9 19.4 549.7 34.9 549.5 45.0 549.0 49.7 548.5 50.1ZM552.0 57.2 551.2 50.4 550.9 36.4 551.3 19.4 552.5 19.4 552.9 19.4 553.3 45.9 552.9 53.9 552.5 56.7 552.0 57.2ZM579.5 44.3 578.9 38.4 578.7 19.4 579.9 19.4 579.5 44.3ZM582.0 99.4 581.0 99.5 580.2 98.4 579.4 94.4 580.3 84.4 581.0 61.9 581.5 56.2 582.5 59.7 583.0 58.4 584.0 19.4 584.9 19.4 585.2 39.9 586.0 50.0 586.5 49.8 586.6 48.9 588.0 32.1 589.0 42.4 589.5 42.5 590.0 40.2 590.5 40.8 591.0 43.7 591.5 44.1 592.5 39.7 593.0 41.2 593.5 78.9 592.5 88.2 592.0 89.5 591.4 88.9 589.0 80.4 587.7 67.9 586.5 61.9 584.0 78.9 583.7 84.9 584.2 94.4 583.4 97.4 582.0 99.4ZM604.5 93.0 603.2 89.9 601.5 80.9 600.0 83.9 599.0 84.2 598.5 83.3 596.8 69.4 595.5 64.0 595.2 55.9 595.7 40.4 595.7 19.4 597.9 19.4 598.5 37.8 599.0 40.4 599.5 40.5 600.5 39.2 601.0 42.9 601.5 75.1 602.0 74.6 603.0 70.9 604.5 70.7 605.1 72.4 605.4 90.4 605.1 92.4 604.5 93.0ZM642.5 37.3 642.0 36.7 641.4 32.4 641.1 19.4 642.9 19.4 642.5 37.3ZM637.5 51.6 638.0 23.3 638.5 20.6 638.6 41.9 637.5 51.6ZM377.0 68.5 376.5 66.7 376.5 60.9 376.6 31.9 377.0 24.0 378.2 55.4 377.0 68.5ZM388.5 45.7 388.5 30.0 388.5 45.7ZM461.5 73.2 460.8 69.9 460.4 59.9 460.5 40.0 461.0 32.0 461.3 43.4 462.6 62.9 462.4 69.4 461.5 73.2ZM382.0 70.2 380.2 60.9 379.9 56.9 381.0 36.6 381.5 34.7 382.5 64.7 382.0 70.2ZM635.0 77.2 634.5 76.8 634.1 73.4 634.2 57.4 634.6 45.9 635.5 41.6 636.0 42.7 637.0 51.6 637.5 51.9 636.8 69.4 636.0 75.0 635.0 77.2ZM616.1 93.9 617.4 84.9 617.8 73.9 616.5 45.7 614.0 77.3 613.5 75.4 613.0 65.6 612.5 65.2 611.0 72.9 610.2 82.4 610.4 84.9 611.0 85.8 612.5 83.4 613.5 78.5 615.1 92.4 615.4 93.9 616.1 93.9ZM646.5 79.9 645.7 76.4 645.3 67.4 645.4 55.4 646.0 46.3 646.5 46.9 648.0 57.2 648.5 57.7 650.0 51.3 650.5 52.0 650.7 54.9 649.5 73.1 649.0 75.0 646.5 79.9ZM555.0 66.1 554.9 56.9 555.5 46.8 555.8 53.4 555.0 66.1ZM392.5 74.9 391.3 71.4 390.4 65.4 392.0 47.4 393.2 66.4 393.1 72.4 392.5 74.9ZM523.5 61.8 523.4 51.9 524.0 48.4 524.0 60.4 523.5 61.8ZM405.5 77.4 405.0 74.9 404.9 63.9 405.5 51.6 406.0 49.2 406.6 65.4 406.2 72.9 405.5 77.4ZM561.0 61.1 561.0 50.6 561.5 52.4 561.6 56.9 561.5 60.6 561.0 61.1ZM439.5 82.1 439.0 81.9 438.5 79.4 437.9 69.9 438.5 57.9 439.0 53.1 439.5 53.0 440.1 59.9 440.4 72.4 440.2 78.4 439.5 82.1ZM564.0 72.6 563.4 63.4 564.0 54.3 564.7 57.4 565.1 63.9 564.8 69.4 564.0 72.6ZM558.5 94.0 557.8 93.9 557.4 92.4 558.2 84.9 558.1 69.4 558.5 65.9 559.0 90.4 558.5 94.0ZM526.5 98.5 523.5 98.4 522.0 98.9 521.0 98.6 519.6 96.4 518.9 93.4 519.2 89.4 521.5 84.2 522.0 84.0 523.0 85.2 523.5 85.2 525.0 81.4 526.0 81.8 527.0 83.5 528.3 89.9 528.2 94.9 527.5 97.1 526.5 98.5ZM555.5 94.0 555.0 94.3 554.5 93.8 554.1 92.4 554.5 88.0 555.0 88.2 555.8 91.4 555.5 94.0ZM404.0 151.9 400.0 148.5 398.2 144.9 398.0 142.4 399.3 134.4 396.7 124.9 395.6 117.9 397.2 97.4 399.0 91.2 400.0 89.6 402.5 96.3 404.5 92.4 405.0 92.5 405.5 94.4 407.5 123.4 409.3 132.4 408.9 134.4 406.6 138.4 405.5 141.4 404.0 151.9ZM585.7 137.4 586.5 136.7 587.2 134.9 587.0 129.9 585.5 127.1 583.0 126.9 581.5 127.7 580.1 129.4 579.4 131.4 579.5 133.6 580.4 135.4 582.0 136.8 584.0 137.5 585.7 137.4ZM524.0 146.4 526.0 144.7 526.7 142.4 526.0 139.6 525.0 138.5 524.0 138.2 522.5 139.0 521.5 140.2 520.5 143.9 521.5 146.2 522.5 146.6 524.0 146.4ZM485.4 179.9 487.0 178.9 488.0 177.4 488.5 173.9 487.5 170.4 482.5 159.3 480.0 156.1 478.0 155.0 473.5 155.1 470.5 156.3 468.5 158.2 467.4 160.4 467.1 162.9 467.9 164.9 469.7 166.9 475.6 171.4 481.0 179.2 483.0 180.1 485.4 179.9ZM501.0 173.4 503.0 172.4 505.0 170.3 506.4 167.4 506.8 164.4 506.3 161.9 505.1 159.9 503.0 158.4 501.0 158.0 498.5 158.7 496.3 160.9 495.0 163.9 494.6 167.4 495.1 170.4 496.4 172.4 498.5 173.4 501.0 173.4ZM612.5 170.4 614.5 169.6 616.0 168.1 617.0 165.9 617.1 163.4 616.5 161.1 615.1 159.4 613.0 158.4 611.0 158.3 609.0 158.9 607.4 160.4 606.3 162.9 606.1 165.4 606.8 167.9 608.0 169.4 610.0 170.4 612.5 170.4ZM534.3 170.4 536.0 169.4 537.2 167.4 537.5 164.9 536.8 162.4 535.0 160.4 533.0 159.4 530.5 159.1 528.5 159.7 527.0 161.0 526.0 163.4 526.0 165.9 526.8 167.9 528.0 169.4 530.0 170.5 532.0 170.8 534.3 170.4ZM583.8 178.9 586.0 178.3 588.0 177.0 594.0 170.9 595.5 168.7 596.2 165.9 596.0 163.4 594.7 160.9 592.6 159.4 589.5 158.9 586.5 160.1 577.5 171.3 576.9 174.4 578.0 177.2 580.5 178.7 583.8 178.9ZM453.2 179.4 455.0 178.4 456.6 176.4 457.2 173.9 456.8 171.4 455.5 169.5 453.5 168.4 451.0 168.0 448.5 168.6 446.5 169.9 444.9 171.9 444.2 174.4 444.7 176.4 446.0 178.1 448.0 179.3 450.5 179.8 453.2 179.4ZM513.5 189.9 516.1 187.9 516.9 186.4 517.0 184.9 516.1 183.4 515.0 182.6 511.5 182.1 510.0 182.9 509.2 183.9 509.0 186.8 509.7 188.4 511.0 189.7 512.0 190.1 513.5 189.9ZM604.4 199.9 606.5 198.4 607.5 196.4 607.7 193.4 606.9 190.9 605.4 188.9 603.0 187.5 600.5 187.1 598.0 187.7 596.5 189.0 595.4 191.4 595.3 194.4 596.2 196.9 597.9 198.9 600.0 200.0 602.0 200.3 604.4 199.9ZM624.4 218.9 626.7 217.4 628.1 214.4 627.9 210.4 626.0 204.4 627.9 197.4 628.1 193.9 627.6 191.4 626.5 189.4 624.5 188.0 622.5 187.7 620.5 188.2 619.0 189.3 617.2 192.9 616.9 196.9 617.8 203.9 616.7 208.9 616.5 211.9 617.3 215.4 619.0 217.8 621.5 219.1 624.4 218.9ZM513.2 211.4 515.5 210.0 517.0 208.0 517.8 205.4 517.8 202.9 517.0 200.2 515.5 197.9 513.0 196.0 511.0 195.7 508.5 197.0 506.5 199.4 505.4 202.4 505.4 205.9 506.5 208.9 508.0 210.6 510.5 211.7 513.2 211.4ZM484.1 212.9 486.5 211.8 488.0 210.0 488.8 207.4 488.7 204.4 487.8 201.9 486.0 200.1 483.5 199.1 481.0 199.2 478.6 200.4 477.2 202.4 476.5 204.9 476.7 207.9 477.7 210.4 479.5 212.2 481.5 213.0 484.1 212.9ZM581.3 220.9 584.0 219.9 585.7 217.4 585.8 213.9 584.0 211.2 580.5 209.6 572.0 209.7 570.5 208.3 567.6 202.4 565.5 200.3 563.5 199.4 561.5 199.1 560.0 199.5 558.5 200.6 557.3 202.9 556.9 205.4 557.6 208.4 559.1 210.4 562.0 211.9 568.5 213.5 572.8 217.9 575.9 219.9 578.5 220.8 581.3 220.9ZM535.7 243.9 539.0 242.8 540.1 241.4 540.4 239.9 539.5 235.9 536.5 232.0 533.5 230.2 530.0 229.7 526.1 230.9 523.0 233.4 521.7 235.4 521.2 237.4 521.2 240.4 522.6 242.4 524.7 243.4 527.3 243.9 535.7 243.9ZM426.5 244.9 376.5 244.9 376.5 232.5 385.0 232.7 398.0 231.6 410.0 232.4 418.5 231.1 421.5 231.3 423.4 232.4 424.5 234.4 425.9 242.4 426.9 244.4 426.5 244.9Z" fill="#c6f0ec" fill-rule="evenodd"/>
<path d="M410.5 45.7 410.5 19.4 410.9 19.4 411.1 37.4 410.5 45.7ZM417.5 70.5 419.1 19.4 419.8 19.4 420.8 53.4 419.5 63.4 417.5 70.5ZM438.5 30.6 438.3 19.4 438.6 19.4 438.5 30.6ZM466.5 66.6 465.4 37.9 465.6 19.4 466.0 19.4 467.1 19.4 467.3 34.9 467.0 62.8 466.5 66.6ZM474.5 36.7 473.9 33.9 473.9 19.4 474.7 19.4 474.5 36.7ZM483.0 89.1 482.0 88.3 481.4 84.9 481.5 75.4 480.4 41.4 480.8 19.4 482.1 19.4 483.0 47.0 483.5 53.0 484.0 53.2 484.3 43.4 484.1 23.9 484.3 19.4 485.2 19.4 485.6 44.9 486.4 58.4 486.0 73.2 485.5 74.4 484.5 70.8 484.0 72.3 483.9 76.4 484.7 84.4 484.1 87.4 483.0 89.1ZM491.0 68.1 490.5 68.3 489.8 56.4 490.5 19.4 491.8 19.4 492.7 49.9 492.4 56.9 491.0 68.1ZM497.5 21.8 497.5 19.4 497.5 21.8ZM515.0 57.9 515.7 19.4 516.2 19.4 516.2 40.9 515.5 56.1 515.0 57.9ZM546.0 40.8 545.5 38.2 545.4 19.4 546.4 19.4 546.0 40.8ZM552.0 52.4 551.4 45.4 551.3 34.4 551.7 19.4 552.5 19.4 553.0 43.9 552.5 52.3 552.0 52.4ZM574.0 93.3 572.4 83.9 571.0 35.4 571.2 19.4 573.0 19.4 573.5 34.1 574.2 31.4 574.5 19.4 574.0 75.4 574.4 89.9 574.0 93.3ZM579.5 37.4 579.0 33.2 578.9 19.4 579.6 19.4 579.5 37.4ZM584.5 21.5 584.5 19.4 584.5 21.5ZM599.0 79.8 598.0 76.4 597.0 64.9 595.7 57.9 596.0 19.4 597.1 19.4 598.3 42.9 599.0 45.9 599.5 46.6 600.0 46.5 600.5 47.5 600.7 50.4 600.3 74.4 599.9 77.9 599.0 79.8ZM608.5 27.5 608.3 19.4 608.6 19.4 608.5 27.5ZM609.0 78.3 608.5 78.3 607.9 74.4 607.6 60.4 608.5 49.1 609.5 46.9 609.6 44.9 609.7 19.4 610.8 19.4 611.1 30.9 612.4 42.9 612.7 54.9 612.1 61.4 609.0 78.3ZM630.5 44.6 629.9 37.9 630.4 19.4 631.4 19.4 631.5 32.9 630.5 44.6ZM642.0 26.5 641.9 19.4 642.3 19.4 642.0 26.5ZM584.5 65.4 583.9 62.9 583.7 54.9 584.5 24.5 585.6 56.4 585.3 62.4 584.5 65.4ZM673.0 121.5 671.5 121.8 664.7 112.9 665.1 100.9 666.5 97.5 667.0 96.8 669.0 95.8 669.8 93.9 668.4 84.4 669.4 69.4 669.4 38.9 669.5 36.4 670.5 34.5 671.5 27.5 672.3 57.4 671.7 85.9 670.6 94.4 672.0 100.2 673.0 101.6 674.5 101.7 674.5 120.8 673.0 121.5ZM519.0 65.6 518.4 62.9 518.3 51.9 519.5 28.1 520.0 52.9 519.0 65.6ZM396.5 41.7 396.5 32.0 397.0 28.9 396.5 41.7ZM478.5 56.8 478.0 55.3 477.9 47.4 478.5 29.0 479.1 44.9 478.5 56.8ZM628.0 70.1 627.5 68.1 627.3 55.9 627.5 35.5 628.0 30.1 628.8 53.4 628.0 70.1ZM446.0 82.8 445.5 82.4 445.0 80.4 444.2 73.9 445.5 33.4 447.5 64.9 447.2 76.9 446.0 82.8ZM537.0 49.1 537.0 33.6 537.0 49.1ZM617.5 125.9 615.5 125.4 614.3 123.4 614.7 121.4 617.0 115.9 617.6 111.9 617.0 97.4 617.9 85.4 618.2 73.9 617.4 48.9 617.5 34.1 618.0 35.2 620.2 53.9 621.3 95.4 622.3 98.9 624.5 101.3 625.6 103.9 627.1 112.4 629.5 121.4 628.5 122.8 617.5 125.9ZM667.0 87.3 666.5 86.2 666.2 82.9 665.5 52.0 665.0 50.6 664.3 57.4 663.5 60.0 663.0 59.4 662.7 56.4 662.9 41.4 663.5 35.8 664.5 34.0 665.5 42.1 667.0 34.7 668.1 44.9 667.3 73.9 667.9 84.4 667.0 87.3ZM496.0 80.0 495.5 72.9 495.6 59.9 496.5 39.7 497.0 41.5 497.7 69.4 497.0 77.2 496.0 80.0ZM656.0 69.3 655.1 54.4 655.5 44.6 656.0 42.0 656.6 44.4 656.9 52.9 656.5 68.5 656.0 69.3ZM443.0 77.5 442.7 57.9 443.0 42.5 443.5 43.4 443.9 55.9 443.9 74.9 443.5 77.3 443.0 77.5ZM592.0 80.5 591.5 79.9 590.9 76.4 590.0 59.0 589.5 58.1 588.5 61.8 588.0 61.3 587.4 57.9 587.3 50.9 588.0 43.1 589.5 50.4 591.5 48.7 592.5 46.5 592.7 47.9 592.7 75.4 592.0 80.5ZM614.5 65.8 613.9 64.4 613.7 55.9 614.5 45.1 615.0 43.2 615.5 45.2 615.6 51.4 614.5 65.8ZM635.5 71.9 634.8 69.4 634.6 61.9 634.9 51.4 635.5 46.9 636.2 51.4 636.5 60.9 636.2 69.4 635.5 71.9ZM423.5 63.9 423.0 62.6 422.8 57.9 423.0 54.0 423.5 53.7 423.9 59.4 423.5 63.9ZM547.5 91.0 546.5 90.2 544.5 85.7 544.0 85.2 543.0 86.1 542.5 85.7 541.7 80.4 541.8 73.4 542.5 66.2 543.5 70.2 544.0 70.7 545.5 53.5 546.0 54.9 547.3 66.4 548.0 75.4 548.2 86.4 547.5 91.0ZM457.0 75.4 456.7 66.9 457.5 55.4 457.5 68.4 457.0 75.4ZM646.5 72.0 646.0 70.4 645.8 63.9 646.0 56.8 646.5 55.0 647.4 65.4 647.2 69.4 646.5 72.0ZM461.5 65.0 461.5 57.4 461.5 65.0ZM621.5 59.4 621.5 58.1 621.5 59.4ZM408.5 69.8 408.5 60.2 408.5 69.8ZM534.5 91.2 533.5 90.5 532.4 88.4 531.6 82.9 533.0 66.6 534.0 61.7 536.3 72.4 536.9 79.4 536.4 86.9 535.5 90.0 534.5 91.2ZM439.5 77.1 438.9 76.4 438.6 69.9 439.0 62.9 439.5 62.0 439.9 70.4 439.5 77.1ZM582.0 96.5 581.0 96.0 580.5 93.9 581.5 66.9 582.0 65.0 582.8 68.4 583.2 74.4 583.1 92.9 582.8 94.9 582.0 96.5ZM513.5 90.4 511.8 87.4 510.8 82.9 511.4 77.9 513.0 75.5 514.0 78.6 514.6 84.4 514.4 88.4 513.5 90.4ZM471.0 107.0 470.0 106.5 469.1 104.9 468.6 100.9 468.7 84.9 469.5 80.8 470.5 79.4 472.0 82.9 472.7 89.4 472.8 102.9 472.0 105.9 471.0 107.0ZM475.5 87.1 475.5 84.8 475.5 87.1ZM525.5 96.9 523.5 96.1 521.5 96.4 520.6 93.4 521.5 89.0 522.0 88.7 523.5 89.6 525.5 86.6 526.5 87.3 526.9 88.4 527.4 92.4 527.0 95.6 526.5 96.5 525.5 96.9ZM495.0 99.6 494.5 99.7 494.2 98.9 494.0 95.4 494.5 90.7 495.5 87.5 496.5 94.4 496.0 97.4 495.0 99.6ZM613.0 96.4 612.0 95.4 611.6 93.4 612.1 90.9 613.0 89.3 613.5 90.4 613.9 94.4 613.0 96.4ZM404.5 131.7 404.0 131.9 403.0 131.2 400.0 126.9 398.8 123.9 398.0 119.7 398.0 101.4 398.9 95.4 399.5 94.0 400.0 93.9 402.0 101.6 402.5 102.5 403.0 102.4 404.0 100.7 404.5 100.8 405.0 103.3 405.5 127.4 405.2 130.4 404.5 131.7ZM674.5 244.9 590.5 244.9 590.5 244.4 586.0 240.4 583.5 239.1 581.5 238.7 579.5 239.2 577.5 240.6 576.0 242.6 575.2 244.9 539.1 244.9 539.1 244.4 541.0 243.6 541.3 242.9 541.0 235.2 539.0 232.4 536.5 230.2 533.5 228.8 530.5 228.3 527.0 228.8 523.6 230.4 520.8 232.9 519.3 235.4 518.6 238.9 519.2 241.9 520.7 243.4 524.0 244.4 524.0 244.9 498.4 244.9 500.9 241.4 500.7 238.4 499.7 237.4 496.5 236.1 494.5 234.5 489.6 226.4 487.0 223.8 484.0 222.5 480.0 222.5 476.0 223.9 470.0 227.1 467.5 227.7 464.0 227.4 457.5 225.8 455.0 224.6 453.9 223.4 453.2 216.4 452.0 213.4 449.6 210.9 446.0 209.1 440.0 207.9 431.0 208.3 412.0 206.3 403.0 206.4 392.0 203.0 387.5 202.2 376.5 202.6 376.5 176.2 381.5 176.3 386.0 173.4 402.0 165.6 405.0 164.7 407.5 164.9 414.5 167.7 428.5 171.2 432.5 171.0 436.0 169.1 440.0 164.4 446.2 159.9 448.0 157.4 449.0 154.9 448.9 151.4 447.5 148.6 445.0 146.8 437.8 143.4 437.0 141.9 440.5 134.4 442.8 125.4 449.0 113.7 450.5 112.4 454.5 114.4 455.2 115.9 454.5 131.4 455.3 138.4 456.5 142.4 458.0 144.5 460.0 146.1 462.5 147.0 467.0 147.3 468.3 148.4 469.0 149.9 468.9 152.4 466.1 157.4 465.1 160.4 465.1 163.4 466.3 165.9 474.1 171.9 476.0 174.4 479.1 180.4 480.5 181.8 482.5 182.8 485.5 183.1 488.5 182.3 490.3 180.9 492.8 177.4 494.0 176.6 500.0 176.0 502.5 175.2 505.7 171.9 507.8 166.4 507.8 161.9 506.0 158.6 504.0 156.9 501.5 155.9 499.5 156.0 497.5 157.0 494.8 159.9 492.0 168.2 491.5 168.9 490.5 169.1 488.5 167.0 486.7 163.4 484.4 156.9 484.2 153.9 486.5 147.0 489.0 136.5 490.0 133.9 491.5 132.0 492.5 132.2 493.5 133.8 496.2 144.4 498.2 147.9 500.0 149.1 501.5 149.2 503.5 147.9 505.0 145.9 506.0 142.9 506.5 138.4 507.4 119.4 506.9 108.9 507.1 104.4 508.5 101.8 513.5 99.3 515.0 101.3 515.9 105.4 516.7 114.4 516.6 124.4 520.5 134.4 518.2 143.4 518.3 145.9 519.3 147.9 521.0 149.3 523.5 149.4 526.1 147.9 528.5 144.9 529.2 141.9 529.3 135.4 530.5 133.4 534.9 128.4 536.6 122.9 537.1 117.4 535.8 106.9 536.2 102.9 537.0 101.7 540.5 101.5 542.5 99.5 543.5 99.1 546.3 100.9 547.2 102.9 547.3 107.4 546.2 118.9 546.2 122.9 547.1 127.4 549.9 134.4 549.6 136.4 547.2 142.9 547.0 145.9 547.6 149.4 550.5 155.7 553.5 159.7 557.0 161.2 561.5 160.6 563.3 159.4 564.5 157.9 565.4 154.4 564.3 151.4 560.3 146.4 559.9 143.9 561.0 141.9 565.7 136.9 566.6 134.9 567.0 132.4 566.4 127.9 562.3 118.4 561.9 114.9 562.8 112.9 565.7 110.4 567.6 104.4 569.0 101.5 570.0 101.0 572.0 101.7 572.5 101.3 574.5 94.6 575.7 98.9 577.4 110.9 578.5 113.5 580.9 116.4 581.1 117.4 581.0 121.6 578.0 126.5 576.8 130.4 576.9 133.9 578.3 136.9 580.5 138.9 585.0 141.4 587.0 142.0 588.5 141.7 589.3 140.9 589.8 139.4 590.3 129.9 591.0 128.5 592.0 128.2 597.5 129.4 602.8 131.9 604.5 133.9 608.0 141.2 609.5 142.8 611.0 143.5 619.0 144.4 625.5 141.6 629.5 141.6 632.0 142.4 633.4 144.4 633.5 146.9 632.5 149.5 629.5 153.4 629.2 154.9 632.4 164.4 632.6 177.9 633.4 180.4 634.5 181.5 636.5 182.1 639.0 181.9 641.0 181.1 643.0 179.6 645.8 174.9 647.6 163.4 650.3 154.4 650.9 149.4 650.4 145.9 649.3 142.9 641.0 131.9 638.9 127.4 638.6 124.9 640.5 122.6 646.0 119.9 652.5 114.9 656.0 110.4 658.0 104.1 660.1 106.9 661.2 109.4 661.6 116.9 661.1 119.9 657.5 128.1 656.3 131.9 655.4 137.9 655.4 142.9 655.8 144.9 657.0 146.9 664.0 152.9 664.5 153.9 658.8 158.9 657.7 161.4 657.6 163.9 658.4 166.4 660.2 169.4 662.5 172.2 664.8 173.9 669.1 173.9 671.5 170.9 674.5 171.0 674.5 210.4 667.0 211.0 657.0 210.2 652.0 210.7 650.0 211.4 648.0 212.9 646.8 214.9 646.7 216.9 647.3 218.9 648.5 220.7 650.5 222.2 652.5 222.9 657.0 223.4 667.0 222.8 674.5 223.7 674.5 244.9ZM657.0 97.3 657.0 94.9 657.0 97.3ZM674.0 156.9 671.5 157.2 667.4 154.4 666.8 153.4 671.5 149.6 674.5 150.0 674.5 156.9 674.0 156.9ZM612.0 171.9 615.0 171.0 616.8 169.4 618.0 166.9 618.4 163.4 617.9 160.4 616.6 158.4 614.5 157.2 611.5 156.8 608.5 157.5 606.5 159.2 605.2 161.9 604.7 165.4 605.3 168.4 606.6 170.4 609.0 171.7 612.0 171.9ZM584.9 179.9 587.5 179.1 589.4 177.9 595.4 171.9 597.1 168.9 597.6 165.4 596.9 161.9 595.0 159.2 592.5 157.8 588.5 157.3 585.5 158.3 581.8 164.4 578.0 168.5 576.3 171.4 575.9 175.4 577.5 178.4 580.5 179.8 584.9 179.9ZM534.7 171.9 537.0 170.8 538.6 168.4 538.9 164.9 538.0 161.9 536.5 159.9 533.5 158.3 530.0 157.9 527.5 158.6 525.8 160.4 524.9 162.9 524.9 165.9 525.9 168.9 527.5 170.8 529.5 171.8 532.0 172.2 534.7 171.9ZM452.0 180.9 455.0 179.9 457.2 177.9 458.4 174.9 458.4 171.9 457.5 169.4 456.0 167.9 453.0 166.8 450.0 166.7 447.0 167.6 444.5 169.4 442.9 171.9 442.5 174.9 443.4 177.4 445.5 179.6 448.5 180.8 452.0 180.9ZM512.9 213.4 515.0 212.5 517.0 210.9 519.0 206.9 519.3 204.4 519.1 201.4 516.3 193.9 516.8 192.4 519.8 187.9 520.3 185.4 519.8 183.4 517.9 181.4 515.0 180.2 512.0 179.9 508.5 180.8 507.3 181.9 506.5 183.4 506.3 186.4 507.7 192.9 504.6 199.4 503.9 204.9 504.6 208.9 506.5 211.9 509.5 213.4 512.9 213.4ZM552.1 186.9 553.3 185.4 553.1 183.4 551.5 182.1 550.0 182.2 548.9 183.4 548.9 185.4 550.5 187.0 552.1 186.9ZM605.7 201.4 608.3 199.9 609.5 197.4 609.6 193.4 608.3 189.4 606.0 187.1 603.0 185.7 599.5 185.3 596.5 186.1 594.8 187.9 593.8 191.4 594.0 194.9 595.2 197.9 597.0 200.0 599.5 201.3 602.5 201.8 605.7 201.4ZM625.9 220.9 628.7 218.9 630.3 214.9 630.5 210.9 629.8 203.9 630.2 191.4 629.7 188.4 628.5 186.3 626.0 185.1 622.5 185.0 620.0 185.5 618.0 186.7 616.5 188.4 615.3 190.9 614.1 199.9 614.2 209.9 615.2 215.4 617.5 219.1 619.5 220.5 621.5 221.2 625.9 220.9ZM485.1 215.9 488.0 214.5 489.8 211.9 490.6 207.9 490.2 203.4 489.0 200.7 487.0 198.8 484.0 197.7 480.5 197.8 477.5 199.4 475.9 201.9 475.2 205.4 475.5 209.9 476.8 212.9 479.0 214.9 482.0 216.0 485.1 215.9ZM583.6 222.9 586.5 221.2 588.1 217.9 587.8 213.4 585.5 209.8 583.5 208.5 581.5 207.8 575.0 207.7 573.0 207.1 571.5 205.9 567.6 200.4 564.5 198.4 561.0 197.9 557.9 199.4 556.4 201.9 555.9 205.4 556.5 208.9 558.1 211.4 560.0 212.8 566.5 215.4 571.8 219.9 575.0 221.7 579.5 223.1 583.6 222.9Z" fill="#f0f0c8" fill-rule="evenodd"/>
<path d="M466.5 48.3 466.0 45.9 465.7 38.9 465.9 19.4 466.8 19.4 467.0 37.4 466.5 48.3ZM482.5 74.4 481.7 67.4 481.0 39.4 481.4 19.4 483.3 61.4 483.2 69.4 482.5 74.4ZM491.0 61.5 490.5 61.3 490.2 52.9 490.5 25.2 491.0 19.4 491.7 31.9 491.8 48.9 491.0 61.5ZM546.0 28.5 546.0 19.4 546.0 28.5ZM573.0 71.4 572.5 62.9 572.4 47.4 571.5 34.9 572.0 19.4 572.6 19.4 572.9 43.9 573.6 57.4 573.5 68.9 573.0 71.4ZM609.0 71.5 608.4 69.9 608.2 61.9 608.5 57.4 609.0 55.4 609.5 55.8 610.0 53.9 610.1 19.4 610.6 19.4 610.7 34.4 612.0 43.2 612.2 53.4 611.5 59.9 610.1 62.4 609.0 71.5ZM552.5 47.2 552.0 47.0 551.7 40.9 552.0 23.8 552.7 34.9 552.5 47.2ZM419.0 58.5 418.5 46.4 419.5 28.3 420.2 35.9 420.4 47.9 420.0 54.9 419.5 57.9 419.0 58.5ZM670.5 84.8 670.1 81.4 670.0 47.9 670.3 40.9 671.5 34.6 672.0 57.4 670.5 84.8ZM519.0 59.7 518.7 49.4 519.0 41.7 519.5 39.4 519.6 53.9 519.0 59.7ZM664.0 52.8 663.5 52.7 663.3 48.4 664.0 40.6 664.4 45.4 664.0 52.8ZM666.5 63.0 666.2 48.4 666.5 42.6 667.0 40.9 667.5 44.7 667.6 52.9 667.0 62.6 666.5 63.0ZM599.0 74.5 598.5 73.7 597.4 60.4 596.5 55.4 596.5 46.5 597.0 46.8 597.5 48.8 598.5 49.6 600.0 53.9 600.0 66.3 599.0 74.5ZM622.5 114.4 621.5 113.1 619.5 108.1 618.5 102.1 618.7 75.4 618.0 46.5 619.0 50.4 619.7 57.4 620.0 96.4 620.6 101.4 623.1 108.9 623.2 112.4 622.5 114.4ZM584.5 56.1 584.5 47.5 584.5 56.1ZM496.5 73.4 496.0 71.4 495.9 65.4 496.5 49.1 497.2 65.4 497.1 70.9 496.5 73.4ZM485.5 65.8 484.8 59.9 485.0 50.9 485.8 58.9 485.5 65.8ZM592.0 64.9 591.5 64.5 591.3 58.9 592.0 53.5 592.3 56.9 592.0 64.9ZM635.5 66.0 635.2 60.4 635.5 53.5 636.0 60.4 635.5 66.0ZM446.0 76.9 445.5 75.6 445.3 71.9 445.5 57.5 446.0 58.5 446.7 65.9 446.6 73.9 446.0 76.9ZM546.5 84.4 545.5 82.9 544.9 77.4 545.4 65.4 546.0 63.5 547.3 76.9 547.2 82.4 546.5 84.4ZM534.5 86.7 534.0 86.6 533.4 85.4 532.8 80.4 533.3 70.4 534.0 66.6 535.0 71.9 535.7 79.9 535.4 84.4 534.5 86.7ZM471.0 100.0 471.0 98.8 471.0 100.0ZM670.5 112.6 669.5 112.4 667.7 104.4 667.7 101.4 667.8 100.9 669.0 100.5 670.0 100.6 670.5 101.2 672.3 106.9 671.8 110.4 670.5 112.6ZM400.0 106.6 399.5 106.1 399.3 104.4 399.5 102.0 400.0 101.6 400.3 104.4 400.0 106.6ZM674.5 244.9 593.0 244.9 593.0 244.4 586.0 238.0 583.5 236.5 581.5 236.2 579.0 236.9 576.5 238.8 574.9 241.4 574.0 244.9 543.7 244.9 544.7 242.4 544.8 239.4 543.9 236.4 542.0 233.4 539.5 230.7 536.5 228.5 533.0 227.1 530.0 226.8 526.5 227.2 523.1 228.4 519.3 230.4 517.0 232.4 515.7 234.9 515.1 238.9 515.5 242.4 516.8 244.9 506.7 244.9 507.3 238.4 506.5 232.6 504.9 230.4 498.0 227.9 495.7 225.4 494.8 222.4 494.6 216.4 491.7 201.9 490.4 198.9 488.0 196.9 485.0 196.1 481.5 196.0 478.5 196.7 476.5 197.9 475.1 199.9 474.1 202.9 473.4 214.4 472.7 216.9 471.0 218.5 468.5 219.6 463.5 220.2 461.5 219.7 460.0 218.7 456.9 213.9 454.3 211.4 449.9 208.9 445.5 207.5 432.0 205.4 420.5 205.3 411.5 202.7 402.0 202.6 390.5 199.9 376.5 199.7 376.5 179.3 381.5 179.4 383.0 178.9 389.7 174.4 394.0 172.0 401.0 169.2 405.0 168.5 420.5 171.0 429.5 173.2 432.5 173.2 438.5 172.2 439.2 172.9 441.0 176.9 442.6 179.4 444.5 180.9 447.0 181.9 452.5 182.1 455.0 181.4 457.0 180.2 458.5 178.4 459.6 175.4 459.9 171.4 459.4 168.4 458.0 166.7 455.0 165.5 451.5 165.0 444.8 164.9 448.0 160.7 449.8 157.4 450.9 153.9 451.1 150.4 449.9 147.4 443.4 143.4 442.4 142.4 441.9 140.9 446.0 124.9 449.5 116.6 451.0 115.7 452.2 116.9 452.9 119.4 452.6 134.4 453.4 143.9 454.9 146.9 461.4 151.4 463.1 153.4 463.4 155.4 462.5 162.4 463.1 165.4 465.1 167.4 473.2 172.9 474.9 175.4 477.6 182.4 479.0 184.0 481.0 185.1 486.5 186.3 491.0 186.3 492.6 185.4 495.7 181.9 497.5 180.5 501.0 179.6 503.0 180.0 503.5 181.4 504.0 191.4 502.4 201.4 502.4 206.9 502.9 210.9 504.5 213.9 507.0 215.7 510.0 216.6 513.0 216.1 517.5 213.2 519.9 209.4 520.9 203.9 520.2 194.4 523.4 188.9 524.1 185.9 523.0 182.4 520.0 179.7 515.6 178.4 507.5 177.5 506.3 176.4 506.5 174.4 509.0 166.9 509.2 162.4 508.3 158.9 504.3 153.9 503.9 152.4 506.8 146.4 507.8 141.9 509.7 119.4 508.3 109.4 508.8 104.4 510.0 103.2 513.0 102.1 514.0 102.8 514.7 104.4 515.1 111.4 513.8 118.9 513.8 122.4 514.6 125.9 517.2 131.9 517.9 134.4 516.2 142.9 516.2 146.4 516.9 148.9 518.0 150.4 520.0 151.7 522.5 152.2 525.5 151.2 529.0 147.4 531.1 143.4 532.6 135.9 536.7 131.9 538.1 129.4 539.5 117.4 537.6 108.4 537.9 104.9 540.5 103.6 542.5 101.9 543.5 101.9 544.5 102.8 545.4 104.4 545.7 106.9 543.9 119.9 544.4 127.4 545.6 134.4 544.9 143.4 545.6 150.4 547.3 155.4 550.7 161.4 553.0 163.3 556.5 163.9 560.5 163.3 563.5 162.0 565.7 159.9 567.0 157.3 567.4 154.9 567.1 152.4 566.0 150.1 563.4 146.4 562.9 144.4 563.8 142.4 567.4 137.9 568.9 133.9 568.9 129.4 567.0 118.4 568.5 106.2 569.0 104.8 570.0 104.2 572.5 106.6 574.0 104.3 574.5 104.5 575.0 107.1 576.0 117.4 575.8 121.4 574.4 128.9 574.3 132.9 575.2 136.4 577.2 139.4 586.0 146.6 588.0 147.0 592.0 146.3 593.6 145.4 594.5 143.4 593.2 135.9 593.6 133.4 594.5 132.4 596.0 131.8 600.0 132.6 603.0 135.1 606.1 141.9 607.9 144.4 610.0 145.8 615.9 147.4 622.0 151.2 628.0 159.3 629.9 162.9 630.6 167.4 630.1 172.9 628.9 177.4 626.9 179.9 618.0 183.0 612.0 187.5 611.0 187.3 604.0 183.6 598.5 182.5 596.0 182.7 594.5 183.4 593.5 184.6 592.7 186.9 592.3 193.9 592.9 196.9 594.2 199.4 596.0 201.2 598.5 202.6 601.5 203.3 607.5 203.9 609.4 204.9 611.0 207.8 614.2 217.9 615.5 220.0 617.5 221.8 621.5 223.4 626.0 223.7 629.5 222.8 631.5 220.8 632.5 217.9 633.1 212.9 633.4 205.9 633.0 194.9 633.8 189.4 635.4 186.9 642.0 182.7 645.1 179.4 647.2 174.9 649.5 165.8 651.5 162.4 653.0 162.1 654.0 163.0 658.1 169.4 662.0 174.1 670.0 174.3 671.0 174.2 671.5 173.4 674.5 173.5 674.5 208.8 666.5 209.2 655.5 208.7 650.5 209.4 647.5 210.6 645.5 212.2 644.2 214.4 643.9 216.9 644.4 219.9 645.7 222.4 648.0 224.5 650.5 225.8 654.5 226.7 665.5 227.2 674.5 228.7 674.5 244.9ZM652.0 138.0 651.0 138.3 650.0 137.9 645.5 133.7 643.1 129.9 642.4 126.9 643.0 125.4 644.5 124.1 649.5 121.2 653.5 120.0 654.5 120.4 655.0 121.1 655.3 123.9 653.5 134.0 652.0 138.0ZM490.5 161.8 489.5 161.6 488.5 159.8 487.7 154.4 489.5 143.5 490.5 140.8 491.5 140.0 492.9 141.9 496.6 152.4 496.1 153.9 490.5 161.8ZM587.6 180.9 590.0 180.3 591.4 179.4 597.7 172.9 599.1 169.4 599.3 164.9 597.9 160.4 595.5 157.5 592.5 156.1 584.5 154.3 582.9 155.4 581.7 160.9 580.7 163.4 575.7 169.9 574.8 172.9 574.8 175.4 575.8 178.4 578.0 180.2 582.0 181.1 587.6 180.9ZM612.7 173.4 616.5 172.1 618.4 169.9 619.6 165.4 619.5 159.4 618.7 156.9 617.5 155.9 614.0 155.2 610.0 155.2 607.0 156.4 604.8 158.9 603.3 163.4 603.2 168.4 603.9 170.9 605.5 172.6 608.5 173.5 612.7 173.4ZM536.5 173.4 539.0 172.3 540.3 169.9 540.4 164.9 539.3 160.9 537.0 158.5 534.0 157.2 529.5 156.5 526.5 157.0 524.8 158.9 523.7 162.9 523.9 166.9 525.1 170.4 526.5 172.1 529.0 173.2 532.5 173.7 536.5 173.4ZM552.6 189.9 554.2 188.9 555.4 186.9 555.9 184.4 555.5 182.4 554.5 180.9 552.5 179.5 550.0 179.0 547.6 179.4 546.4 180.4 545.8 181.9 545.9 184.4 546.5 186.4 549.0 189.3 551.0 190.0 552.6 189.9ZM584.4 225.9 587.0 225.1 588.8 223.9 590.0 222.2 590.6 219.9 590.7 216.9 590.0 213.4 588.7 210.4 587.1 208.4 585.0 206.8 582.5 205.9 576.0 205.6 574.0 205.1 572.3 203.9 568.0 199.0 564.5 197.1 560.5 196.6 557.4 197.9 555.5 200.9 554.8 205.4 555.3 209.9 557.0 212.8 564.5 216.9 570.0 221.4 573.5 223.5 579.5 225.7 584.4 225.9Z" fill="#f2977e" fill-rule="evenodd"/>
<path d="M466.5 37.2 466.2 32.4 466.5 24.8 466.5 37.2ZM419.5 50.6 419.1 45.9 419.5 37.2 419.5 50.6ZM671.0 63.9 670.4 53.4 671.0 41.5 671.5 42.4 671.7 51.9 671.0 63.9ZM482.5 65.0 482.0 62.3 482.0 50.5 482.5 56.4 482.5 65.0ZM599.0 64.4 598.5 63.1 598.5 58.5 599.0 59.2 599.0 64.4ZM513.0 108.4 511.9 106.9 511.5 105.4 512.5 105.2 513.0 105.7 513.0 108.4ZM543.0 110.1 542.1 105.9 542.5 105.0 543.0 104.9 543.7 107.4 543.0 110.1ZM635.5 244.9 607.6 244.9 606.5 242.6 604.0 241.2 602.0 241.1 596.5 242.5 593.0 241.4 589.4 237.4 587.3 232.9 588.4 230.9 593.8 226.9 595.0 224.9 595.6 222.9 594.9 217.9 590.3 207.9 588.0 205.3 583.0 202.0 581.5 201.7 577.5 202.8 575.0 202.6 573.0 201.5 568.0 197.2 562.5 195.2 557.5 195.3 556.4 195.9 555.3 197.4 553.7 204.4 554.0 212.4 554.7 214.4 556.0 215.9 562.3 218.9 568.0 223.7 575.7 228.4 577.6 230.4 577.5 232.4 574.6 236.4 573.4 238.9 572.6 244.9 547.8 244.9 548.1 239.9 546.8 235.4 544.5 232.4 539.5 228.4 536.0 226.5 532.0 225.2 528.0 225.1 521.0 225.9 518.2 224.9 516.7 222.4 516.7 219.9 521.8 210.9 522.9 206.9 524.1 198.4 528.2 190.9 528.9 186.4 527.6 182.4 525.5 179.0 524.0 177.5 512.0 176.0 510.0 175.1 509.3 173.9 510.7 161.4 510.1 157.9 508.2 153.9 507.9 151.9 509.4 144.4 510.2 132.9 511.5 129.5 512.5 129.6 513.5 130.7 515.0 134.4 513.7 144.9 514.2 149.9 516.0 153.0 521.2 155.4 522.3 156.4 522.7 167.4 523.4 170.9 524.5 173.6 526.5 175.2 536.0 176.1 540.0 177.4 542.0 179.8 543.9 185.9 545.5 189.1 548.0 191.3 551.5 192.5 554.5 192.2 555.5 191.4 556.7 189.4 557.9 184.4 557.0 180.4 554.5 177.7 547.0 175.1 545.0 173.5 543.6 169.9 542.2 161.4 540.4 158.4 537.5 156.7 529.5 154.4 528.5 153.4 528.6 151.9 535.5 139.8 537.5 138.6 539.5 138.8 541.0 139.9 542.1 141.9 544.1 156.9 548.0 163.9 550.0 165.9 552.5 166.9 556.0 167.1 560.0 166.3 565.5 163.3 568.4 159.4 569.5 155.9 569.6 152.9 566.7 144.4 567.6 142.4 570.5 138.4 571.5 137.8 572.5 138.4 578.2 144.9 579.0 146.9 577.6 153.4 579.2 158.4 579.5 160.9 578.7 163.4 575.3 167.9 574.1 170.9 573.6 175.4 574.6 179.4 576.0 180.8 577.5 181.5 586.5 182.7 589.0 183.9 590.1 186.9 590.2 195.4 592.1 200.4 593.5 202.1 595.5 203.5 604.0 206.2 606.7 207.9 609.0 211.5 612.8 220.9 615.0 223.7 619.5 226.3 632.0 230.1 635.0 232.1 636.6 234.9 637.2 238.9 636.8 242.4 635.5 244.9ZM601.5 159.4 600.5 159.4 597.5 156.0 592.7 152.9 592.1 151.9 596.0 149.1 597.9 146.4 598.2 143.4 596.9 137.4 597.3 135.9 598.0 135.3 599.5 135.5 601.0 136.7 605.5 146.2 608.0 148.9 611.0 150.6 611.0 151.5 607.5 152.8 605.0 154.5 601.5 159.4ZM612.5 181.0 611.5 181.3 611.4 180.9 611.5 176.1 618.5 175.6 620.2 171.9 621.9 160.9 623.0 159.7 625.0 160.2 627.1 162.4 628.3 165.4 628.2 169.4 627.0 172.6 625.5 174.3 624.0 175.3 618.5 176.5 615.4 179.4 612.5 181.0ZM639.5 213.1 638.5 212.8 638.0 210.4 637.4 197.4 637.9 192.9 639.8 188.9 646.8 179.4 650.4 169.9 651.5 168.2 653.0 167.7 654.5 168.4 663.0 178.1 666.0 180.2 667.5 180.4 669.0 179.8 671.5 176.3 674.5 176.4 674.5 207.1 655.5 207.2 650.0 207.7 644.3 209.4 639.5 213.1ZM469.0 211.4 467.5 211.7 465.5 211.1 461.0 206.8 459.5 206.1 454.0 206.8 451.0 206.7 440.4 204.9 431.5 202.1 424.0 203.2 421.0 203.1 412.5 200.1 404.5 198.4 397.5 196.2 387.0 196.6 381.5 196.0 376.5 196.1 376.5 182.6 381.5 182.8 384.5 183.9 387.3 183.9 389.0 182.4 391.7 177.4 393.8 175.4 399.2 172.9 404.5 171.9 412.0 172.8 420.5 173.1 430.0 175.5 435.0 176.1 437.0 177.0 441.1 181.4 443.5 183.0 447.5 183.7 452.5 183.5 456.0 182.7 458.5 181.2 460.2 178.4 461.6 172.4 462.5 170.4 464.0 169.7 466.0 170.1 470.5 172.4 472.9 174.9 474.1 178.4 474.7 184.9 475.5 186.4 477.5 187.6 481.0 188.5 481.5 189.4 481.5 193.4 476.5 194.7 474.0 196.9 473.0 199.9 471.5 208.4 470.5 210.3 469.0 211.4ZM482.5 193.4 481.7 193.4 482.2 189.9 482.3 189.4 483.5 189.4 485.3 190.4 486.2 191.9 485.1 192.9 482.5 193.4ZM622.6 242.4 623.3 240.4 622.0 238.3 619.5 237.8 617.6 238.9 617.2 240.4 618.1 241.9 620.5 242.8 622.6 242.4Z" fill="#f07a66" fill-rule="evenodd"/>
<path d="M573.5 196.9 572.0 196.8 567.0 194.6 561.5 193.0 559.8 191.9 559.3 189.9 560.1 184.4 559.9 180.9 558.8 177.4 556.4 173.4 556.8 172.4 561.5 169.7 567.7 164.9 569.8 162.4 572.5 157.9 573.5 157.4 575.5 158.9 576.3 161.4 575.9 163.4 573.3 167.9 572.6 170.9 572.1 177.4 572.8 181.4 573.6 182.4 575.0 183.0 582.5 183.7 585.1 184.4 586.8 185.9 587.4 187.9 587.0 190.1 586.0 191.5 584.5 192.1 578.0 193.2 573.5 196.9ZM655.5 205.4 645.9 205.4 643.9 204.4 643.1 202.4 643.4 199.4 645.5 194.4 645.0 189.4 645.4 186.4 651.0 173.8 652.0 172.3 653.0 171.7 655.0 172.3 657.0 174.1 663.6 183.9 670.0 184.0 671.5 180.6 674.5 180.9 674.5 205.2 655.5 205.4ZM469.0 203.9 466.3 203.9 463.1 198.4 451.4 190.4 451.5 186.1 458.5 184.4 460.9 182.9 461.8 180.9 462.9 174.9 463.5 174.3 469.5 174.2 470.2 174.4 471.2 175.9 471.0 181.7 466.2 185.9 465.2 188.4 466.0 193.9 469.5 199.8 469.7 202.4 469.0 203.9ZM424.0 199.4 420.0 199.3 409.4 195.9 405.7 193.9 399.2 188.4 397.7 186.4 396.7 182.4 396.9 180.4 397.7 178.9 399.5 177.4 402.5 176.3 405.5 176.3 412.0 177.7 418.0 176.3 421.0 176.1 424.3 176.9 434.5 181.3 436.8 183.9 437.6 186.4 435.7 195.9 434.4 196.9 424.0 199.4ZM546.0 227.1 544.5 227.4 542.5 227.0 533.5 223.3 526.0 221.7 524.5 220.9 523.9 219.9 524.4 216.9 527.5 211.7 529.5 210.5 535.5 209.3 537.0 208.3 538.0 206.7 538.3 204.4 537.9 201.9 535.0 195.4 534.4 192.9 534.4 187.4 535.0 184.3 539.7 184.4 544.0 191.4 546.5 193.3 551.5 195.4 552.8 197.4 552.8 201.4 551.8 209.4 550.9 211.9 547.6 216.4 547.7 224.4 547.3 225.9 546.0 227.1ZM441.0 201.9 439.5 199.9 440.0 199.1 441.0 198.8 441.0 201.9Z" fill="#ec2a40" fill-rule="evenodd"/>
<path d="M653.5 187.9 652.0 187.9 650.5 187.1 649.7 185.9 649.5 184.4 651.5 178.3 652.5 176.9 654.0 176.2 655.5 177.0 656.9 178.9 658.1 183.4 657.9 184.9 656.9 186.4 655.5 187.4 653.5 187.9Z" fill="#f00a0a" fill-rule="evenodd"/>
<path d="M466.5 38.6 466.0 32.9 466.5 21.5 466.5 38.6M491.0 53.2 491.0 33.1 491.0 53.2M419.5 51.6 419.0 46.4 419.5 36.1 419.9 44.4 419.5 51.6M671.0 64.5 670.5 61.5 670.4 53.4 671.0 40.8 671.5 41.4 671.7 51.9 671.0 64.5M611.5 52.8 611.2 50.4 611.5 47.9 611.5 52.8M482.5 65.7 481.9 60.9 482.0 48.3 482.7 58.4 482.5 65.7M599.0 65.5 598.5 63.9 598.5 56.7 599.2 59.4 599.0 65.5M539.0 155.0 535.2 154.4 532.9 147.9 535.5 143.8 538.0 142.2 539.5 142.6 540.5 143.8 541.4 148.4 541.0 153.2 540.3 154.4 539.0 155.0M573.0 149.0 572.0 148.5 571.0 146.2 570.9 144.9 571.5 144.1 572.5 144.5 573.3 145.9 573.5 147.4 573.0 149.0M574.5 196.9 573.5 197.3 572.0 197.0 567.0 194.7 561.0 193.0 559.5 191.9 559.2 189.9 560.0 183.4 559.5 179.9 558.0 176.6 554.6 173.4 554.2 172.4 561.0 169.3 567.4 164.4 569.7 161.4 573.0 154.2 574.0 154.7 576.0 157.5 577.2 160.9 576.8 162.9 574.0 167.4 572.8 170.9 572.2 176.9 572.8 180.9 573.5 182.0 575.0 182.8 582.5 183.6 585.4 184.4 587.0 185.9 587.5 187.9 587.1 190.4 586.0 191.8 578.2 193.4 576.7 194.4 574.5 196.9M520.5 171.0 519.0 171.2 518.0 170.4 514.0 162.1 513.5 161.7 512.5 162.4 512.5 159.6 513.5 156.9 515.0 156.4 518.0 156.9 519.5 157.6 520.5 158.8 521.1 161.4 521.5 169.4 520.5 171.0M674.5 205.3 646.5 205.7 644.5 205.2 643.5 204.4 642.7 201.9 643.2 198.9 645.0 194.4 644.7 189.4 645.2 186.4 651.0 173.2 652.5 171.4 654.5 171.5 656.5 173.2 664.0 183.9 670.0 183.9 671.5 180.3 674.5 180.6M469.5 203.9 465.9 203.9 462.9 198.9 451.4 190.9 451.5 185.8 458.0 184.4 460.5 183.0 461.6 180.9 462.9 174.4 463.5 174.2 470.0 174.2 471.2 175.4 471.1 181.9 466.4 186.4 465.6 188.9 466.3 193.4 469.7 199.4 470.0 201.9 469.5 203.9M422.5 199.9 420.0 199.5 407.7 195.4 399.2 188.9 397.4 186.9 396.5 183.9 396.4 180.9 397.6 178.4 400.0 176.6 403.0 175.8 405.7 175.9 412.0 177.1 418.0 175.9 421.0 175.7 423.8 176.4 432.7 179.9 435.1 181.4 437.2 183.9 438.0 186.4 436.1 196.9 422.5 199.9M546.0 227.5 543.0 227.4 533.5 223.5 525.5 221.9 524.0 221.0 523.4 219.9 524.0 216.8 527.5 210.9 529.0 210.1 535.3 208.9 536.8 207.9 537.7 206.4 538.0 204.4 537.6 201.9 534.1 193.4 534.5 184.3 540.0 184.3 542.7 189.4 544.5 191.7 546.5 193.1 551.5 195.3 552.8 196.9 552.9 200.4 551.9 209.4 551.0 212.1 548.0 216.4 547.7 218.4 548.0 224.9 547.5 226.4 546.0 227.5M441.0 202.2 439.0 200.4 438.6 199.4 439.0 198.6 441.0 198.3 441.0 202.2" fill="none" stroke="#000" stroke-width="0.9"/>
<polygon points="375.5,19.4 377.9,20.9 377.9,22.9 377.9,24.9 378.0,26.9 378.0,28.9 378.1,30.9 378.1,32.9 378.2,34.9 378.2,36.9 378.2,38.9 378.3,40.9 378.3,42.9 378.4,44.9 378.4,46.9 378.5,48.9 378.5,50.9 378.6,52.9 378.7,54.9 378.7,56.9 378.8,58.9 378.8,60.9 378.9,62.9 379.0,64.9 379.0,66.9 379.1,68.9 379.2,70.9 379.2,72.9 379.3,74.9 379.4,76.9 379.5,78.9 379.5,80.9 379.6,82.9 379.7,84.9 379.8,86.9 379.9,88.9 380.0,90.9 380.1,92.9 380.2,94.9 380.3,96.9 380.4,98.9 380.5,100.9 380.6,102.9 380.7,104.9 380.8,106.9 380.9,108.9 381.0,110.9 381.2,112.9 381.3,114.9 381.4,116.9 381.5,118.9 381.7,120.9 381.8,122.9 382.0,124.9 382.1,126.9 382.2,128.9 382.4,130.9 382.6,132.9 382.7,134.9 382.9,136.9 383.1,138.9 383.2,140.9 383.4,142.9 383.6,144.9 383.8,146.9 384.0,148.9 384.2,150.9 384.4,152.9 384.6,154.9 384.8,156.9 385.1,158.9 385.3,160.9 385.5,162.9 385.8,164.9 386.0,166.9 386.3,168.9 386.5,170.9 386.8,172.9 387.1,174.9 387.4,176.9 387.7,178.9 388.0,180.9 388.3,182.9 388.6,184.9 388.9,186.9 389.2,188.9 389.6,190.9 389.9,192.9 390.3,194.9 390.7,196.9 391.1,198.9 391.4,200.9 391.8,202.9 392.3,204.9 392.7,206.9 393.1,208.9 393.6,210.9 394.0,212.9 394.5,214.9 395.0,216.9 395.5,218.9 396.0,220.9 396.5,222.9 397.0,224.9 397.6,226.9 398.2,228.9 398.8,230.9 399.3,232.9 400.0,234.9 400.6,236.9 401.2,238.9 401.9,240.9 402.6,242.9 403.3,244.9 375.5,246.2" fill="#fff"/>
<polygon points="675.9,19.4 673.5,20.9 673.5,22.9 673.5,24.9 673.4,26.9 673.4,28.9 673.3,30.9 673.3,32.9 673.2,34.9 673.2,36.9 673.2,38.9 673.1,40.9 673.1,42.9 673.0,44.9 673.0,46.9 672.9,48.9 672.9,50.9 672.8,52.9 672.7,54.9 672.7,56.9 672.6,58.9 672.6,60.9 672.5,62.9 672.4,64.9 672.4,66.9 672.3,68.9 672.2,70.9 672.2,72.9 672.1,74.9 672.0,76.9 671.9,78.9 671.9,80.9 671.8,82.9 671.7,84.9 671.6,86.9 671.5,88.9 671.4,90.9 671.3,92.9 671.2,94.9 671.1,96.9 671.0,98.9 670.9,100.9 670.8,102.9 670.7,104.9 670.6,106.9 670.5,108.9 670.4,110.9 670.2,112.9 670.1,114.9 670.0,116.9 669.9,118.9 669.7,120.9 669.6,122.9 669.4,124.9 669.3,126.9 669.2,128.9 669.0,130.9 668.8,132.9 668.7,134.9 668.5,136.9 668.3,138.9 668.2,140.9 668.0,142.9 667.8,144.9 667.6,146.9 667.4,148.9 667.2,150.9 667.0,152.9 666.8,154.9 666.6,156.9 666.3,158.9 666.1,160.9 665.9,162.9 665.6,164.9 665.4,166.9 665.1,168.9 664.9,170.9 664.6,172.9 664.3,174.9 664.0,176.9 663.7,178.9 663.4,180.9 663.1,182.9 662.8,184.9 662.5,186.9 662.2,188.9 661.8,190.9 661.5,192.9 661.1,194.9 660.7,196.9 660.3,198.9 660.0,200.9 659.6,202.9 659.1,204.9 658.7,206.9 658.3,208.9 657.8,210.9 657.4,212.9 656.9,214.9 656.4,216.9 655.9,218.9 655.4,220.9 654.9,222.9 654.4,224.9 653.8,226.9 653.2,228.9 652.6,230.9 652.1,232.9 651.4,234.9 650.8,236.9 650.2,238.9 649.5,240.9 648.8,242.9 648.1,244.9 675.9,246.2" fill="#fff"/>
</g>
<rect x="40.30" y="18.20" width="299.10" height="225.80" fill="none" stroke="#000" stroke-width="1.3"/>
<line x1="37.50" y1="18.20" x2="40.30" y2="18.20" stroke="#000" stroke-width="1"/>
<text x="24.81" y="21.65" font-size="9.8" fill="#000" textLength="10.25" lengthAdjust="spacingAndGlyphs">10</text>
<line x1="37.50" y1="70.45" x2="40.30" y2="70.45" stroke="#000" stroke-width="1"/>
<text x="25.06" y="73.90" font-size="9.8" fill="#000" textLength="9.99" lengthAdjust="spacingAndGlyphs">20</text>
<line x1="37.50" y1="101.01" x2="40.30" y2="101.01" stroke="#000" stroke-width="1"/>
<text x="25.17" y="104.46" font-size="9.8" fill="#000" textLength="9.87" lengthAdjust="spacingAndGlyphs">30</text>
<line x1="37.50" y1="122.69" x2="40.30" y2="122.69" stroke="#000" stroke-width="1"/>
<text x="25.31" y="126.14" font-size="9.8" fill="#000" textLength="9.73" lengthAdjust="spacingAndGlyphs">40</text>
<line x1="37.50" y1="139.51" x2="40.30" y2="139.51" stroke="#000" stroke-width="1"/>
<text x="25.15" y="142.96" font-size="9.8" fill="#000" textLength="9.89" lengthAdjust="spacingAndGlyphs">50</text>
<line x1="37.50" y1="153.25" x2="40.30" y2="153.25" stroke="#000" stroke-width="1"/>
<text x="25.05" y="156.70" font-size="9.8" fill="#000" textLength="10.00" lengthAdjust="spacingAndGlyphs">60</text>
<line x1="37.50" y1="164.87" x2="40.30" y2="164.87" stroke="#000" stroke-width="1"/>
<text x="25.05" y="168.32" font-size="9.8" fill="#000" textLength="10.00" lengthAdjust="spacingAndGlyphs">70</text>
<line x1="37.50" y1="174.94" x2="40.30" y2="174.94" stroke="#000" stroke-width="1"/>
<text x="25.12" y="178.39" font-size="9.8" fill="#000" textLength="9.93" lengthAdjust="spacingAndGlyphs">80</text>
<line x1="37.50" y1="183.81" x2="40.30" y2="183.81" stroke="#000" stroke-width="1"/>
<text x="25.09" y="187.26" font-size="9.8" fill="#000" textLength="9.96" lengthAdjust="spacingAndGlyphs">90</text>
<line x1="37.50" y1="191.75" x2="40.30" y2="191.75" stroke="#000" stroke-width="1"/>
<text x="20.21" y="195.20" font-size="9.8" fill="#000" textLength="14.83" lengthAdjust="spacingAndGlyphs">100</text>
<line x1="37.50" y1="222.32" x2="40.30" y2="222.32" stroke="#000" stroke-width="1"/>
<text x="20.21" y="225.77" font-size="9.8" fill="#000" textLength="14.83" lengthAdjust="spacingAndGlyphs">150</text>
<line x1="37.50" y1="244.00" x2="40.30" y2="244.00" stroke="#000" stroke-width="1"/>
<text x="20.45" y="247.45" font-size="9.8" fill="#000" textLength="14.59" lengthAdjust="spacingAndGlyphs">200</text>
<line x1="70.21" y1="244.00" x2="70.21" y2="246.70" stroke="#000" stroke-width="1"/>
<text x="65.04" y="255.80" font-size="10.2" fill="#000" textLength="15.20" lengthAdjust="spacingAndGlyphs">300</text>
<line x1="100.12" y1="244.00" x2="100.12" y2="246.70" stroke="#000" stroke-width="1"/>
<text x="94.83" y="255.80" font-size="10.2" fill="#000" textLength="15.33" lengthAdjust="spacingAndGlyphs">600</text>
<line x1="130.03" y1="244.00" x2="130.03" y2="246.70" stroke="#000" stroke-width="1"/>
<text x="124.78" y="255.80" font-size="10.2" fill="#000" textLength="15.29" lengthAdjust="spacingAndGlyphs">900</text>
<line x1="159.94" y1="244.00" x2="159.94" y2="246.70" stroke="#000" stroke-width="1"/>
<text x="149.57" y="255.80" font-size="10.2" fill="#000" textLength="20.41" lengthAdjust="spacingAndGlyphs">1200</text>
<line x1="189.85" y1="244.00" x2="189.85" y2="246.70" stroke="#000" stroke-width="1"/>
<text x="179.48" y="255.80" font-size="10.2" fill="#000" textLength="20.41" lengthAdjust="spacingAndGlyphs">1500</text>
<line x1="219.76" y1="244.00" x2="219.76" y2="246.70" stroke="#000" stroke-width="1"/>
<text x="209.39" y="255.80" font-size="10.2" fill="#000" textLength="20.41" lengthAdjust="spacingAndGlyphs">1800</text>
<line x1="249.67" y1="244.00" x2="249.67" y2="246.70" stroke="#000" stroke-width="1"/>
<text x="239.54" y="255.80" font-size="10.2" fill="#000" textLength="20.16" lengthAdjust="spacingAndGlyphs">2100</text>
<line x1="279.58" y1="244.00" x2="279.58" y2="246.70" stroke="#000" stroke-width="1"/>
<text x="269.45" y="255.80" font-size="10.2" fill="#000" textLength="20.16" lengthAdjust="spacingAndGlyphs">2400</text>
<line x1="309.49" y1="244.00" x2="309.49" y2="246.70" stroke="#000" stroke-width="1"/>
<text x="299.36" y="255.80" font-size="10.2" fill="#000" textLength="20.16" lengthAdjust="spacingAndGlyphs">2700</text>
<line x1="339.40" y1="244.00" x2="339.40" y2="246.70" stroke="#000" stroke-width="1"/>
<text x="329.38" y="255.80" font-size="10.2" fill="#000" textLength="20.05" lengthAdjust="spacingAndGlyphs">3000</text>
<text x="94.07" y="12.30" font-size="16.7" fill="#000" textLength="202.58" lengthAdjust="spacingAndGlyphs">Antarctic SIE (SPEAR_LO)</text>
<text x="40.63" y="14.40" font-size="16.5" fill="#000" font-weight="bold" textLength="8.87" lengthAdjust="spacingAndGlyphs">a</text>
<polygon points="48.2,266.0 76.3,261.5 76.3,270.5" fill="#fff" stroke="#000" stroke-width="0.9"/>
<rect x="76.30" y="261.50" width="28.20" height="9.0" fill="#3c28f0" stroke="#000" stroke-width="0.9"/>
<rect x="104.50" y="261.50" width="28.20" height="9.0" fill="#657ef0" stroke="#000" stroke-width="0.9"/>
<rect x="132.70" y="261.50" width="28.20" height="9.0" fill="#7a8deb" stroke="#000" stroke-width="0.9"/>
<rect x="160.90" y="261.50" width="28.20" height="9.0" fill="#c6f0ec" stroke="#000" stroke-width="0.9"/>
<rect x="189.10" y="261.50" width="28.20" height="9.0" fill="#f0f0c8" stroke="#000" stroke-width="0.9"/>
<rect x="217.30" y="261.50" width="28.20" height="9.0" fill="#f2977e" stroke="#000" stroke-width="0.9"/>
<rect x="245.50" y="261.50" width="28.20" height="9.0" fill="#f07a66" stroke="#000" stroke-width="0.9"/>
<rect x="273.70" y="261.50" width="28.20" height="9.0" fill="#ec2a40" stroke="#000" stroke-width="0.9"/>
<polygon points="301.9,261.5 330.0,266.0 301.9,270.5" fill="#f00a0a" stroke="#000" stroke-width="0.9"/>
<text x="74.57" y="278.20" font-size="8.1" fill="#000" textLength="4.87" lengthAdjust="spacingAndGlyphs">0</text>
<text x="99.13" y="278.20" font-size="8.1" fill="#000" textLength="12.16" lengthAdjust="spacingAndGlyphs">0.5</text>
<text x="130.85" y="278.20" font-size="8.1" fill="#000" textLength="4.87" lengthAdjust="spacingAndGlyphs">1</text>
<text x="159.17" y="278.20" font-size="8.1" fill="#000" textLength="4.87" lengthAdjust="spacingAndGlyphs">2</text>
<text x="187.40" y="278.20" font-size="8.1" fill="#000" textLength="4.87" lengthAdjust="spacingAndGlyphs">4</text>
<text x="215.57" y="278.20" font-size="8.1" fill="#000" textLength="4.87" lengthAdjust="spacingAndGlyphs">8</text>
<text x="241.19" y="278.20" font-size="8.1" fill="#000" textLength="9.73" lengthAdjust="spacingAndGlyphs">16</text>
<text x="269.59" y="278.20" font-size="8.1" fill="#000" textLength="9.73" lengthAdjust="spacingAndGlyphs">32</text>
<text x="297.64" y="278.20" font-size="8.1" fill="#000" textLength="9.73" lengthAdjust="spacingAndGlyphs">64</text>
<text x="89.74" y="292.50" font-size="15.4" fill="#000" textLength="210.20" lengthAdjust="spacingAndGlyphs">Normalized Power Density (<tspan font-size="18">σ</tspan><tspan dy="-7.2" font-size="8">2</tspan><tspan dy="7.2">)</tspan></text>
<rect x="376.50" y="19.40" width="298.40" height="225.80" fill="none" stroke="#000" stroke-width="1.3"/>
<line x1="373.70" y1="19.40" x2="376.50" y2="19.40" stroke="#000" stroke-width="1"/>
<text x="361.11" y="22.85" font-size="9.8" fill="#000" textLength="10.25" lengthAdjust="spacingAndGlyphs">10</text>
<line x1="373.70" y1="71.65" x2="376.50" y2="71.65" stroke="#000" stroke-width="1"/>
<text x="361.36" y="75.10" font-size="9.8" fill="#000" textLength="9.99" lengthAdjust="spacingAndGlyphs">20</text>
<line x1="373.70" y1="102.21" x2="376.50" y2="102.21" stroke="#000" stroke-width="1"/>
<text x="361.47" y="105.66" font-size="9.8" fill="#000" textLength="9.87" lengthAdjust="spacingAndGlyphs">30</text>
<line x1="373.70" y1="123.89" x2="376.50" y2="123.89" stroke="#000" stroke-width="1"/>
<text x="361.61" y="127.34" font-size="9.8" fill="#000" textLength="9.73" lengthAdjust="spacingAndGlyphs">40</text>
<line x1="373.70" y1="140.71" x2="376.50" y2="140.71" stroke="#000" stroke-width="1"/>
<text x="361.45" y="144.16" font-size="9.8" fill="#000" textLength="9.89" lengthAdjust="spacingAndGlyphs">50</text>
<line x1="373.70" y1="154.45" x2="376.50" y2="154.45" stroke="#000" stroke-width="1"/>
<text x="361.35" y="157.90" font-size="9.8" fill="#000" textLength="10.00" lengthAdjust="spacingAndGlyphs">60</text>
<line x1="373.70" y1="166.07" x2="376.50" y2="166.07" stroke="#000" stroke-width="1"/>
<text x="361.35" y="169.52" font-size="9.8" fill="#000" textLength="10.00" lengthAdjust="spacingAndGlyphs">70</text>
<line x1="373.70" y1="176.14" x2="376.50" y2="176.14" stroke="#000" stroke-width="1"/>
<text x="361.42" y="179.59" font-size="9.8" fill="#000" textLength="9.93" lengthAdjust="spacingAndGlyphs">80</text>
<line x1="373.70" y1="185.01" x2="376.50" y2="185.01" stroke="#000" stroke-width="1"/>
<text x="361.39" y="188.46" font-size="9.8" fill="#000" textLength="9.96" lengthAdjust="spacingAndGlyphs">90</text>
<line x1="373.70" y1="192.95" x2="376.50" y2="192.95" stroke="#000" stroke-width="1"/>
<text x="356.51" y="196.40" font-size="9.8" fill="#000" textLength="14.83" lengthAdjust="spacingAndGlyphs">100</text>
<line x1="373.70" y1="223.52" x2="376.50" y2="223.52" stroke="#000" stroke-width="1"/>
<text x="356.51" y="226.97" font-size="9.8" fill="#000" textLength="14.83" lengthAdjust="spacingAndGlyphs">150</text>
<line x1="373.70" y1="245.20" x2="376.50" y2="245.20" stroke="#000" stroke-width="1"/>
<text x="356.75" y="248.65" font-size="9.8" fill="#000" textLength="14.59" lengthAdjust="spacingAndGlyphs">200</text>
<line x1="406.34" y1="245.20" x2="406.34" y2="247.90" stroke="#000" stroke-width="1"/>
<text x="401.17" y="257.00" font-size="10.2" fill="#000" textLength="15.20" lengthAdjust="spacingAndGlyphs">300</text>
<line x1="436.18" y1="245.20" x2="436.18" y2="247.90" stroke="#000" stroke-width="1"/>
<text x="430.89" y="257.00" font-size="10.2" fill="#000" textLength="15.33" lengthAdjust="spacingAndGlyphs">600</text>
<line x1="466.02" y1="245.20" x2="466.02" y2="247.90" stroke="#000" stroke-width="1"/>
<text x="460.77" y="257.00" font-size="10.2" fill="#000" textLength="15.29" lengthAdjust="spacingAndGlyphs">900</text>
<line x1="495.86" y1="245.20" x2="495.86" y2="247.90" stroke="#000" stroke-width="1"/>
<text x="485.49" y="257.00" font-size="10.2" fill="#000" textLength="20.41" lengthAdjust="spacingAndGlyphs">1200</text>
<line x1="525.70" y1="245.20" x2="525.70" y2="247.90" stroke="#000" stroke-width="1"/>
<text x="515.33" y="257.00" font-size="10.2" fill="#000" textLength="20.41" lengthAdjust="spacingAndGlyphs">1500</text>
<line x1="555.54" y1="245.20" x2="555.54" y2="247.90" stroke="#000" stroke-width="1"/>
<text x="545.17" y="257.00" font-size="10.2" fill="#000" textLength="20.41" lengthAdjust="spacingAndGlyphs">1800</text>
<line x1="585.38" y1="245.20" x2="585.38" y2="247.90" stroke="#000" stroke-width="1"/>
<text x="575.25" y="257.00" font-size="10.2" fill="#000" textLength="20.16" lengthAdjust="spacingAndGlyphs">2100</text>
<line x1="615.22" y1="245.20" x2="615.22" y2="247.90" stroke="#000" stroke-width="1"/>
<text x="605.09" y="257.00" font-size="10.2" fill="#000" textLength="20.16" lengthAdjust="spacingAndGlyphs">2400</text>
<line x1="645.06" y1="245.20" x2="645.06" y2="247.90" stroke="#000" stroke-width="1"/>
<text x="634.93" y="257.00" font-size="10.2" fill="#000" textLength="20.16" lengthAdjust="spacingAndGlyphs">2700</text>
<line x1="674.90" y1="245.20" x2="674.90" y2="247.90" stroke="#000" stroke-width="1"/>
<text x="664.88" y="257.00" font-size="10.2" fill="#000" textLength="20.05" lengthAdjust="spacingAndGlyphs">3000</text>
<text x="420.17" y="12.70" font-size="16.7" fill="#000" textLength="217.48" lengthAdjust="spacingAndGlyphs">Antarctic SIE (SPEAR_MED)</text>
<text x="378.02" y="15.60" font-size="16.5" fill="#000" font-weight="bold" textLength="10.91" lengthAdjust="spacingAndGlyphs">b</text>
<polygon points="383.9,267.1 412.3,262.6 412.3,271.6" fill="#fff" stroke="#000" stroke-width="0.9"/>
<rect x="412.30" y="262.60" width="28.14" height="9.0" fill="#3c28f0" stroke="#000" stroke-width="0.9"/>
<rect x="440.44" y="262.60" width="28.14" height="9.0" fill="#657ef0" stroke="#000" stroke-width="0.9"/>
<rect x="468.58" y="262.60" width="28.14" height="9.0" fill="#7a8deb" stroke="#000" stroke-width="0.9"/>
<rect x="496.72" y="262.60" width="28.14" height="9.0" fill="#c6f0ec" stroke="#000" stroke-width="0.9"/>
<rect x="524.86" y="262.60" width="28.14" height="9.0" fill="#f0f0c8" stroke="#000" stroke-width="0.9"/>
<rect x="553.00" y="262.60" width="28.14" height="9.0" fill="#f2977e" stroke="#000" stroke-width="0.9"/>
<rect x="581.14" y="262.60" width="28.14" height="9.0" fill="#f07a66" stroke="#000" stroke-width="0.9"/>
<rect x="609.28" y="262.60" width="28.14" height="9.0" fill="#ec2a40" stroke="#000" stroke-width="0.9"/>
<polygon points="637.4,262.6 666.5,267.1 637.4,271.6" fill="#f00a0a" stroke="#000" stroke-width="0.9"/>
<text x="410.57" y="279.30" font-size="8.1" fill="#000" textLength="4.87" lengthAdjust="spacingAndGlyphs">0</text>
<text x="435.07" y="279.30" font-size="8.1" fill="#000" textLength="12.16" lengthAdjust="spacingAndGlyphs">0.5</text>
<text x="466.73" y="279.30" font-size="8.1" fill="#000" textLength="4.87" lengthAdjust="spacingAndGlyphs">1</text>
<text x="494.99" y="279.30" font-size="8.1" fill="#000" textLength="4.87" lengthAdjust="spacingAndGlyphs">2</text>
<text x="523.16" y="279.30" font-size="8.1" fill="#000" textLength="4.87" lengthAdjust="spacingAndGlyphs">4</text>
<text x="551.27" y="279.30" font-size="8.1" fill="#000" textLength="4.87" lengthAdjust="spacingAndGlyphs">8</text>
<text x="576.83" y="279.30" font-size="8.1" fill="#000" textLength="9.73" lengthAdjust="spacingAndGlyphs">16</text>
<text x="605.17" y="279.30" font-size="8.1" fill="#000" textLength="9.73" lengthAdjust="spacingAndGlyphs">32</text>
<text x="633.16" y="279.30" font-size="8.1" fill="#000" textLength="9.73" lengthAdjust="spacingAndGlyphs">64</text>
<text x="424.84" y="294.20" font-size="15.4" fill="#000" textLength="210.31" lengthAdjust="spacingAndGlyphs">Normalized Power Density (<tspan font-size="18">σ</tspan><tspan dy="-7.2" font-size="8">2</tspan><tspan dy="7.2">)</tspan></text>
<text transform="translate(12.00,173.17) rotate(-90)" font-size="15.9" textLength="89.22" lengthAdjust="spacingAndGlyphs">Period (year)</text>
<defs><clipPath id="cclip"><rect x="72.6" y="324.4" width="239.9" height="203.60000000000002"/></clipPath></defs>
<g clip-path="url(#cclip)">
<polyline points="72.5,426.8 78.1,432.9 83.2,430.5 87.9,435.6 92.2,433.0 96.3,420.6 100.0,419.9 103.6,418.4 107.0,412.1 110.1,411.8 113.1,412.8 116.0,409.5 118.7,406.9 121.3,408.8 123.8,407.4 126.2,404.3 128.5,400.2 130.7,397.0 132.9,393.5 134.9,377.9 136.9,368.0 138.8,365.8 140.7,366.7 142.5,367.2 144.2,380.0 145.9,390.9 147.6,399.2 149.2,392.5 150.8,385.0 152.3,386.7 153.8,388.5 155.2,390.1 156.6,391.4 158.0,400.1 159.4,404.0 160.7,401.6 162.0,407.1 163.2,412.1 164.5,413.9 165.7,448.9 166.8,437.8 168.0,424.9 169.1,417.3 170.3,411.0 171.4,411.0 172.4,416.6 173.5,427.5 174.5,433.6 175.6,439.1 176.6,439.1 177.5,429.5 178.5,425.4 179.5,426.0 180.4,426.7 181.3,427.9 182.2,429.2 183.1,430.6 184.0,431.9 184.9,433.0 185.7,434.1 186.6,435.2 187.4,436.3 188.2,441.1 189.0,447.0 189.8,456.7 190.6,453.7 191.4,441.7 192.2,453.0 192.9,450.9 193.7,442.1 194.4,449.7 195.1,454.2 195.9,454.9 196.6,454.8 197.3,458.6 198.0,462.0 198.6,458.8 199.3,451.3 200.0,445.5 200.7,440.0 201.3,446.6 202.0,447.1 202.6,448.1 203.2,465.3 203.9,456.4 204.5,444.7 205.1,447.6 205.7,454.8 206.3,453.1 206.9,448.7 207.5,450.4 208.1,450.0 208.6,458.6 209.2,455.4 209.8,449.8 210.3,455.7 210.9,459.5 211.5,452.4 212.0,453.7 212.5,461.8 213.1,460.8 213.6,459.2 214.1,447.4 214.7,444.1 215.2,455.8 215.7,459.2 216.2,455.2 216.7,463.6 217.2,474.4 217.7,465.8 218.2,464.6 218.7,455.4 219.1,436.6 219.6,450.3 220.1,458.9 220.6,457.6 221.0,461.4 221.5,458.3 222.0,459.2 222.4,460.5 222.9,450.0 223.3,450.4 223.8,458.7 224.2,466.5 224.6,460.3 225.1,451.7 225.5,455.1 225.9,454.5 226.4,464.6 226.8,467.2 227.2,457.0 227.6,456.0 228.0,462.0 228.5,456.6 228.9,451.7 229.3,464.0 229.7,469.5 230.1,461.9 230.5,455.6 230.9,455.1 231.3,450.0 231.7,455.4 232.0,464.7 232.4,460.9 232.8,453.0 233.2,449.0 233.6,457.8 233.9,462.6 234.3,457.8 234.7,459.1 235.0,466.1 235.4,460.5 235.8,453.4 236.1,452.5 236.5,449.6 236.8,457.8 237.2,466.0 237.6,463.8 237.9,455.7 238.3,449.0 238.6,454.5 238.9,457.6 239.3,458.6 239.6,457.3 240.0,460.0 240.3,472.3 240.6,476.7 241.0,475.9 241.3,468.7 241.6,465.4 242.0,463.3 242.3,463.4 242.6,463.5 242.9,456.6 243.2,455.4 243.6,461.3 243.9,465.9 244.2,463.4 244.5,456.5 244.8,456.4 245.1,455.0 245.4,461.6 245.7,468.1 246.0,461.9 246.3,462.1 246.6,453.4 246.9,447.2 247.2,454.9 247.5,469.1 247.8,463.8 248.1,453.0 248.4,458.4 248.7,453.6 249.0,445.5 249.3,451.9 249.6,460.1 249.9,460.3 250.1,468.1 250.4,469.3 250.7,463.6 251.0,472.4 251.3,479.1 251.5,463.4 251.8,453.1 252.1,466.8 252.4,461.9 252.6,451.6 252.9,452.0 253.2,449.9 253.4,450.8 253.7,458.5 254.0,470.5 254.2,477.3 254.5,471.1 254.8,453.7 255.0,453.4 255.3,461.6 255.6,463.7 255.8,464.9 256.1,453.4 256.3,456.3 256.6,454.7 256.8,448.3 257.1,462.0 257.3,468.8 257.6,477.0 257.8,461.4 258.1,454.5 258.3,473.9 258.6,470.5 258.8,470.8 259.1,466.5 259.3,467.2 259.5,478.8 259.8,468.4 260.0,460.8 260.3,466.8 260.5,467.4 260.7,476.7 261.0,483.4 261.2,486.1 261.4,494.3 261.7,485.7 261.9,476.1 262.1,469.0 262.4,464.8 262.6,466.4 262.8,476.0 263.1,475.8 263.3,473.7 263.5,482.6 263.7,478.1 264.0,475.1 264.2,491.6 264.4,507.2 264.6,488.5 264.8,473.1 265.1,476.8 265.3,476.3 265.5,493.1 265.7,501.6 265.9,499.4 266.2,509.1 266.4,494.5 266.6,477.5 266.8,481.9 267.0,492.6 267.2,491.7 267.4,488.5 267.6,499.7 267.9,504.4 268.1,498.3 268.3,481.4 268.5,464.1 268.7,481.0 268.9,498.7 269.1,480.9 269.3,472.7 269.5,477.1 269.7,467.1 269.9,473.3 270.1,481.3 270.3,476.7 270.5,490.1 270.7,492.0 270.9,490.5 271.1,495.2 271.3,490.9 271.5,487.8 271.7,503.9 271.9,502.2 272.1,500.3 272.3,494.0 272.5,486.3 272.7,495.9 272.9,483.4 273.1,458.9 273.3,479.4 273.4,492.5 273.6,470.4 273.8,481.7 274.0,490.8 274.2,492.3 274.4,489.7 274.6,474.3 274.8,484.3 274.9,489.6 275.1,484.1 275.3,497.2 275.5,505.7 275.7,498.9 275.9,486.0 276.0,486.0 276.2,472.7 276.4,468.2 276.6,475.7 276.8,472.4 277.0,482.7 277.1,490.2 277.3,502.7 277.5,518.6 277.7,488.3 277.8,476.5 278.0,484.3 278.2,488.2 278.4,498.5 278.5,501.9 278.7,503.3 278.9,501.9 279.1,496.7 279.2,468.3 279.4,460.7 279.6,475.3 279.8,481.4 279.9,480.2 280.1,498.8 280.3,506.3 280.4,503.5 280.6,502.1 280.8,505.3 280.9,497.9 281.1,488.8 281.3,487.8 281.4,486.5 281.6,512.1 281.8,494.1 281.9,472.8 282.1,489.3 282.3,495.4 282.4,481.4 282.6,493.2 282.8,505.7 282.9,507.0 283.1,509.4 283.2,488.2 283.4,481.3 283.6,503.6 283.7,495.8 283.9,479.8 284.0,497.2 284.2,510.2 284.4,512.3 284.5,490.7 284.7,501.8 284.8,513.3 285.0,495.3 285.1,496.8 285.3,494.8 285.5,486.5 285.6,485.8 285.8,505.9 285.9,496.9 286.1,464.3 286.2,480.9 286.4,505.2 286.5,507.0 286.7,519.2 286.8,506.6 287.0,493.2 287.1,504.0 287.3,513.3 287.4,518.0 287.6,500.0 287.7,479.1 287.9,484.2 288.0,482.2 288.2,494.4 288.3,505.1 288.5,492.4 288.6,488.2 288.8,504.7 288.9,515.1 289.1,498.3 289.2,501.2 289.4,504.2 289.5,504.1 289.6,516.4 289.8,509.0 289.9,502.1 290.1,508.7 290.2,514.2 290.4,515.2 290.5,505.7 290.6,495.0 290.8,497.3 290.9,493.9 291.1,497.1 291.2,506.8 291.3,505.9 291.5,500.9 291.6,489.2 291.8,485.8 291.9,502.5 292.0,508.7 292.2,497.0 292.3,483.4 292.5,485.0 292.6,470.5 292.7,482.9 292.9,511.0 293.0,499.4 293.1,489.1 293.3,479.4 293.4,497.2 293.5,505.0 293.7,503.6 293.8,516.5 294.0,518.6 294.1,491.0 294.2,476.7 294.4,483.4 294.5,484.1 294.6,476.0 294.8,466.1 294.9,477.8 295.0,490.5 295.1,501.6 295.3,504.0 295.4,512.0 295.5,498.9 295.7,474.4 295.8,492.6 295.9,502.4 296.1,491.7 296.2,500.8 296.3,519.0 296.4,523.8 296.6,510.8 296.7,499.4 296.8,504.9 297.0,505.5 297.1,512.5 297.2,507.8 297.3,502.2 297.5,487.2 297.6,490.6 297.7,524.3 297.8,517.5 298.0,512.3 298.1,498.1 298.2,486.2 298.3,487.3 298.5,493.1 298.6,511.1 298.7,496.4 298.8,484.6 299.0,491.5 299.1,520.0 299.2,524.6 299.3,504.5 299.5,508.4 299.6,510.0 299.7,504.8 299.8,490.6 299.9,486.9 300.1,512.8 300.2,521.0 300.3,503.5 300.4,489.6 300.5,492.4 300.7,504.5 300.8,499.3 300.9,506.9 301.0,507.5 301.1,498.3 301.3,510.9 301.4,514.3 301.5,516.8 301.6,512.9 301.7,499.4 301.8,505.6 302.0,511.3 302.1,517.6 302.2,519.3 302.3,508.8 302.4,509.2 302.5,515.2 302.7,501.6 302.8,494.6 302.9,501.6 303.0,513.3 303.1,512.1 303.2,510.9 303.4,504.2 303.5,494.5 303.6,514.9 303.7,513.1 303.8,513.9 303.9,498.6 304.0,488.8 304.1,507.9 304.3,506.7 304.4,492.1 304.5,499.1 304.6,492.0 304.7,494.5 304.8,517.4 304.9,517.8 305.0,513.1 305.2,494.8 305.3,492.6 305.4,498.3 305.5,508.1 305.6,509.4 305.7,507.9 305.8,514.9 305.9,523.7 306.0,502.2 306.1,486.4 306.3,509.8 306.4,519.4 306.5,508.6 306.6,500.3 306.7,504.5 306.8,508.0 306.9,503.9 307.0,497.3 307.1,492.5 307.2,494.8 307.3,516.7 307.4,511.9 307.5,508.2 307.7,533.5 307.8,526.9 307.9,530.6 308.0,527.7 308.1,521.8 308.2,522.7 308.3,497.6 308.4,501.2 308.5,528.2 308.6,520.2 308.7,508.0 308.8,504.5 308.9,492.7 309.0,505.4 309.1,511.5 309.2,512.6 309.3,525.3 309.4,510.2 309.5,493.2 309.6,503.9 309.7,530.2 309.8,527.0 309.9,502.7 310.0,509.4 310.1,532.1 310.2,523.3 310.3,502.3 310.5,507.8 310.6,517.2 310.7,534.0 310.8,518.5 310.9,485.1 311.0,497.4 311.1,516.6 311.2,495.9 311.3,486.0 311.4,513.9 311.5,514.7 311.6,510.6 311.7,516.8 311.8,518.3 311.9,520.7 311.9,517.4 312.0,524.5 312.1,517.4 312.2,507.7 312.3,522.5 312.4,516.6 312.5,503.6" fill="none" stroke="#ff0000" stroke-width="1.8" stroke-linejoin="round"/>
<polyline points="72.5,447.0 78.1,443.8 83.2,440.6 87.9,439.2 92.2,438.8 96.3,438.8 100.0,437.2 103.6,431.9 107.0,423.4 110.1,417.7 113.1,414.9 116.0,414.1 118.7,412.9 121.3,411.2 123.8,411.2 126.2,413.6 128.5,410.2 130.7,403.0 132.9,396.4 134.9,394.5 136.9,394.0 138.8,393.3 140.7,391.4 142.5,391.4 144.2,397.6 145.9,403.2 147.6,407.5 149.2,407.1 150.8,406.7 152.3,412.6 153.8,418.6 155.2,420.2 156.6,421.6 158.0,426.3 159.4,425.8 160.7,420.2 162.0,414.7 163.2,412.7 164.5,412.4 165.7,413.6 166.8,414.8 168.0,418.5 169.1,425.4 170.3,431.8 171.4,435.9 172.4,439.8 173.5,437.3 174.5,432.8 175.6,428.4 176.6,424.0 177.5,421.9 178.5,422.6 179.5,423.4 180.4,424.1 181.3,425.9 182.2,428.1 183.1,430.2 184.0,432.3 184.9,434.4 185.7,436.3 186.6,438.2 187.4,440.0 188.2,441.8 189.0,443.6 189.8,445.3 190.6,444.9 191.4,443.9 192.2,445.1 192.9,446.9 193.7,443.8 194.4,440.7 195.1,437.9 195.9,440.6 196.6,441.8 197.3,440.4 198.0,440.4 198.6,442.8 199.3,445.2 200.0,447.6 200.7,450.0 201.3,452.3 202.0,453.5 202.6,454.5 203.2,455.5 203.9,456.6 204.5,453.5 205.1,445.7 205.7,438.0 206.3,434.3 206.9,432.5 207.5,430.7 208.1,430.6 208.6,430.7 209.2,430.9 209.8,435.4 210.3,441.8 210.9,448.1 211.5,454.6 212.0,461.2 212.5,467.7 213.1,468.1 213.6,462.9 214.1,457.8 214.7,452.7 215.2,447.7 215.7,443.3 216.2,442.3 216.7,441.2 217.2,440.2 217.7,440.8 218.2,441.8 218.7,442.8 219.1,444.8 219.6,448.9 220.1,453.1 220.6,457.2 221.0,459.3 221.5,460.7 222.0,462.1 222.4,463.5 222.9,464.8 223.3,466.2 223.8,467.5 224.2,467.5 224.6,463.7 225.1,459.8 225.5,456.0 225.9,452.5 226.4,451.6 226.8,450.7 227.2,449.8 227.6,449.0 228.0,448.1 228.5,445.1 228.9,441.9 229.3,438.6 229.7,435.4 230.1,433.7 230.5,432.7 230.9,431.8 231.3,430.8 231.7,429.8 232.0,428.9 232.4,430.4 232.8,432.5 233.2,434.5 233.6,436.5 233.9,438.3 234.3,439.8 234.7,441.3 235.0,442.8 235.4,444.2 235.8,449.2 236.1,454.6 236.5,452.4 236.8,450.3 237.2,448.2 237.6,446.1 237.9,444.9 238.3,446.0 238.6,447.1 238.9,448.0 239.3,448.2 239.6,448.3 240.0,448.5 240.3,448.7 240.6,448.8 241.0,449.0 241.3,449.3 241.6,450.2 242.0,451.0 242.3,451.8 242.6,452.6 242.9,453.4 243.2,454.2 243.6,454.7 243.9,454.3 244.2,453.9 244.5,453.5 244.8,453.1 245.1,452.7 245.4,454.3 245.7,456.5 246.0,458.8 246.3,461.0 246.6,463.2 246.9,464.9 247.2,463.5 247.5,462.1 247.8,460.7 248.1,459.3 248.4,457.9 248.7,456.6 249.0,455.2 249.3,453.9 249.6,452.5 249.9,451.2 250.1,449.8 250.4,449.6 250.7,450.7 251.0,451.9 251.3,453.0 251.5,454.1 251.8,455.2 252.1,456.3 252.4,457.4 252.6,458.7 252.9,461.2 253.2,463.7 253.4,466.2 253.7,468.7 254.0,471.2 254.2,473.7 254.5,459.7 254.8,460.7 255.0,451.6 255.3,461.7 255.6,460.8 255.8,461.1 256.1,452.3 256.3,451.3 256.6,456.1 256.8,464.2 257.1,466.2 257.3,467.3 257.6,457.9 257.8,459.3 258.1,464.2 258.3,469.2 258.6,468.4 258.8,458.8 259.1,455.2 259.3,461.7 259.5,466.8 259.8,466.9 260.0,452.3 260.3,458.0 260.5,450.5 260.7,453.4 261.0,445.9 261.2,454.4 261.4,461.8 261.7,459.7 261.9,457.8 262.1,454.2 262.4,448.5 262.6,448.8 262.8,448.4 263.1,460.8 263.3,461.4 263.5,470.6 263.7,472.2 264.0,478.0 264.2,479.4 264.4,479.4 264.6,473.6 264.8,474.4 265.1,465.5 265.3,466.3 265.5,463.6 265.7,467.2 265.9,471.4 266.2,462.2 266.4,460.8 266.6,459.9 266.8,468.4 267.0,478.0 267.2,474.7 267.4,472.4 267.6,469.3 267.9,472.3 268.1,463.5 268.3,456.9 268.5,462.3 268.7,462.7 268.9,469.4 269.1,459.1 269.3,471.5 269.5,463.8 269.7,466.5 269.9,449.7 270.1,453.9 270.3,459.8 270.5,462.9 270.7,469.9 270.9,460.2 271.1,468.4 271.3,446.7 271.5,456.8 271.7,452.4 271.9,465.0 272.1,452.1 272.3,451.6 272.5,461.1 272.7,465.6 272.9,476.2 273.1,469.1 273.3,474.0 273.4,466.4 273.6,469.9 273.8,482.5 274.0,489.1 274.2,489.7 274.4,472.9 274.6,475.1 274.8,480.0 274.9,473.4 275.1,460.3 275.3,464.6 275.5,476.6 275.7,485.1 275.9,476.8 276.0,480.6 276.2,484.5 276.4,480.4 276.6,485.9 276.8,481.7 277.0,478.3 277.1,463.9 277.3,463.3 277.5,466.2 277.7,468.4 277.8,471.1 278.0,455.2 278.2,452.1 278.4,455.7 278.5,477.2 278.7,477.9 278.9,469.3 279.1,472.7 279.2,475.3 279.4,475.9 279.6,480.1 279.8,479.6 279.9,486.4 280.1,476.1 280.3,478.6 280.4,469.7 280.6,465.5 280.8,472.4 280.9,471.5 281.1,477.7 281.3,464.3 281.4,469.5 281.6,467.9 281.8,465.6 281.9,473.4 282.1,472.7 282.3,488.6 282.4,477.3 282.6,483.6 282.8,489.9 282.9,496.4 283.1,488.0 283.2,477.8 283.4,477.6 283.6,480.1 283.7,477.0 283.9,473.2 284.0,476.8 284.2,475.5 284.4,474.1 284.5,476.4 284.7,477.8 284.8,497.3 285.0,491.6 285.1,488.7 285.3,471.1 285.5,474.7 285.6,475.0 285.8,471.2 285.9,478.3 286.1,475.5 286.2,491.0 286.4,482.8 286.5,484.0 286.7,485.0 286.8,483.2 287.0,483.7 287.1,474.9 287.3,483.3 287.4,492.8 287.6,497.2 287.7,499.9 287.9,497.4 288.0,495.1 288.2,484.3 288.3,475.2 288.5,472.5 288.6,482.8 288.8,481.4 288.9,489.8 289.1,482.4 289.2,487.1 289.4,480.2 289.5,488.7 289.6,490.7 289.8,494.8 289.9,491.4 290.1,489.7 290.2,488.9 290.4,485.6 290.5,488.0 290.6,488.4 290.8,483.4 290.9,482.9 291.1,472.4 291.2,476.5 291.3,477.4 291.5,481.2 291.6,472.8 291.8,467.6 291.9,466.4 292.0,476.8 292.2,479.9 292.3,492.4 292.5,490.6 292.6,496.0 292.7,481.4 292.9,490.0 293.0,481.3 293.1,490.9 293.3,489.5 293.4,496.4 293.5,489.8 293.7,480.3 293.8,486.5 294.0,497.9 294.1,501.4 294.2,490.4 294.4,479.2 294.5,477.1 294.6,476.0 294.8,478.4 294.9,489.7 295.0,491.0 295.1,498.8 295.3,481.3 295.4,485.3 295.5,478.5 295.7,475.4 295.8,476.8 295.9,484.4 296.1,496.7 296.2,501.2 296.3,489.6 296.4,484.9 296.6,482.2 296.7,490.5 296.8,498.7 297.0,492.1 297.1,497.8 297.2,488.9 297.3,493.0 297.5,477.0 297.6,478.2 297.7,478.4 297.8,478.3 298.0,477.1 298.1,479.1 298.2,483.7 298.3,489.7 298.5,483.4 298.6,490.6 298.7,485.3 298.8,493.1 299.0,478.0 299.1,479.8 299.2,477.4 299.3,492.9 299.5,485.7 299.6,493.6 299.7,482.5 299.8,496.3 299.9,492.0 300.1,493.9 300.2,498.6 300.3,488.9 300.4,492.1 300.5,481.3 300.7,490.9 300.8,493.1 300.9,496.4 301.0,496.1 301.1,495.1 301.3,485.6 301.4,481.2 301.5,486.0 301.6,484.8 301.7,487.3 301.8,471.0 302.0,473.7 302.1,464.1 302.2,482.4 302.3,476.2 302.4,483.9 302.5,481.1 302.7,494.6 302.8,500.2 302.9,502.1 303.0,501.4 303.1,501.8 303.2,495.6 303.4,492.9 303.5,478.6 303.6,479.9 303.7,487.1 303.8,492.7 303.9,485.4 304.0,478.9 304.1,489.3 304.3,502.5 304.4,493.8 304.5,490.0 304.6,479.7 304.7,489.6 304.8,474.7 304.9,483.5 305.0,479.8 305.2,493.4 305.3,487.4 305.4,483.9 305.5,485.7 305.6,484.1 305.7,486.0 305.8,486.8 305.9,489.0 306.0,489.0 306.1,490.6 306.3,487.8 306.4,491.6 306.5,490.5 306.6,499.0 306.7,505.9 306.8,511.0 306.9,506.1 307.0,495.0 307.1,495.0 307.2,502.5 307.3,505.3 307.4,500.1 307.5,490.4 307.7,483.5 307.8,485.4 307.9,489.4 308.0,498.7 308.1,502.4 308.2,508.4 308.3,504.2 308.4,488.8 308.5,470.4 308.6,474.0 308.7,478.1 308.8,490.6 308.9,490.7 309.0,489.2 309.1,485.0 309.2,476.3 309.3,486.8 309.4,486.1 309.5,498.2 309.6,487.8 309.7,491.2 309.8,491.3 309.9,493.5 310.0,488.6 310.1,498.0 310.2,498.5 310.3,506.1 310.5,492.9 310.6,489.7 310.7,493.9 310.8,496.5 310.9,502.7 311.0,482.9 311.1,482.4 311.2,485.2 311.3,499.4 311.4,497.0 311.5,499.0 311.6,498.8 311.7,502.9 311.8,502.0 311.9,506.3 311.9,495.8 312.0,492.0 312.1,482.3 312.2,478.5 312.3,478.2 312.4,472.8 312.5,481.4" fill="none" stroke="#0000ff" stroke-width="1.8" stroke-linejoin="round"/>
<polyline points="72.6,396.7 76.7,396.9 80.7,397.1 84.8,397.4 88.9,397.8 92.9,398.1 97.0,398.6 101.1,399.0 105.1,399.6 109.2,400.2 113.3,400.8 117.3,401.6 121.4,402.4 125.5,403.3 129.5,404.3 133.6,405.4 137.7,406.6 141.7,407.9 145.8,409.3 149.9,410.8 153.9,412.4 158.0,414.2 162.1,416.0 166.1,417.9 170.2,419.9 174.3,422.0 178.3,424.2 182.4,426.5 186.5,428.9 190.5,431.3 194.6,433.8 198.6,436.4 202.7,439.0 206.8,441.7 210.8,444.4 214.9,447.1 219.0,449.9 223.0,452.7 227.1,455.5 231.2,458.4 235.2,461.3 239.3,464.2 243.4,467.1 247.4,470.0 251.5,472.9 255.6,475.8 259.6,478.8 263.7,481.7 267.8,484.6 271.8,487.5 275.9,490.5 280.0,493.4 284.0,496.2 288.1,499.1 292.2,502.0 296.2,504.8 300.3,507.6 304.4,510.4 308.4,513.1 312.5,515.7" fill="none" stroke="#ff0000" stroke-width="1.5" stroke-linejoin="round" stroke-dasharray="3 2.6"/>
<polyline points="72.6,421.5 76.7,421.5 80.7,421.5 84.8,421.6 88.9,421.6 92.9,421.7 97.0,421.7 101.1,421.8 105.1,421.9 109.2,422.0 113.3,422.1 117.3,422.2 121.4,422.3 125.5,422.5 129.5,422.6 133.6,422.7 137.7,422.9 141.7,423.1 145.8,423.3 149.9,423.5 153.9,423.8 158.0,424.2 162.1,424.6 166.1,425.2 170.2,425.9 174.3,426.7 178.3,427.6 182.4,428.5 186.5,429.4 190.5,430.4 194.6,431.6 198.6,433.0 202.7,434.4 206.8,436.0 210.8,437.5 214.9,439.1 219.0,440.6 223.0,442.1 227.1,443.5 231.2,445.0 235.2,446.6 239.3,448.1 243.4,449.7 247.4,451.4 251.5,453.1 255.6,454.9 259.6,456.7 263.7,458.6 267.8,460.5 271.8,462.4 275.9,464.5 280.0,466.5 284.0,468.7 288.1,470.9 292.2,473.2 296.2,475.5 300.3,477.9 304.4,480.4 308.4,482.9 312.5,485.5" fill="none" stroke="#0000ff" stroke-width="1.5" stroke-linejoin="round" stroke-dasharray="3 2.6"/>
</g>
<rect x="72.6" y="324.4" width="239.9" height="203.6" fill="none" stroke="#000" stroke-width="1.3"/>
<line x1="72.60" y1="528.00" x2="80.60" y2="528.00" stroke="#000" stroke-width="1"/>
<line x1="312.50" y1="528.00" x2="304.50" y2="528.00" stroke="#000" stroke-width="1"/>
<line x1="72.60" y1="512.68" x2="76.90" y2="512.68" stroke="#000" stroke-width="1"/>
<line x1="312.50" y1="512.68" x2="308.20" y2="512.68" stroke="#000" stroke-width="1"/>
<line x1="72.60" y1="503.71" x2="76.90" y2="503.71" stroke="#000" stroke-width="1"/>
<line x1="312.50" y1="503.71" x2="308.20" y2="503.71" stroke="#000" stroke-width="1"/>
<line x1="72.60" y1="497.36" x2="76.90" y2="497.36" stroke="#000" stroke-width="1"/>
<line x1="312.50" y1="497.36" x2="308.20" y2="497.36" stroke="#000" stroke-width="1"/>
<line x1="72.60" y1="492.42" x2="76.90" y2="492.42" stroke="#000" stroke-width="1"/>
<line x1="312.50" y1="492.42" x2="308.20" y2="492.42" stroke="#000" stroke-width="1"/>
<line x1="72.60" y1="488.39" x2="76.90" y2="488.39" stroke="#000" stroke-width="1"/>
<line x1="312.50" y1="488.39" x2="308.20" y2="488.39" stroke="#000" stroke-width="1"/>
<line x1="72.60" y1="484.98" x2="76.90" y2="484.98" stroke="#000" stroke-width="1"/>
<line x1="312.50" y1="484.98" x2="308.20" y2="484.98" stroke="#000" stroke-width="1"/>
<line x1="72.60" y1="482.03" x2="76.90" y2="482.03" stroke="#000" stroke-width="1"/>
<line x1="312.50" y1="482.03" x2="308.20" y2="482.03" stroke="#000" stroke-width="1"/>
<line x1="72.60" y1="479.43" x2="76.90" y2="479.43" stroke="#000" stroke-width="1"/>
<line x1="312.50" y1="479.43" x2="308.20" y2="479.43" stroke="#000" stroke-width="1"/>
<line x1="72.60" y1="477.10" x2="80.60" y2="477.10" stroke="#000" stroke-width="1"/>
<line x1="312.50" y1="477.10" x2="304.50" y2="477.10" stroke="#000" stroke-width="1"/>
<line x1="72.60" y1="461.78" x2="76.90" y2="461.78" stroke="#000" stroke-width="1"/>
<line x1="312.50" y1="461.78" x2="308.20" y2="461.78" stroke="#000" stroke-width="1"/>
<line x1="72.60" y1="452.81" x2="76.90" y2="452.81" stroke="#000" stroke-width="1"/>
<line x1="312.50" y1="452.81" x2="308.20" y2="452.81" stroke="#000" stroke-width="1"/>
<line x1="72.60" y1="446.46" x2="76.90" y2="446.46" stroke="#000" stroke-width="1"/>
<line x1="312.50" y1="446.46" x2="308.20" y2="446.46" stroke="#000" stroke-width="1"/>
<line x1="72.60" y1="441.52" x2="76.90" y2="441.52" stroke="#000" stroke-width="1"/>
<line x1="312.50" y1="441.52" x2="308.20" y2="441.52" stroke="#000" stroke-width="1"/>
<line x1="72.60" y1="437.49" x2="76.90" y2="437.49" stroke="#000" stroke-width="1"/>
<line x1="312.50" y1="437.49" x2="308.20" y2="437.49" stroke="#000" stroke-width="1"/>
<line x1="72.60" y1="434.08" x2="76.90" y2="434.08" stroke="#000" stroke-width="1"/>
<line x1="312.50" y1="434.08" x2="308.20" y2="434.08" stroke="#000" stroke-width="1"/>
<line x1="72.60" y1="431.13" x2="76.90" y2="431.13" stroke="#000" stroke-width="1"/>
<line x1="312.50" y1="431.13" x2="308.20" y2="431.13" stroke="#000" stroke-width="1"/>
<line x1="72.60" y1="428.53" x2="76.90" y2="428.53" stroke="#000" stroke-width="1"/>
<line x1="312.50" y1="428.53" x2="308.20" y2="428.53" stroke="#000" stroke-width="1"/>
<line x1="72.60" y1="426.20" x2="80.60" y2="426.20" stroke="#000" stroke-width="1"/>
<line x1="312.50" y1="426.20" x2="304.50" y2="426.20" stroke="#000" stroke-width="1"/>
<line x1="72.60" y1="410.88" x2="76.90" y2="410.88" stroke="#000" stroke-width="1"/>
<line x1="312.50" y1="410.88" x2="308.20" y2="410.88" stroke="#000" stroke-width="1"/>
<line x1="72.60" y1="401.91" x2="76.90" y2="401.91" stroke="#000" stroke-width="1"/>
<line x1="312.50" y1="401.91" x2="308.20" y2="401.91" stroke="#000" stroke-width="1"/>
<line x1="72.60" y1="395.56" x2="76.90" y2="395.56" stroke="#000" stroke-width="1"/>
<line x1="312.50" y1="395.56" x2="308.20" y2="395.56" stroke="#000" stroke-width="1"/>
<line x1="72.60" y1="390.62" x2="76.90" y2="390.62" stroke="#000" stroke-width="1"/>
<line x1="312.50" y1="390.62" x2="308.20" y2="390.62" stroke="#000" stroke-width="1"/>
<line x1="72.60" y1="386.59" x2="76.90" y2="386.59" stroke="#000" stroke-width="1"/>
<line x1="312.50" y1="386.59" x2="308.20" y2="386.59" stroke="#000" stroke-width="1"/>
<line x1="72.60" y1="383.18" x2="76.90" y2="383.18" stroke="#000" stroke-width="1"/>
<line x1="312.50" y1="383.18" x2="308.20" y2="383.18" stroke="#000" stroke-width="1"/>
<line x1="72.60" y1="380.23" x2="76.90" y2="380.23" stroke="#000" stroke-width="1"/>
<line x1="312.50" y1="380.23" x2="308.20" y2="380.23" stroke="#000" stroke-width="1"/>
<line x1="72.60" y1="377.63" x2="76.90" y2="377.63" stroke="#000" stroke-width="1"/>
<line x1="312.50" y1="377.63" x2="308.20" y2="377.63" stroke="#000" stroke-width="1"/>
<line x1="72.60" y1="375.30" x2="80.60" y2="375.30" stroke="#000" stroke-width="1"/>
<line x1="312.50" y1="375.30" x2="304.50" y2="375.30" stroke="#000" stroke-width="1"/>
<line x1="72.60" y1="359.98" x2="76.90" y2="359.98" stroke="#000" stroke-width="1"/>
<line x1="312.50" y1="359.98" x2="308.20" y2="359.98" stroke="#000" stroke-width="1"/>
<line x1="72.60" y1="351.01" x2="76.90" y2="351.01" stroke="#000" stroke-width="1"/>
<line x1="312.50" y1="351.01" x2="308.20" y2="351.01" stroke="#000" stroke-width="1"/>
<line x1="72.60" y1="344.66" x2="76.90" y2="344.66" stroke="#000" stroke-width="1"/>
<line x1="312.50" y1="344.66" x2="308.20" y2="344.66" stroke="#000" stroke-width="1"/>
<line x1="72.60" y1="339.72" x2="76.90" y2="339.72" stroke="#000" stroke-width="1"/>
<line x1="312.50" y1="339.72" x2="308.20" y2="339.72" stroke="#000" stroke-width="1"/>
<line x1="72.60" y1="335.69" x2="76.90" y2="335.69" stroke="#000" stroke-width="1"/>
<line x1="312.50" y1="335.69" x2="308.20" y2="335.69" stroke="#000" stroke-width="1"/>
<line x1="72.60" y1="332.28" x2="76.90" y2="332.28" stroke="#000" stroke-width="1"/>
<line x1="312.50" y1="332.28" x2="308.20" y2="332.28" stroke="#000" stroke-width="1"/>
<line x1="72.60" y1="329.33" x2="76.90" y2="329.33" stroke="#000" stroke-width="1"/>
<line x1="312.50" y1="329.33" x2="308.20" y2="329.33" stroke="#000" stroke-width="1"/>
<line x1="72.60" y1="326.73" x2="76.90" y2="326.73" stroke="#000" stroke-width="1"/>
<line x1="312.50" y1="326.73" x2="308.20" y2="326.73" stroke="#000" stroke-width="1"/>
<line x1="72.60" y1="324.40" x2="80.60" y2="324.40" stroke="#000" stroke-width="1"/>
<line x1="312.50" y1="324.40" x2="304.50" y2="324.40" stroke="#000" stroke-width="1"/>
<text x="21.32" y="330.00" font-size="16.3" fill="#000" textLength="40.39" lengthAdjust="spacingAndGlyphs">1000</text>
<text x="31.63" y="380.90" font-size="16.3" fill="#000" textLength="30.08" lengthAdjust="spacingAndGlyphs">100</text>
<text x="40.85" y="431.80" font-size="16.3" fill="#000" textLength="21.20" lengthAdjust="spacingAndGlyphs">10</text>
<text x="52.07" y="482.70" font-size="16.3" fill="#000" textLength="8.26" lengthAdjust="spacingAndGlyphs">1</text>
<text x="35.91" y="533.60" font-size="16.3" fill="#000" textLength="24.55" lengthAdjust="spacingAndGlyphs">0.1</text>
<line x1="72.49" y1="528.00" x2="72.49" y2="523.50" stroke="#000" stroke-width="1"/>
<line x1="72.49" y1="324.40" x2="72.49" y2="328.90" stroke="#000" stroke-width="1"/>
<line x1="96.26" y1="528.00" x2="96.26" y2="523.50" stroke="#000" stroke-width="1"/>
<line x1="96.26" y1="324.40" x2="96.26" y2="328.90" stroke="#000" stroke-width="1"/>
<line x1="136.90" y1="528.00" x2="136.90" y2="519.80" stroke="#000" stroke-width="1"/>
<line x1="136.90" y1="324.40" x2="136.90" y2="332.60" stroke="#000" stroke-width="1"/>
<line x1="143.08" y1="528.00" x2="143.08" y2="523.50" stroke="#000" stroke-width="1"/>
<line x1="143.08" y1="324.40" x2="143.08" y2="328.90" stroke="#000" stroke-width="1"/>
<line x1="149.98" y1="528.00" x2="149.98" y2="523.50" stroke="#000" stroke-width="1"/>
<line x1="149.98" y1="324.40" x2="149.98" y2="328.90" stroke="#000" stroke-width="1"/>
<line x1="157.81" y1="528.00" x2="157.81" y2="523.50" stroke="#000" stroke-width="1"/>
<line x1="157.81" y1="324.40" x2="157.81" y2="328.90" stroke="#000" stroke-width="1"/>
<line x1="166.85" y1="528.00" x2="166.85" y2="523.50" stroke="#000" stroke-width="1"/>
<line x1="166.85" y1="324.40" x2="166.85" y2="328.90" stroke="#000" stroke-width="1"/>
<line x1="177.54" y1="528.00" x2="177.54" y2="523.50" stroke="#000" stroke-width="1"/>
<line x1="177.54" y1="324.40" x2="177.54" y2="328.90" stroke="#000" stroke-width="1"/>
<line x1="190.62" y1="528.00" x2="190.62" y2="523.50" stroke="#000" stroke-width="1"/>
<line x1="190.62" y1="324.40" x2="190.62" y2="328.90" stroke="#000" stroke-width="1"/>
<line x1="207.49" y1="528.00" x2="207.49" y2="523.50" stroke="#000" stroke-width="1"/>
<line x1="207.49" y1="324.40" x2="207.49" y2="328.90" stroke="#000" stroke-width="1"/>
<line x1="231.26" y1="528.00" x2="231.26" y2="523.50" stroke="#000" stroke-width="1"/>
<line x1="231.26" y1="324.40" x2="231.26" y2="328.90" stroke="#000" stroke-width="1"/>
<line x1="271.90" y1="528.00" x2="271.90" y2="519.80" stroke="#000" stroke-width="1"/>
<line x1="271.90" y1="324.40" x2="271.90" y2="332.60" stroke="#000" stroke-width="1"/>
<line x1="278.08" y1="528.00" x2="278.08" y2="523.50" stroke="#000" stroke-width="1"/>
<line x1="278.08" y1="324.40" x2="278.08" y2="328.90" stroke="#000" stroke-width="1"/>
<line x1="284.98" y1="528.00" x2="284.98" y2="523.50" stroke="#000" stroke-width="1"/>
<line x1="284.98" y1="324.40" x2="284.98" y2="328.90" stroke="#000" stroke-width="1"/>
<line x1="292.81" y1="528.00" x2="292.81" y2="523.50" stroke="#000" stroke-width="1"/>
<line x1="292.81" y1="324.40" x2="292.81" y2="328.90" stroke="#000" stroke-width="1"/>
<line x1="301.85" y1="528.00" x2="301.85" y2="523.50" stroke="#000" stroke-width="1"/>
<line x1="301.85" y1="324.40" x2="301.85" y2="328.90" stroke="#000" stroke-width="1"/>
<line x1="312.54" y1="528.00" x2="312.54" y2="523.50" stroke="#000" stroke-width="1"/>
<line x1="312.54" y1="324.40" x2="312.54" y2="328.90" stroke="#000" stroke-width="1"/>
<text x="124.30" y="550.90" font-size="16.6" fill="#000" textLength="30.61" lengthAdjust="spacingAndGlyphs">100</text>
<text x="262.96" y="550.90" font-size="16.6" fill="#000" textLength="22.42" lengthAdjust="spacingAndGlyphs">10</text>
<text x="134.72" y="567.00" font-size="15.7" fill="#000" textLength="97.33" lengthAdjust="spacingAndGlyphs">Period (year)</text>
<text x="104.51" y="320.00" font-size="17.0" fill="#000" textLength="183.30" lengthAdjust="spacingAndGlyphs">Fourier Power Spectrum</text>
<text x="72.03" y="322.70" font-size="17.5" fill="#000" font-weight="bold" textLength="9.58" lengthAdjust="spacingAndGlyphs">c</text>
<text x="205.69" y="349.40" font-size="16.1" fill="#ff0000" textLength="82.25" lengthAdjust="spacingAndGlyphs">SPEAR_LO</text>
<text x="205.80" y="367.90" font-size="16.1" fill="#0000ff" textLength="95.44" lengthAdjust="spacingAndGlyphs">SPEAR_MED</text>
<text x="129.29" y="346.10" font-size="12.8" fill="#ff0000" textLength="28.93" lengthAdjust="spacingAndGlyphs">97 yr</text>
<text x="136.29" y="361.60" font-size="12.8" fill="#0000ff" textLength="28.93" lengthAdjust="spacingAndGlyphs">92 yr</text>
<text transform="translate(14.40,541.27) rotate(-90)" font-size="17.5" textLength="229.41" lengthAdjust="spacingAndGlyphs">Normalized Power Density (<tspan font-size="20.5">σ</tspan><tspan dy="-8" font-size="9">2</tspan><tspan dy="8">)</tspan></text>
<rect x="391.1" y="337.4" width="275.8" height="176.9" fill="none" stroke="#000" stroke-width="1.3"/>
<polyline points="391.1,514.3 409.4,514.3 414.0,510.8 418.6,509.1 423.2,506.5 427.8,506.7 432.4,504.7 437.0,501.6 441.6,499.9 446.2,499.2 450.8,500.3 455.4,503.0 460.0,488.0 464.5,476.2 469.1,488.3 473.7,484.6 478.3,460.0 482.9,461.0 487.5,460.0 492.1,468.2 496.7,471.3 501.3,459.4 505.9,465.8 510.5,446.0 515.1,440.8 519.7,410.6 524.3,405.0 528.9,412.8 533.5,428.6 538.1,396.5 542.7,416.8 547.3,381.5 551.9,366.3 556.5,376.8 561.1,403.4 565.7,418.0 570.3,455.5 574.9,471.6 579.5,468.1 584.1,472.5 588.7,463.8 593.3,495.3 597.8,507.5 602.4,513.7 607.0,514.3 611.6,514.3 616.2,514.3 620.8,514.3 625.4,514.3 630.0,514.3 634.6,514.3 639.2,514.3 643.8,514.3 648.4,514.3 666.9,514.3" fill="none" stroke="#f03040" stroke-width="2.0" stroke-linejoin="round"/>
<polyline points="391.1,514.3 409.4,514.3 414.0,514.3 418.6,514.3 423.2,514.3 427.8,512.9 432.4,511.7 437.0,507.6 441.6,512.6 446.2,506.5 450.8,508.5 455.4,502.5 460.0,492.9 464.5,485.7 469.1,489.7 473.7,493.8 478.3,486.2 482.9,467.3 487.5,454.7 492.1,453.1 496.7,450.5 501.3,441.0 505.9,434.7 510.5,417.2 515.1,414.6 519.7,412.0 524.3,421.0 528.9,386.1 533.5,381.9 538.1,384.9 542.7,371.7 547.3,394.4 551.9,391.5 556.5,397.1 561.1,428.7 565.7,417.5 570.3,446.3 574.9,459.4 579.5,465.9 584.1,497.0 588.7,507.5 593.3,511.0 597.8,513.7 602.4,514.3 607.0,514.3 611.6,514.3 616.2,514.3 620.8,514.3 625.4,514.3 630.0,514.3 634.6,514.3 639.2,514.3 643.8,514.3 648.4,514.3 666.9,514.3" fill="none" stroke="#2a46f2" stroke-width="2.0" stroke-linejoin="round"/>
<line x1="528.90" y1="514.30" x2="528.90" y2="337.40" stroke="#6e6e6e" stroke-width="1.5" stroke-dasharray="3.4 3.55"/>
<line x1="388.10" y1="514.30" x2="391.10" y2="514.30" stroke="#000" stroke-width="1"/>
<text x="380.83" y="517.80" font-size="10.2" fill="#000" textLength="5.67" lengthAdjust="spacingAndGlyphs">0</text>
<line x1="388.10" y1="492.19" x2="391.10" y2="492.19" stroke="#000" stroke-width="1"/>
<text x="380.93" y="495.69" font-size="10.2" fill="#000" textLength="5.67" lengthAdjust="spacingAndGlyphs">1</text>
<line x1="388.10" y1="470.07" x2="391.10" y2="470.07" stroke="#000" stroke-width="1"/>
<text x="380.94" y="473.57" font-size="10.2" fill="#000" textLength="5.67" lengthAdjust="spacingAndGlyphs">2</text>
<line x1="388.10" y1="447.96" x2="391.10" y2="447.96" stroke="#000" stroke-width="1"/>
<text x="380.88" y="451.46" font-size="10.2" fill="#000" textLength="5.67" lengthAdjust="spacingAndGlyphs">3</text>
<line x1="388.10" y1="425.85" x2="391.10" y2="425.85" stroke="#000" stroke-width="1"/>
<text x="380.73" y="429.35" font-size="10.2" fill="#000" textLength="5.67" lengthAdjust="spacingAndGlyphs">4</text>
<line x1="388.10" y1="403.74" x2="391.10" y2="403.74" stroke="#000" stroke-width="1"/>
<text x="380.86" y="407.24" font-size="10.2" fill="#000" textLength="5.67" lengthAdjust="spacingAndGlyphs">5</text>
<line x1="388.10" y1="381.62" x2="391.10" y2="381.62" stroke="#000" stroke-width="1"/>
<text x="380.88" y="385.12" font-size="10.2" fill="#000" textLength="5.67" lengthAdjust="spacingAndGlyphs">6</text>
<line x1="388.10" y1="359.51" x2="391.10" y2="359.51" stroke="#000" stroke-width="1"/>
<text x="380.94" y="363.01" font-size="10.2" fill="#000" textLength="5.67" lengthAdjust="spacingAndGlyphs">7</text>
<line x1="388.10" y1="337.40" x2="391.10" y2="337.40" stroke="#000" stroke-width="1"/>
<text x="380.87" y="340.90" font-size="10.2" fill="#000" textLength="5.67" lengthAdjust="spacingAndGlyphs">8</text>
<line x1="391.00" y1="514.30" x2="391.00" y2="517.30" stroke="#000" stroke-width="1"/>
<text x="387.77" y="527.10" font-size="10.2" fill="#000" textLength="11.40" lengthAdjust="spacingAndGlyphs">−3</text>
<line x1="413.98" y1="514.30" x2="413.98" y2="517.30" stroke="#000" stroke-width="1"/>
<text x="406.58" y="527.10" font-size="10.2" fill="#000" textLength="19.73" lengthAdjust="spacingAndGlyphs">−2.5</text>
<line x1="436.97" y1="514.30" x2="436.97" y2="517.30" stroke="#000" stroke-width="1"/>
<text x="433.77" y="527.10" font-size="10.2" fill="#000" textLength="11.40" lengthAdjust="spacingAndGlyphs">−2</text>
<line x1="459.95" y1="514.30" x2="459.95" y2="517.30" stroke="#000" stroke-width="1"/>
<text x="452.55" y="527.10" font-size="10.2" fill="#000" textLength="19.73" lengthAdjust="spacingAndGlyphs">−1.5</text>
<line x1="482.93" y1="514.30" x2="482.93" y2="517.30" stroke="#000" stroke-width="1"/>
<text x="479.73" y="527.10" font-size="10.2" fill="#000" textLength="11.40" lengthAdjust="spacingAndGlyphs">−1</text>
<line x1="505.92" y1="514.30" x2="505.92" y2="517.30" stroke="#000" stroke-width="1"/>
<text x="498.51" y="527.10" font-size="10.2" fill="#000" textLength="19.73" lengthAdjust="spacingAndGlyphs">−0.5</text>
<line x1="528.90" y1="514.30" x2="528.90" y2="517.30" stroke="#000" stroke-width="1"/>
<text x="528.62" y="527.10" font-size="10.2" fill="#000" textLength="5.56" lengthAdjust="spacingAndGlyphs">0</text>
<line x1="551.88" y1="514.30" x2="551.88" y2="517.30" stroke="#000" stroke-width="1"/>
<text x="547.45" y="527.10" font-size="10.2" fill="#000" textLength="13.90" lengthAdjust="spacingAndGlyphs">0.5</text>
<line x1="574.87" y1="514.30" x2="574.87" y2="517.30" stroke="#000" stroke-width="1"/>
<text x="574.45" y="527.10" font-size="10.2" fill="#000" textLength="5.56" lengthAdjust="spacingAndGlyphs">1</text>
<line x1="597.85" y1="514.30" x2="597.85" y2="517.30" stroke="#000" stroke-width="1"/>
<text x="593.23" y="527.10" font-size="10.2" fill="#000" textLength="13.90" lengthAdjust="spacingAndGlyphs">1.5</text>
<line x1="620.83" y1="514.30" x2="620.83" y2="517.30" stroke="#000" stroke-width="1"/>
<text x="620.55" y="527.10" font-size="10.2" fill="#000" textLength="5.56" lengthAdjust="spacingAndGlyphs">2</text>
<line x1="643.82" y1="514.30" x2="643.82" y2="517.30" stroke="#000" stroke-width="1"/>
<text x="639.33" y="527.10" font-size="10.2" fill="#000" textLength="13.90" lengthAdjust="spacingAndGlyphs">2.5</text>
<line x1="666.80" y1="514.30" x2="666.80" y2="517.30" stroke="#000" stroke-width="1"/>
<text x="666.55" y="527.10" font-size="10.2" fill="#000" textLength="5.56" lengthAdjust="spacingAndGlyphs">3</text>
<text x="413.72" y="332.50" font-size="16.8" fill="#000" textLength="236.29" lengthAdjust="spacingAndGlyphs">PDF of Antarctic SIE anomalies</text>
<text x="393.34" y="333.70" font-size="16.5" fill="#000" font-weight="bold" textLength="10.61" lengthAdjust="spacingAndGlyphs">d</text>
<text x="566.49" y="355.60" font-size="15.7" fill="#ff0000" textLength="82.25" lengthAdjust="spacingAndGlyphs">SPEAR_LO</text>
<text x="566.50" y="374.20" font-size="15.7" fill="#0000ff" textLength="95.75" lengthAdjust="spacingAndGlyphs">SPEAR_MED</text>
<text x="591.16" y="441.80" font-size="12.6" fill="#ff0000" textLength="69.91" lengthAdjust="spacingAndGlyphs">Median 0.14</text>
<text x="591.16" y="457.00" font-size="12.6" fill="#0000ff" textLength="70.10" lengthAdjust="spacingAndGlyphs">Median 0.08</text>
<text x="388.40" y="545.60" font-size="15.7" fill="#000" textLength="282.96" lengthAdjust="spacingAndGlyphs">Standardized Antarcitc SIE anomalies (σ)</text>
<text transform="translate(369.00,518.07) rotate(-90)" font-size="15.9" textLength="182.43" lengthAdjust="spacingAndGlyphs">Probability Distribution (%)</text>
</svg></body></html>
